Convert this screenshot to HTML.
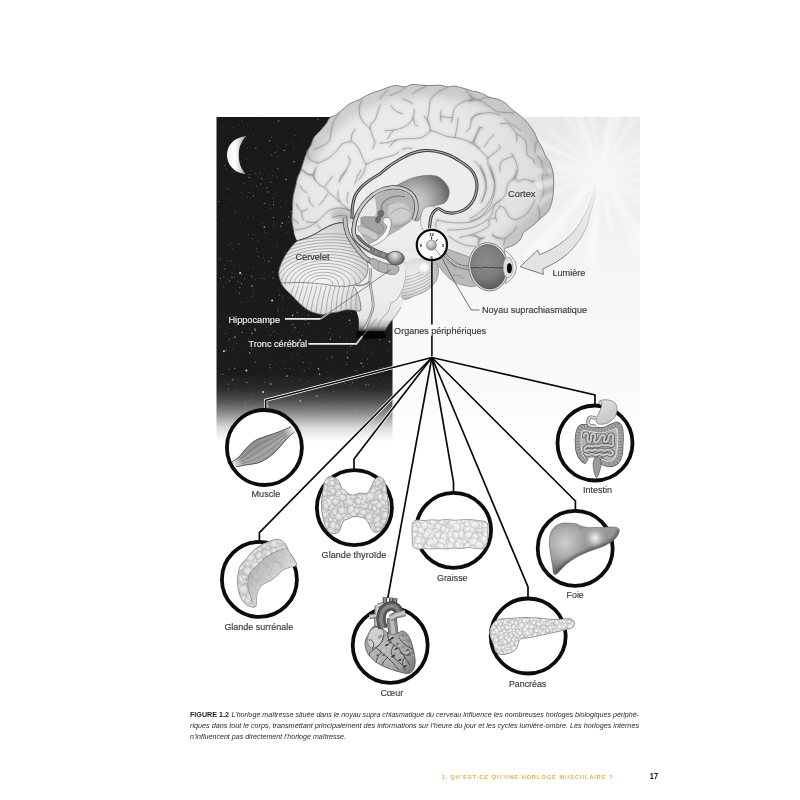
<!DOCTYPE html>
<html lang="fr">
<head>
<meta charset="utf-8">
<title>Figure 1.2 – L’horloge maîtresse</title>
<style>
html,body{margin:0;padding:0;background:#fff;}
body{width:800px;height:800px;overflow:hidden;font-family:"Liberation Sans",sans-serif;}
svg{display:block;}
</style>
</head>
<body>
<svg width="800" height="800" viewBox="0 0 800 800">
<defs>
<linearGradient id="gDark" x1="0" y1="117" x2="0" y2="441" gradientUnits="userSpaceOnUse">
<stop offset="0" stop-color="#191919"/>
<stop offset="0.79" stop-color="#1b1b1b"/>
<stop offset="0.84" stop-color="#2c2c2c"/>
<stop offset="0.88" stop-color="#565656"/>
<stop offset="0.92" stop-color="#979797"/>
<stop offset="0.96" stop-color="#dcdcdc"/>
<stop offset="1" stop-color="#ffffff"/>
</linearGradient>
<linearGradient id="gLight" x1="0" y1="117" x2="0" y2="441" gradientUnits="userSpaceOnUse">
<stop offset="0" stop-color="#e7e7e7"/>
<stop offset="0.2" stop-color="#ececec"/>
<stop offset="0.42" stop-color="#f4f4f4"/>
<stop offset="0.55" stop-color="#f7f7f7"/>
<stop offset="0.85" stop-color="#fafafa"/>
<stop offset="1" stop-color="#ffffff"/>
</linearGradient>
<radialGradient id="gSun" cx="601" cy="171" r="60" gradientUnits="userSpaceOnUse">
<stop offset="0" stop-color="#fff" stop-opacity="0.55"/>
<stop offset="0.3" stop-color="#fff" stop-opacity="0.4"/>
<stop offset="0.6" stop-color="#fff" stop-opacity="0.2"/>
<stop offset="1" stop-color="#fff" stop-opacity="0"/>
</radialGradient>
<linearGradient id="gMoon" x1="227" y1="0" x2="246" y2="0" gradientUnits="userSpaceOnUse">
<stop offset="0" stop-color="#f4f4f4"/>
<stop offset="0.45" stop-color="#ffffff"/>
<stop offset="1" stop-color="#9a9a9a"/>
</linearGradient>
<clipPath id="cSunClip"><rect x="392.5" y="117" width="247.5" height="324"/></clipPath>
</defs>
<rect x="0" y="0" width="800" height="800" fill="#fff"/>
<rect x="392.5" y="117" width="247.5" height="324" fill="url(#gLight)"/>
<filter id="bSun" x="-30%" y="-30%" width="160%" height="160%"><feGaussianBlur stdDeviation="1.6"/></filter>
<g clip-path="url(#cSunClip)"><g filter="url(#bSun)"><path d="M601 171 L720.8 163.3 L720.9 177.1 Z" fill="#fff" fill-opacity="0.34"/><path d="M601 171 L671.8 184.2 L669.8 192.4 Z" fill="#fff" fill-opacity="0.35"/><path d="M601 171 L661.0 198.9 L656.7 206.6 Z" fill="#fff" fill-opacity="0.29"/><path d="M601 171 L687.7 230.4 L678.9 241.5 Z" fill="#fff" fill-opacity="0.21"/><path d="M601 171 L659.7 255.0 L646.8 262.7 Z" fill="#fff" fill-opacity="0.38"/><path d="M601 171 L641.7 256.1 L635.5 258.8 Z" fill="#fff" fill-opacity="0.22"/><path d="M601 171 L613.8 231.6 L608.4 232.5 Z" fill="#fff" fill-opacity="0.34"/><path d="M601 171 L596.9 264.7 L584.1 263.2 Z" fill="#fff" fill-opacity="0.39"/><path d="M601 171 L574.4 256.7 L564.1 252.8 Z" fill="#fff" fill-opacity="0.28"/><path d="M601 171 L536.4 265.7 L523.0 255.0 Z" fill="#fff" fill-opacity="0.41"/><path d="M601 171 L545.8 227.2 L541.1 222.2 Z" fill="#fff" fill-opacity="0.22"/><path d="M601 171 L499.9 225.9 L494.8 215.3 Z" fill="#fff" fill-opacity="0.32"/><path d="M601 171 L542.8 185.6 L541.3 177.5 Z" fill="#fff" fill-opacity="0.26"/><path d="M601 171 L477.3 170.5 L478.0 157.3 Z" fill="#fff" fill-opacity="0.32"/><path d="M601 171 L491.2 157.6 L493.6 144.5 Z" fill="#fff" fill-opacity="0.28"/><path d="M601 171 L487.0 125.8 L491.8 115.0 Z" fill="#fff" fill-opacity="0.43"/><path d="M601 171 L547.1 132.0 L550.8 127.3 Z" fill="#fff" fill-opacity="0.22"/><path d="M601 171 L546.2 91.7 L553.1 87.4 Z" fill="#fff" fill-opacity="0.33"/><path d="M601 171 L570.0 109.9 L578.1 106.4 Z" fill="#fff" fill-opacity="0.39"/><path d="M601 171 L584.4 99.0 L592.0 97.7 Z" fill="#fff" fill-opacity="0.28"/><path d="M601 171 L610.5 91.8 L621.0 93.8 Z" fill="#fff" fill-opacity="0.47"/><path d="M601 171 L632.0 59.7 L643.1 63.4 Z" fill="#fff" fill-opacity="0.39"/><path d="M601 171 L634.7 105.3 L644.1 111.0 Z" fill="#fff" fill-opacity="0.28"/><path d="M601 171 L659.8 117.9 L664.6 123.8 Z" fill="#fff" fill-opacity="0.22"/><path d="M601 171 L663.6 128.3 L668.1 135.8 Z" fill="#fff" fill-opacity="0.38"/><path d="M601 171 L717.4 133.4 L720.7 145.9 Z" fill="#fff" fill-opacity="0.35"/></g><circle cx="601" cy="171" r="60" fill="url(#gSun)"/></g>
<rect x="216.5" y="117" width="176" height="324" fill="url(#gDark)"/>
<filter id="fStar" x="-5%" y="-5%" width="110%" height="110%"><feGaussianBlur stdDeviation="0.35"/></filter>
<g fill="none" stroke="#fff" stroke-linecap="round" filter="url(#fStar)"><path d="M259.5 278.5h0M282.3 295.9h0M326.4 138.2h0M220.8 364.4h0M263.2 187.7h0M390.2 256.8h0M362.8 258.6h0M328.7 163.1h0M328.0 373.3h0M308.7 336.2h0M334.3 137.8h0M349.3 292.2h0M270.5 128.1h0M367.8 257.5h0M342.5 376.5h0M356.7 249.3h0M379.9 376.5h0M235.3 158.8h0M326.6 207.2h0M306.0 232.1h0M279.0 290.4h0M319.3 383.9h0M336.1 391.2h0M389.4 315.7h0M246.6 371.2h0M384.9 384.1h0M316.7 328.1h0M254.9 362.7h0M317.4 202.5h0M229.4 369.2h0M389.2 144.9h0M356.6 239.3h0M244.5 205.1h0M351.1 374.7h0M226.1 299.1h0M226.3 329.5h0M275.6 377.1h0M387.7 267.1h0M390.7 209.7h0M231.8 294.7h0M223.9 176.8h0M288.9 297.9h0M245.4 131.4h0M368.2 211.0h0M383.9 381.7h0M283.7 253.9h0M308.2 307.7h0M321.2 282.9h0M325.5 394.6h0M292.9 330.1h0M259.5 207.2h0M387.2 271.7h0M313.1 122.4h0M290.1 288.9h0M222.0 299.4h0M327.6 136.6h0M326.7 255.6h0M335.7 222.3h0M340.4 335.2h0M222.3 136.7h0M297.2 292.7h0M273.7 225.6h0M272.4 227.2h0M321.2 207.0h0M283.6 345.3h0M223.1 285.8h0M345.3 209.8h0M256.9 354.5h0M259.7 173.9h0M293.6 323.5h0M236.1 213.3h0M276.1 363.2h0M294.1 369.7h0M247.7 217.7h0M330.7 378.3h0M296.3 184.9h0M239.4 274.2h0M251.4 355.4h0M363.1 172.8h0M266.6 355.5h0M329.2 355.2h0M278.1 157.0h0M268.9 351.6h0M265.3 220.5h0M290.4 242.0h0M219.3 395.4h0M388.7 246.3h0M347.1 364.2h0M332.9 271.1h0M268.4 218.9h0M257.7 138.9h0M320.0 203.1h0M358.3 132.2h0M374.4 322.3h0M377.9 381.7h0M373.7 288.0h0M220.8 337.4h0M248.1 206.9h0M332.8 272.8h0M289.9 394.1h0M277.4 193.0h0M367.1 258.8h0M353.5 222.1h0M252.5 275.6h0M359.4 169.2h0M355.1 389.1h0M360.6 121.2h0M326.9 371.7h0M227.1 198.5h0M264.8 273.5h0M291.5 257.6h0M352.4 119.5h0M228.0 156.2h0M240.0 139.0h0M386.6 369.4h0M233.4 266.1h0M273.0 211.2h0M279.1 308.5h0M319.7 224.7h0M251.5 215.3h0M239.8 281.8h0M342.0 230.4h0M232.3 171.3h0M282.9 296.1h0M353.5 230.4h0M356.7 301.5h0M292.9 228.1h0M304.1 324.9h0M291.0 322.4h0M298.0 190.8h0M310.9 322.7h0M230.8 243.5h0M292.0 376.7h0M380.0 228.7h0M373.4 350.7h0M263.7 255.0h0M239.7 357.3h0M332.7 379.0h0M355.2 314.6h0M345.1 284.2h0M236.3 291.2h0M219.3 161.1h0M352.1 132.0h0M234.3 148.1h0M370.4 171.5h0M222.6 365.6h0M239.4 366.3h0M334.7 364.0h0M382.8 288.7h0M356.3 129.6h0M350.9 268.8h0M341.9 150.3h0M274.4 284.2h0M361.3 189.9h0M249.5 192.2h0M324.8 339.8h0M286.4 226.7h0M286.9 221.6h0M290.6 143.4h0M347.4 166.1h0M337.7 340.5h0M334.7 270.5h0M301.9 307.4h0M373.3 162.8h0M235.0 338.2h0M376.6 270.6h0M294.9 329.6h0M250.6 197.3h0M252.9 290.6h0M272.8 187.1h0M340.2 240.1h0M365.8 290.3h0M264.6 182.8h0M222.5 259.5h0M284.5 169.5h0M280.7 213.4h0M352.1 161.1h0M389.5 259.5h0M321.8 256.1h0M362.5 359.7h0M314.6 260.0h0M342.8 370.0h0M287.5 333.9h0M384.1 255.9h0M258.1 187.8h0M342.3 316.9h0M383.9 369.2h0M260.3 174.6h0M263.1 173.8h0M340.1 370.6h0M373.7 193.7h0M367.7 210.8h0M291.5 332.6h0M233.3 146.1h0M362.4 204.5h0M280.0 289.0h0M335.0 121.0h0M276.3 246.8h0M302.3 180.6h0M312.4 153.9h0M265.9 314.0h0M237.9 378.9h0M375.3 147.4h0M380.9 228.6h0M351.7 340.9h0M269.5 317.0h0M331.3 355.2h0M264.3 340.0h0M384.3 316.1h0M311.0 152.2h0M303.7 222.2h0M342.4 317.8h0M316.2 172.3h0M329.9 303.8h0M249.4 379.7h0M331.6 155.1h0M379.2 160.4h0M275.7 330.1h0M321.6 281.6h0M330.2 253.1h0M272.4 170.7h0M230.3 328.7h0M348.6 278.1h0M346.1 224.3h0M264.4 231.3h0M369.0 131.3h0M305.6 191.4h0M351.1 222.8h0M275.9 237.2h0M311.9 345.1h0M279.4 367.1h0M237.8 198.3h0M235.7 152.0h0M352.9 332.1h0M250.4 174.4h0M290.4 336.8h0M359.2 338.4h0M320.6 161.9h0M287.2 175.7h0M309.5 285.5h0M253.4 192.3h0M353.3 127.8h0M357.0 380.1h0M382.3 231.3h0M313.8 289.8h0M327.8 405.3h0M270.1 371.0h0M302.0 295.2h0M343.9 119.7h0M351.4 312.9h0M303.3 272.4h0M297.9 175.7h0M309.8 129.9h0M304.8 308.3h0M295.1 284.8h0M383.9 380.4h0M241.9 351.2h0M326.0 133.8h0M280.6 187.4h0M231.9 276.9h0M378.9 213.7h0M368.7 322.5h0M241.7 370.5h0M322.2 390.6h0M346.1 219.7h0M357.7 392.0h0M293.9 340.8h0M302.2 151.0h0M225.9 141.8h0M253.1 166.1h0M304.3 323.9h0M311.2 242.7h0M330.5 208.3h0M298.6 340.8h0M287.8 171.9h0M373.6 329.9h0M281.8 227.7h0M309.8 293.8h0M257.1 119.8h0M254.6 348.5h0M243.2 253.8h0M252.2 180.3h0M248.0 237.3h0M247.5 127.1h0M237.5 168.3h0M303.1 136.5h0M222.4 250.3h0M288.8 325.1h0M227.3 237.2h0M286.9 126.8h0M385.1 183.1h0M234.8 258.1h0M246.9 301.4h0M278.2 155.3h0M227.5 332.2h0M266.0 349.8h0M261.6 196.9h0M359.0 303.3h0M278.0 146.5h0M336.2 403.0h0M219.1 127.9h0M234.1 168.9h0M224.8 134.8h0M331.4 382.8h0M357.1 387.8h0M224.4 208.3h0M269.1 368.0h0M238.3 233.2h0M276.1 318.3h0M378.7 170.2h0M346.1 334.0h0M362.7 281.1h0M377.8 225.3h0M290.0 186.2h0M353.0 259.8h0M265.0 168.7h0M342.8 296.5h0M341.1 232.3h0M302.5 164.1h0M341.1 125.7h0M299.0 341.2h0M335.3 147.4h0M259.4 366.2h0M329.3 376.4h0M369.0 250.8h0M373.2 333.7h0M276.1 227.4h0M230.9 236.0h0M383.4 149.8h0M316.6 151.3h0M232.5 309.2h0M260.0 133.3h0M244.8 307.9h0M319.5 122.4h0M315.5 241.9h0M353.2 296.1h0M354.5 275.8h0M251.0 171.0h0M232.1 360.9h0M237.9 126.0h0M385.2 177.4h0M372.6 144.1h0M298.8 184.3h0M361.6 299.3h0M329.2 342.1h0M368.9 220.4h0M322.5 249.6h0M237.6 363.8h0M321.0 357.7h0M254.0 277.0h0M298.6 332.3h0M231.8 220.4h0M302.1 140.0h0M313.8 334.4h0M291.4 309.0h0M323.0 181.8h0M292.8 143.7h0M256.1 167.4h0M379.1 331.8h0M369.4 408.1h0M379.2 276.0h0M290.7 396.8h0M382.3 260.9h0M351.9 238.2h0M379.6 173.1h0M235.0 330.7h0M269.3 271.2h0M328.8 130.9h0M347.0 199.9h0M293.1 220.0h0M346.5 337.8h0M268.1 149.3h0M270.1 239.4h0M231.9 163.9h0M350.1 324.2h0M386.9 406.0h0M282.8 166.3h0M272.3 254.7h0M309.2 277.8h0M280.6 368.8h0M267.7 254.7h0M371.5 355.5h0M269.8 190.1h0M357.7 121.9h0M241.2 274.5h0M310.9 167.6h0M227.2 178.8h0M351.3 255.5h0M387.4 349.2h0M387.4 129.3h0M250.4 122.9h0M293.1 218.1h0M227.3 279.0h0M234.7 210.3h0M261.1 354.0h0M290.6 195.3h0M226.1 244.9h0M326.7 316.8h0M375.9 355.9h0M261.2 158.7h0M349.3 350.3h0M306.3 362.5h0M313.7 200.9h0M247.6 124.0h0M329.4 381.8h0" stroke-width="0.9" stroke-opacity="0.16"/><path d="M374.8 256.0h0M333.3 391.1h0M322.5 240.4h0M307.9 169.0h0M250.1 319.3h0M389.6 279.3h0M288.9 222.1h0M297.0 354.3h0M272.8 271.9h0M289.5 368.4h0M361.3 391.9h0M223.8 287.3h0M313.3 261.9h0M266.8 326.9h0M375.8 149.0h0M333.8 227.8h0M307.3 381.4h0M384.2 307.6h0M284.6 361.7h0M273.0 198.4h0M286.2 201.6h0M241.2 192.3h0M387.6 142.2h0M258.1 177.6h0M232.2 273.2h0M346.7 364.6h0M327.4 358.6h0M219.4 201.7h0M384.3 139.3h0M264.7 260.5h0M264.7 279.0h0M226.6 188.1h0M383.7 161.3h0M374.7 171.1h0M389.8 316.7h0M330.1 160.7h0M227.9 341.5h0M248.9 174.6h0M360.4 375.3h0M226.9 400.5h0M284.5 150.4h0M241.2 161.6h0M240.4 222.3h0M376.3 141.6h0M251.6 394.2h0M387.5 191.1h0M339.8 210.8h0M222.2 220.2h0M347.6 348.1h0M316.6 255.0h0M311.3 248.6h0M310.7 363.1h0M253.1 293.1h0M379.4 367.6h0M249.5 401.3h0M247.5 196.9h0M253.4 134.5h0M387.3 238.9h0M369.0 152.6h0M220.9 373.8h0M355.5 409.5h0M309.1 343.4h0M234.5 277.3h0M294.6 161.9h0M322.1 213.7h0M305.9 228.4h0M273.4 224.0h0M322.2 406.3h0M367.2 363.7h0M239.7 265.7h0M344.8 218.9h0M329.8 201.7h0M385.3 251.7h0M300.9 274.7h0M369.4 408.1h0M294.7 300.0h0M230.5 243.7h0M364.7 346.8h0M228.7 369.4h0M255.5 279.8h0M371.0 245.3h0M368.1 327.4h0M280.9 207.1h0M305.7 235.9h0M282.8 310.0h0M369.5 290.2h0M243.7 183.4h0M282.5 299.1h0M242.6 142.9h0M273.8 201.9h0M223.6 276.9h0M377.4 275.6h0M345.7 361.7h0M336.2 154.4h0M370.3 229.8h0M300.5 379.9h0M268.0 174.6h0M360.6 294.5h0M233.1 127.2h0M279.1 121.2h0M362.1 172.8h0M265.8 232.9h0M306.8 245.7h0M326.9 312.3h0M293.7 147.4h0M387.4 321.5h0M232.9 248.4h0M220.1 259.6h0M291.3 381.1h0M361.1 216.2h0M290.7 289.8h0M371.0 178.2h0M286.1 144.9h0M329.1 126.8h0M379.8 272.5h0M317.5 144.0h0M258.6 256.4h0M366.4 276.9h0M267.6 406.7h0M309.6 178.3h0M270.0 382.7h0M241.4 274.8h0M325.4 223.0h0M351.1 385.6h0M345.8 178.6h0M228.8 245.8h0M272.3 175.8h0M368.8 182.3h0M376.1 235.4h0M255.1 173.6h0M225.0 265.1h0M284.8 368.5h0M362.2 135.7h0M287.7 233.0h0M249.1 192.5h0M263.9 322.4h0M277.2 151.6h0M256.5 248.6h0M315.9 190.9h0M339.2 182.1h0M334.2 297.5h0M248.8 339.1h0M286.5 277.1h0M321.6 303.0h0M294.8 135.4h0M354.2 370.9h0M303.1 288.6h0M264.8 382.3h0M336.8 184.0h0M390.2 260.6h0M249.3 329.0h0M277.0 333.6h0M319.1 150.5h0M309.6 368.3h0M300.9 277.0h0M367.4 249.9h0M303.5 289.8h0M360.6 178.5h0M234.6 342.0h0M313.8 207.7h0M372.4 378.2h0M311.9 408.6h0M347.5 204.3h0M220.4 317.8h0M345.3 221.7h0M301.1 285.2h0M261.6 323.4h0M315.5 232.0h0M237.4 281.3h0M273.6 331.4h0M248.3 234.6h0M252.3 238.6h0M317.9 150.3h0M228.0 260.3h0M253.3 267.0h0M247.3 148.5h0M311.2 389.5h0M307.4 235.4h0M229.9 200.0h0M382.0 258.7h0M293.4 195.8h0M384.5 173.5h0M317.1 268.7h0M252.9 184.3h0M388.5 350.7h0M345.0 383.5h0M235.5 325.1h0M348.0 185.0h0M350.0 167.4h0M333.6 197.9h0M306.3 228.1h0M368.6 337.2h0M305.5 320.4h0M292.3 354.7h0M262.9 278.4h0M319.5 232.7h0M226.5 168.8h0M329.0 180.9h0M349.3 266.9h0M382.9 367.4h0M344.0 228.1h0M226.0 282.1h0M245.8 406.3h0M302.1 335.4h0M244.3 278.4h0M333.8 295.9h0M246.3 159.1h0M326.3 378.1h0M242.3 121.1h0M232.8 349.1h0M285.9 252.5h0M390.0 298.1h0M263.9 324.4h0M218.8 201.5h0M339.0 169.1h0M224.1 270.8h0M356.9 232.8h0M357.4 249.4h0M333.6 214.7h0M257.2 251.6h0M356.5 220.2h0M258.2 240.8h0M235.0 211.5h0M317.3 278.8h0M321.6 204.0h0M222.8 126.8h0M277.0 176.6h0M316.6 196.8h0M349.9 295.2h0M332.8 334.5h0M308.5 244.0h0M271.7 137.4h0M355.5 265.5h0M235.7 390.5h0M326.1 247.5h0M304.7 259.5h0M220.5 257.8h0M219.3 326.6h0M368.4 384.4h0M226.8 316.8h0M271.1 257.5h0M270.3 208.4h0M241.4 302.3h0M384.8 175.1h0M232.9 337.2h0M310.1 344.3h0M306.2 303.7h0M232.8 316.4h0M230.3 317.1h0M378.3 242.6h0M341.1 283.2h0M285.9 255.4h0M322.3 127.5h0M271.2 335.3h0M263.0 257.6h0M262.8 223.8h0M330.7 336.9h0M383.6 258.7h0M253.5 217.7h0M228.6 189.2h0M319.3 298.1h0M260.2 172.2h0M235.4 171.3h0M305.0 193.8h0M370.9 284.5h0M277.2 245.3h0M225.4 333.7h0M348.1 225.5h0M343.6 198.8h0M256.4 185.9h0M252.4 296.5h0M329.3 332.2h0M236.4 343.5h0M301.0 229.9h0M305.3 245.8h0M253.0 234.7h0M329.9 328.6h0M376.3 176.0h0M372.2 353.5h0" stroke-width="1.1" stroke-opacity="0.28"/><path d="M352.5 382.5h0M239.6 293.2h0M381.9 204.9h0M366.0 384.6h0M293.6 161.5h0M255.7 362.1h0M291.3 211.5h0M233.3 379.1h0M260.6 183.9h0M380.2 186.2h0M373.9 216.6h0M270.8 182.2h0M312.0 283.1h0M287.2 267.7h0M269.9 364.4h0M379.6 339.7h0M359.9 139.7h0M261.7 178.7h0M245.2 402.8h0M376.2 282.4h0M238.6 244.1h0M228.2 384.1h0M264.3 203.4h0M381.6 177.7h0M377.6 210.2h0M333.2 150.3h0M373.5 235.8h0M278.0 310.7h0M320.9 192.5h0M239.9 287.6h0M222.8 374.3h0M277.8 168.7h0M275.1 152.3h0M273.1 278.2h0M288.7 216.9h0M268.7 261.5h0M352.8 247.3h0M351.0 260.4h0M239.3 168.9h0M364.7 259.4h0M284.5 270.1h0M364.5 229.0h0M280.9 226.2h0M220.4 278.6h0M301.2 264.3h0M296.4 257.4h0M341.9 173.5h0M387.8 152.6h0M367.9 170.3h0M355.7 195.3h0M232.0 277.4h0M363.2 366.7h0M283.9 150.3h0M348.8 251.3h0M346.9 352.1h0M390.8 317.3h0M369.5 279.7h0M232.4 380.1h0M234.2 144.1h0M361.7 201.2h0M332.8 127.4h0M254.9 328.7h0M225.0 268.6h0M380.2 181.8h0M340.1 336.9h0M325.4 343.5h0M338.9 123.2h0M251.6 276.2h0M385.8 182.6h0M319.7 156.6h0M364.6 249.4h0M308.5 315.1h0M242.1 332.5h0M356.5 370.9h0M267.0 187.7h0M247.0 382.5h0M294.1 233.2h0M308.3 323.7h0M273.4 217.5h0M350.7 346.6h0M269.6 140.6h0M378.6 332.8h0M321.0 237.6h0M383.9 245.2h0M255.9 148.4h0M279.1 295.0h0M281.4 396.5h0M297.5 312.5h0M322.3 300.0h0M303.9 272.2h0M303.2 362.6h0M251.6 349.1h0M270.0 367.7h0M231.1 261.1h0M294.9 327.5h0M253.4 195.9h0M241.4 283.5h0M318.0 119.2h0M249.2 177.5h0M383.6 252.3h0M316.1 203.9h0M332.3 357.2h0M334.3 119.4h0M294.3 262.2h0M226.2 350.5h0M273.5 205.0h0M326.4 290.3h0M304.1 370.8h0M308.0 219.6h0M229.6 281.0h0M281.2 276.2h0M278.4 121.0h0M225.0 165.3h0M234.7 368.5h0M318.7 188.9h0M341.1 304.9h0M229.2 339.1h0M267.8 192.0h0M367.2 358.8h0M318.4 162.7h0M292.4 324.7h0M228.5 388.8h0M379.2 323.7h0M271.2 155.1h0" stroke-width="1.3" stroke-opacity="0.42"/><path d="M249.6 353.0h0M234.9 337.0h0M286.9 376.1h0M349.5 320.2h0M364.3 131.5h0M264.3 227.0h0M292.6 315.4h0M370.2 335.8h0M378.7 322.9h0M280.0 267.8h0M347.6 357.8h0M282.3 223.1h0M324.5 185.9h0M370.8 119.0h0M330.4 261.3h0M252.1 286.1h0M300.3 400.9h0M319.7 374.3h0M370.9 167.4h0M361.2 363.2h0M389.4 341.6h0M286.1 179.5h0M331.1 180.7h0M349.1 287.3h0M360.9 223.5h0M270.8 384.0h0M332.8 229.8h0M315.2 246.6h0M329.4 270.4h0M267.8 406.0h0M349.4 200.5h0M252.0 333.2h0M360.4 310.3h0M255.3 330.1h0M308.8 228.4h0M320.1 250.5h0M330.4 339.2h0M388.0 151.6h0M317.0 396.0h0M318.5 368.9h0" stroke-width="1.6" stroke-opacity="0.60"/><path d="M223.9 351.3h0M326.0 290.2h0M272.1 300.4h0M240.1 273.0h0M263.0 392.0h0M300.1 340.2h0M284.9 272.4h0M246.4 370.4h0" stroke-width="2.0" stroke-opacity="0.80"/></g>
<path d="M246.2 135.9 C233 137.5 227 146 227 155 C227 164 233 172.5 245.6 174.1 C240.5 168 238.8 162 238.8 155 C238.8 148 240.5 142 246.2 135.9Z" fill="url(#gMoon)"/>
<defs>
<filter id="b1" x="-20%" y="-20%" width="140%" height="140%"><feGaussianBlur stdDeviation="1.2"/></filter>
<filter id="b2" x="-20%" y="-20%" width="140%" height="140%"><feGaussianBlur stdDeviation="2.4"/></filter>
<filter id="b4" x="-30%" y="-30%" width="160%" height="160%"><feGaussianBlur stdDeviation="4.5"/></filter>
<filter id="b05" x="-20%" y="-20%" width="140%" height="140%"><feGaussianBlur stdDeviation="0.45"/></filter>
<radialGradient id="gCx" cx="395" cy="175" r="165" gradientUnits="userSpaceOnUse">
<stop offset="0" stop-color="#efefef"/>
<stop offset="0.5" stop-color="#e8e8e8"/>
<stop offset="0.8" stop-color="#e0e0e0"/>
<stop offset="1" stop-color="#d4d4d4"/>
</radialGradient>
<radialGradient id="gCb" cx="318" cy="272" r="52" gradientUnits="userSpaceOnUse">
<stop offset="0" stop-color="#f4f4f4"/>
<stop offset="0.6" stop-color="#e9e9e9"/>
<stop offset="1" stop-color="#cdcdcd"/>
</radialGradient>
<radialGradient id="gVent" cx="414" cy="203" r="38" gradientUnits="userSpaceOnUse">
<stop offset="0" stop-color="#d0d0d0"/>
<stop offset="0.35" stop-color="#bababa"/>
<stop offset="0.7" stop-color="#8c8c8c"/>
<stop offset="1" stop-color="#5e5e5e"/>
</radialGradient>
<linearGradient id="gStem" x1="0" y1="300" x2="0" y2="338" gradientUnits="userSpaceOnUse">
<stop offset="0" stop-color="#ececec"/>
<stop offset="0.5" stop-color="#e4e4e4"/>
<stop offset="0.68" stop-color="#b0b0b0"/>
<stop offset="0.82" stop-color="#3a3a3a"/>
<stop offset="0.9" stop-color="#0a0a0a"/>
<stop offset="1" stop-color="#050505"/>
</linearGradient>
<radialGradient id="gEye" cx="486" cy="262" r="27" gradientUnits="userSpaceOnUse">
<stop offset="0" stop-color="#8c8c8c"/>
<stop offset="0.6" stop-color="#7c7c7c"/>
<stop offset="1" stop-color="#5a5a5a"/>
</radialGradient>
<radialGradient id="gBulb" cx="394.5" cy="255.5" r="9" gradientUnits="userSpaceOnUse">
<stop offset="0" stop-color="#e8e8e8"/>
<stop offset="0.5" stop-color="#b0b0b0"/>
<stop offset="1" stop-color="#6c6c6c"/>
</radialGradient>
<radialGradient id="gNuc" cx="430.5" cy="243.5" r="6" gradientUnits="userSpaceOnUse">
<stop offset="0" stop-color="#e6e6e6"/>
<stop offset="0.7" stop-color="#b8b8b8"/>
<stop offset="1" stop-color="#8a8a8a"/>
</radialGradient>
<linearGradient id="gArrow" x1="596" y1="186" x2="560" y2="255" gradientUnits="userSpaceOnUse">
<stop offset="0" stop-color="#e6e6e6" stop-opacity="0.3"/>
<stop offset="0.3" stop-color="#e5e5e5" stop-opacity="0.9"/>
<stop offset="1" stop-color="#e3e3e3" stop-opacity="1"/>
</linearGradient>
<linearGradient id="gArrowS" x1="596" y1="186" x2="560" y2="255" gradientUnits="userSpaceOnUse">
<stop offset="0" stop-color="#999" stop-opacity="0"/>
<stop offset="0.4" stop-color="#999" stop-opacity="0.4"/>
<stop offset="1" stop-color="#707070" stop-opacity="1"/>
</linearGradient>
<radialGradient id="gPons" cx="414" cy="276" r="30" gradientUnits="userSpaceOnUse">
<stop offset="0" stop-color="#f0f0f0"/>
<stop offset="0.55" stop-color="#dedede"/>
<stop offset="1" stop-color="#b0b0b0"/>
</radialGradient>
<radialGradient id="gBall" cx="424" cy="267" r="7" gradientUnits="userSpaceOnUse">
<stop offset="0" stop-color="#ffffff"/>
<stop offset="0.6" stop-color="#f2f2f2"/>
<stop offset="1" stop-color="#cfcfcf"/>
</radialGradient>
</defs>
<path d="M596.0 186.0C595.9 187.5 596.0 191.8 595.5 195.0C595.0 198.2 593.9 201.7 593.0 205.0C592.1 208.3 591.0 211.6 590.0 215.0C589.0 218.4 588.5 221.8 587.0 225.5C585.5 229.2 583.8 233.2 581.0 237.5C578.2 241.8 574.5 247.0 570.5 251.0C566.5 255.0 561.6 258.5 557.0 261.5C552.4 264.5 545.1 267.8 542.7 269.0L543.5 274.4 L520.2 266.7 L537.5 250.2 L539.7 254.7C541.8 253.7 548.4 251.1 552.5 248.7C556.6 246.3 560.8 243.6 564.5 240.5C568.2 237.4 572.0 233.8 575.0 230.0C578.0 226.2 580.2 222.0 582.5 218.0C584.8 214.0 586.8 210.0 588.5 206.0C590.2 202.0 591.8 197.7 593.0 194.0C594.2 190.3 595.1 185.7 595.5 184.0Z" fill="url(#gArrow)" stroke="url(#gArrowS)" stroke-width="0.9" stroke-linejoin="miter"/>
<clipPath id="cCx"><path d="M293.7 230.0C293.2 227.3 292.2 223.3 292.0 220.0C291.8 216.7 292.3 213.6 292.5 210.0C292.7 206.4 292.7 201.9 293.0 198.7C293.3 195.5 293.9 193.3 294.4 191.0C294.9 188.7 295.5 187.2 296.0 185.0C296.5 182.8 296.7 180.5 297.5 178.0C298.3 175.5 300.0 172.8 301.0 170.0C302.0 167.2 302.6 164.2 303.7 161.0C304.8 157.8 306.3 153.7 307.5 151.0C308.7 148.3 309.9 147.2 311.0 145.0C312.1 142.8 312.5 139.8 314.0 137.5C315.5 135.2 318.0 133.2 320.0 131.0C322.0 128.8 324.3 126.2 326.0 124.0C327.7 121.8 328.5 118.9 330.0 117.5C331.5 116.1 333.5 116.4 335.0 115.6C336.5 114.8 337.3 113.8 339.0 112.5C340.7 111.2 343.0 109.1 345.0 107.5C347.0 105.9 348.5 104.3 351.0 103.0C353.5 101.7 357.2 100.7 360.0 99.4C362.8 98.1 365.0 96.2 367.5 95.0C370.0 93.8 372.9 92.7 375.0 92.0C377.1 91.3 377.9 91.3 380.0 90.6C382.1 89.8 384.8 88.3 387.5 87.5C390.2 86.7 393.1 85.7 396.0 85.6C398.9 85.5 402.5 87.1 405.0 86.9C407.5 86.8 408.5 85.0 411.0 84.7C413.5 84.4 416.8 84.8 420.0 85.0C423.2 85.2 426.7 85.6 430.0 85.6C433.3 85.6 437.1 85.0 440.0 85.2C442.9 85.4 445.0 86.7 447.5 86.9C450.0 87.1 452.1 85.9 455.0 86.2C457.9 86.5 462.1 87.9 465.0 88.7C467.9 89.5 470.4 90.7 472.5 91.2C474.6 91.7 475.4 91.3 477.5 91.9C479.6 92.5 482.9 94.1 485.0 95.0C487.1 95.9 487.7 96.8 490.0 97.5C492.3 98.2 496.0 98.4 498.7 99.4C501.4 100.4 503.7 101.9 506.0 103.7C508.3 105.5 510.6 108.3 512.5 110.0C514.4 111.7 515.6 112.2 517.5 113.7C519.4 115.2 521.6 116.7 523.7 118.7C525.8 120.8 528.1 123.5 530.0 126.0C531.9 128.5 533.8 131.4 535.0 133.7C536.2 136.0 536.3 137.7 537.5 140.0C538.7 142.3 540.8 145.0 542.0 147.5C543.2 150.0 543.7 152.5 545.0 155.0C546.3 157.5 548.7 159.6 550.0 162.5C551.3 165.4 552.4 169.6 553.0 172.5C553.6 175.4 553.6 177.1 553.7 180.0C553.8 182.9 553.7 186.9 553.5 190.0C553.3 193.1 553.1 195.8 552.5 198.7C551.9 201.6 551.1 205.0 550.0 207.5C548.9 210.0 547.7 211.8 546.0 213.7C544.3 215.6 541.8 217.0 540.0 218.7C538.2 220.4 536.9 222.0 535.0 223.7C533.1 225.4 530.6 227.2 528.7 228.7C526.8 230.2 525.2 230.6 523.7 232.5C522.2 234.4 521.7 237.9 520.0 240.0C518.3 242.1 515.8 243.8 513.7 245.0C511.6 246.2 509.2 246.9 507.5 247.5C505.8 248.1 505.6 246.9 503.7 248.7C501.8 250.4 499.3 255.8 496.0 258.0C492.7 260.2 488.3 262.0 484.0 262.0C479.7 262.0 475.3 259.0 470.0 258.0C464.7 257.0 457.0 255.3 452.0 256.0C447.0 256.7 443.7 261.0 440.0 262.0C436.3 263.0 435.0 262.0 430.0 262.0C425.0 262.0 416.7 262.0 410.0 262.0C403.3 262.0 396.7 262.7 390.0 262.0C383.3 261.3 375.7 260.7 370.0 258.0C364.3 255.3 360.2 249.7 356.0 246.0C351.8 242.3 348.5 238.3 345.0 236.0C341.5 233.7 339.2 232.2 335.0 232.0C330.8 231.8 324.6 233.8 320.0 235.0C315.4 236.2 311.2 238.1 307.5 239.0C303.8 239.9 300.1 241.1 298.0 240.6C295.9 240.1 295.7 237.8 295.0 236.0C294.3 234.2 294.2 232.7 293.7 230.0Z"/></clipPath>
<path d="M293.7 230.0C293.2 227.3 292.2 223.3 292.0 220.0C291.8 216.7 292.3 213.6 292.5 210.0C292.7 206.4 292.7 201.9 293.0 198.7C293.3 195.5 293.9 193.3 294.4 191.0C294.9 188.7 295.5 187.2 296.0 185.0C296.5 182.8 296.7 180.5 297.5 178.0C298.3 175.5 300.0 172.8 301.0 170.0C302.0 167.2 302.6 164.2 303.7 161.0C304.8 157.8 306.3 153.7 307.5 151.0C308.7 148.3 309.9 147.2 311.0 145.0C312.1 142.8 312.5 139.8 314.0 137.5C315.5 135.2 318.0 133.2 320.0 131.0C322.0 128.8 324.3 126.2 326.0 124.0C327.7 121.8 328.5 118.9 330.0 117.5C331.5 116.1 333.5 116.4 335.0 115.6C336.5 114.8 337.3 113.8 339.0 112.5C340.7 111.2 343.0 109.1 345.0 107.5C347.0 105.9 348.5 104.3 351.0 103.0C353.5 101.7 357.2 100.7 360.0 99.4C362.8 98.1 365.0 96.2 367.5 95.0C370.0 93.8 372.9 92.7 375.0 92.0C377.1 91.3 377.9 91.3 380.0 90.6C382.1 89.8 384.8 88.3 387.5 87.5C390.2 86.7 393.1 85.7 396.0 85.6C398.9 85.5 402.5 87.1 405.0 86.9C407.5 86.8 408.5 85.0 411.0 84.7C413.5 84.4 416.8 84.8 420.0 85.0C423.2 85.2 426.7 85.6 430.0 85.6C433.3 85.6 437.1 85.0 440.0 85.2C442.9 85.4 445.0 86.7 447.5 86.9C450.0 87.1 452.1 85.9 455.0 86.2C457.9 86.5 462.1 87.9 465.0 88.7C467.9 89.5 470.4 90.7 472.5 91.2C474.6 91.7 475.4 91.3 477.5 91.9C479.6 92.5 482.9 94.1 485.0 95.0C487.1 95.9 487.7 96.8 490.0 97.5C492.3 98.2 496.0 98.4 498.7 99.4C501.4 100.4 503.7 101.9 506.0 103.7C508.3 105.5 510.6 108.3 512.5 110.0C514.4 111.7 515.6 112.2 517.5 113.7C519.4 115.2 521.6 116.7 523.7 118.7C525.8 120.8 528.1 123.5 530.0 126.0C531.9 128.5 533.8 131.4 535.0 133.7C536.2 136.0 536.3 137.7 537.5 140.0C538.7 142.3 540.8 145.0 542.0 147.5C543.2 150.0 543.7 152.5 545.0 155.0C546.3 157.5 548.7 159.6 550.0 162.5C551.3 165.4 552.4 169.6 553.0 172.5C553.6 175.4 553.6 177.1 553.7 180.0C553.8 182.9 553.7 186.9 553.5 190.0C553.3 193.1 553.1 195.8 552.5 198.7C551.9 201.6 551.1 205.0 550.0 207.5C548.9 210.0 547.7 211.8 546.0 213.7C544.3 215.6 541.8 217.0 540.0 218.7C538.2 220.4 536.9 222.0 535.0 223.7C533.1 225.4 530.6 227.2 528.7 228.7C526.8 230.2 525.2 230.6 523.7 232.5C522.2 234.4 521.7 237.9 520.0 240.0C518.3 242.1 515.8 243.8 513.7 245.0C511.6 246.2 509.2 246.9 507.5 247.5C505.8 248.1 505.6 246.9 503.7 248.7C501.8 250.4 499.3 255.8 496.0 258.0C492.7 260.2 488.3 262.0 484.0 262.0C479.7 262.0 475.3 259.0 470.0 258.0C464.7 257.0 457.0 255.3 452.0 256.0C447.0 256.7 443.7 261.0 440.0 262.0C436.3 263.0 435.0 262.0 430.0 262.0C425.0 262.0 416.7 262.0 410.0 262.0C403.3 262.0 396.7 262.7 390.0 262.0C383.3 261.3 375.7 260.7 370.0 258.0C364.3 255.3 360.2 249.7 356.0 246.0C351.8 242.3 348.5 238.3 345.0 236.0C341.5 233.7 339.2 232.2 335.0 232.0C330.8 231.8 324.6 233.8 320.0 235.0C315.4 236.2 311.2 238.1 307.5 239.0C303.8 239.9 300.1 241.1 298.0 240.6C295.9 240.1 295.7 237.8 295.0 236.0C294.3 234.2 294.2 232.7 293.7 230.0Z" fill="url(#gCx)"/>
<g clip-path="url(#cCx)"><path d="M303.7 161.0C304.3 159.3 306.3 153.7 307.5 151.0C308.7 148.3 309.9 147.2 311.0 145.0C312.1 142.8 312.5 139.8 314.0 137.5C315.5 135.2 318.0 133.2 320.0 131.0C322.0 128.8 324.3 126.2 326.0 124.0C327.7 121.8 328.5 118.9 330.0 117.5C331.5 116.1 333.5 116.4 335.0 115.6C336.5 114.8 337.3 113.8 339.0 112.5C340.7 111.2 343.0 109.1 345.0 107.5C347.0 105.9 348.5 104.3 351.0 103.0C353.5 101.7 357.2 100.7 360.0 99.4C362.8 98.1 365.0 96.2 367.5 95.0C370.0 93.8 372.9 92.7 375.0 92.0C377.1 91.3 377.9 91.3 380.0 90.6C382.1 89.8 384.8 88.3 387.5 87.5C390.2 86.7 393.1 85.7 396.0 85.6C398.9 85.5 402.5 87.1 405.0 86.9C407.5 86.8 408.5 85.0 411.0 84.7C413.5 84.4 416.8 84.8 420.0 85.0C423.2 85.2 426.7 85.6 430.0 85.6C433.3 85.6 437.1 85.0 440.0 85.2C442.9 85.4 445.0 86.7 447.5 86.9C450.0 87.1 452.1 85.9 455.0 86.2C457.9 86.5 462.1 87.9 465.0 88.7C467.9 89.5 470.4 90.7 472.5 91.2C474.6 91.7 475.4 91.3 477.5 91.9C479.6 92.5 482.9 94.1 485.0 95.0C487.1 95.9 487.7 96.8 490.0 97.5C492.3 98.2 496.0 98.4 498.7 99.4C501.4 100.4 503.7 101.9 506.0 103.7C508.3 105.5 510.6 108.3 512.5 110.0C514.4 111.7 515.6 112.2 517.5 113.7C519.4 115.2 521.6 116.7 523.7 118.7C525.8 120.8 528.1 123.5 530.0 126.0C531.9 128.5 533.8 131.4 535.0 133.7C536.2 136.0 536.3 137.7 537.5 140.0C538.7 142.3 540.8 145.0 542.0 147.5C543.2 150.0 543.7 152.5 545.0 155.0C546.3 157.5 548.7 159.6 550.0 162.5C551.3 165.4 552.4 169.6 553.0 172.5C553.6 175.4 553.6 177.1 553.7 180.0C553.8 182.9 553.7 186.9 553.5 190.0C553.3 193.1 553.1 195.8 552.5 198.7C551.9 201.6 551.1 205.0 550.0 207.5C548.9 210.0 547.7 211.8 546.0 213.7C544.3 215.6 541.8 217.0 540.0 218.7C538.2 220.4 536.9 222.0 535.0 223.7C533.1 225.4 530.6 227.2 528.7 228.7C526.8 230.2 525.2 230.6 523.7 232.5C522.2 234.4 521.7 237.9 520.0 240.0C518.3 242.1 515.8 243.8 513.7 245.0C511.6 246.2 509.2 246.9 507.5 247.5C505.8 248.1 504.3 248.5 503.7 248.7" fill="none" stroke="#000" stroke-opacity="0.115" stroke-width="24" filter="url(#b4)"/>
<path d="M293.7 230.0C293.4 228.3 292.2 223.3 292.0 220.0C291.8 216.7 292.3 213.6 292.5 210.0C292.7 206.4 292.7 201.9 293.0 198.7C293.3 195.5 293.9 193.3 294.4 191.0C294.9 188.7 295.5 187.2 296.0 185.0C296.5 182.8 296.7 180.5 297.5 178.0C298.3 175.5 300.0 172.8 301.0 170.0C302.0 167.2 302.6 164.2 303.7 161.0C304.8 157.8 306.3 153.7 307.5 151.0C308.7 148.3 309.9 147.2 311.0 145.0C312.1 142.8 313.5 138.8 314.0 137.5" fill="none" stroke="#000" stroke-opacity="0.05" stroke-width="8" filter="url(#b2)"/>
<g fill="none" stroke="#000" stroke-opacity="0.065" stroke-width="3.2" stroke-linecap="round" filter="url(#b1)"><path d="M361.9 100.0C361.5 101.2 359.7 104.8 359.4 107.5C359.1 110.2 359.3 113.8 360.0 116.2C360.7 118.8 362.1 120.4 363.8 122.5C365.4 124.6 368.5 126.5 370.0 128.8C371.5 131.0 371.7 134.0 372.5 136.2C373.3 138.5 375.0 140.4 375.0 142.5C375.0 144.6 372.9 147.7 372.5 148.8"/><path d="M380.0 105.0C379.6 106.2 378.3 110.0 377.5 112.5C376.7 115.0 376.0 118.1 375.0 120.0C374.0 121.9 372.1 122.3 371.2 123.8C370.4 125.2 370.2 127.9 370.0 128.8"/><path d="M338.8 113.8C337.9 115.0 335.0 118.5 333.8 121.2C332.5 124.0 331.9 127.1 331.2 130.0C330.6 132.9 330.8 136.5 330.0 138.8C329.2 141.0 328.8 142.0 326.2 143.8C323.8 145.5 316.9 148.4 315.0 149.4"/><path d="M355.0 129.4C354.5 130.3 352.6 133.0 351.9 135.0C351.1 137.0 352.2 139.8 350.6 141.2C349.1 142.7 344.9 142.1 342.5 143.8C340.1 145.4 338.8 148.8 336.2 151.2C333.8 153.8 330.6 156.8 327.5 158.8C324.4 160.7 319.2 162.4 317.5 163.1"/><path d="M350.6 141.2C351.6 141.9 354.7 143.3 356.2 145.0C357.8 146.7 359.0 149.2 360.0 151.2C361.0 153.3 361.5 155.4 362.5 157.5C363.5 159.6 364.2 163.3 366.2 163.8C368.3 164.2 372.7 160.8 375.0 160.0C377.3 159.2 379.2 159.0 380.0 158.8"/><path d="M366.2 163.8C365.8 165.2 365.0 169.8 363.8 172.5C362.5 175.2 359.6 178.8 358.8 180.0"/><path d="M348.1 156.2C348.4 157.1 350.1 159.4 350.0 161.2C349.9 163.1 348.8 165.0 347.5 167.5C346.2 170.0 343.8 174.2 342.5 176.2C341.2 178.3 340.4 179.4 340.0 180.0"/><path d="M302.5 170.0C303.5 170.8 306.9 174.4 308.8 175.0C310.6 175.6 312.5 175.0 313.8 173.8C315.0 172.5 315.8 168.5 316.2 167.5"/><path d="M313.8 173.8C314.0 174.8 314.8 179.0 315.0 180.0"/><path d="M306.9 151.2C307.3 152.5 307.6 156.8 309.4 158.8C311.1 160.7 316.1 162.4 317.5 163.1"/><path d="M380.0 98.8C380.6 97.9 382.5 95.2 383.8 93.8C385.0 92.3 386.9 90.6 387.5 90.0"/><path d="M390.0 95.6C391.5 95.0 396.2 93.2 398.8 91.9C401.2 90.5 404.0 88.2 405.0 87.5"/><path d="M412.5 93.8C413.5 93.1 416.5 91.2 418.8 90.0C421.0 88.8 425.0 86.9 426.2 86.2"/><path d="M447.5 87.5C445.8 88.3 440.2 90.6 437.5 92.5C434.8 94.4 432.6 96.7 431.2 98.8C429.9 100.8 429.8 102.7 429.4 105.0C429.0 107.3 429.1 110.2 428.8 112.5C428.4 114.8 427.4 116.7 427.5 118.8C427.6 120.8 428.9 123.0 429.4 125.0C429.9 127.0 430.4 129.7 430.6 130.6"/><path d="M430.6 130.6C431.8 130.9 434.9 131.6 437.5 132.5C440.1 133.4 443.3 135.4 446.2 136.2C449.2 137.1 451.9 136.9 455.0 137.5C458.1 138.1 462.1 139.0 465.0 140.0C467.9 141.0 470.0 142.4 472.5 143.8C475.0 145.1 478.8 147.4 480.0 148.1"/><path d="M430.6 130.6C429.9 131.4 428.2 133.8 426.2 135.0C424.3 136.2 422.3 137.5 418.8 138.1C415.2 138.8 408.8 138.4 405.0 138.8C401.2 139.1 398.8 138.8 396.2 140.0C393.8 141.2 391.0 145.2 390.0 146.2"/><path d="M396.2 140.0C394.8 140.4 390.2 142.0 387.5 142.5C384.8 143.0 381.2 143.0 380.0 143.1"/><path d="M424.4 116.2C424.9 117.1 426.7 119.8 427.5 121.2C428.3 122.7 429.1 124.4 429.4 125.0"/><path d="M402.5 98.8C403.5 99.2 407.1 100.4 408.8 101.2C410.4 102.1 411.9 103.3 412.5 103.8"/><path d="M391.2 105.6C391.9 106.5 393.1 109.3 395.0 110.6C396.9 112.0 401.2 113.2 402.5 113.8"/><path d="M414.4 109.4C414.2 110.7 414.1 115.1 413.1 117.5C412.2 119.9 410.7 122.0 408.8 123.8C406.8 125.5 403.8 127.1 401.2 128.1C398.8 129.2 396.5 129.6 393.8 130.0C391.0 130.4 386.5 130.5 385.0 130.6"/><path d="M393.8 130.0C393.1 130.8 391.0 133.5 390.0 135.0C389.0 136.5 387.9 138.1 387.5 138.8"/><path d="M413.1 117.5C413.4 118.5 414.3 122.3 415.0 123.8C415.7 125.2 417.1 125.8 417.5 126.2"/><path d="M466.2 90.6C466.9 91.4 468.9 93.6 470.0 95.0C471.1 96.4 474.0 97.7 473.1 98.8C472.3 99.8 467.6 100.2 465.0 101.2C462.4 102.3 459.4 103.5 457.5 105.0C455.6 106.5 454.6 107.9 453.8 110.0C452.9 112.1 452.9 115.4 452.5 117.5C452.1 119.6 451.5 121.7 451.2 122.5"/><path d="M473.1 98.8C474.3 99.0 478.9 99.8 480.0 100.0"/><path d="M441.2 110.6C441.1 111.6 440.6 114.5 440.6 116.2C440.6 118.0 441.1 120.4 441.2 121.2"/><path d="M440.6 116.2C441.8 116.5 445.5 117.3 447.5 117.5C449.5 117.7 451.7 117.5 452.5 117.5"/><path d="M458.1 118.8C457.9 120.2 457.4 124.4 456.9 127.5C456.4 130.6 455.3 135.8 455.0 137.5"/><path d="M480.0 113.8C479.0 114.2 475.2 115.0 473.8 116.2C472.3 117.5 471.9 119.4 471.2 121.2C470.6 123.1 470.8 125.7 470.0 127.5C469.2 129.3 466.9 131.1 466.2 131.9"/><path d="M480.0 127.5C479.4 128.5 477.4 131.2 476.2 133.8C475.1 136.2 473.6 141.0 473.1 142.5"/><path d="M402.5 149.4C403.3 149.2 405.9 148.3 407.5 148.1C409.1 148.0 411.1 148.4 411.9 148.5"/><path d="M380.0 158.8C381.2 158.4 385.2 157.5 387.5 156.9C389.8 156.2 391.9 155.8 393.8 155.0C395.6 154.2 397.9 152.4 398.8 151.9"/><path d="M470.0 95.6C470.4 96.1 472.5 97.9 472.5 98.8C472.5 99.6 470.4 100.3 470.0 100.6"/><path d="M481.2 99.4C482.1 99.1 484.8 97.8 486.2 97.5C487.7 97.2 489.4 97.5 490.0 97.5"/><path d="M470.0 100.6C471.2 100.5 475.2 99.7 477.5 100.0C479.8 100.3 481.7 101.4 483.8 102.5C485.8 103.6 487.9 105.4 490.0 106.9C492.1 108.3 493.8 110.3 496.2 111.2C498.8 112.2 502.1 112.2 505.0 112.5C507.9 112.8 512.3 112.7 513.8 112.8"/><path d="M471.2 118.8C472.1 118.1 474.2 115.9 476.2 115.0C478.3 114.1 481.2 113.5 483.8 113.1C486.2 112.8 488.5 112.4 491.2 112.8C494.0 113.1 498.5 114.6 500.0 115.0"/><path d="M504.4 118.1C505.1 118.9 507.0 121.1 508.8 122.5C510.5 123.9 513.0 125.0 515.0 126.2C517.0 127.5 519.7 129.4 520.6 130.0"/><path d="M500.6 123.8C501.8 123.8 505.5 122.9 507.5 123.8C509.5 124.6 511.0 127.1 512.5 128.8C514.0 130.4 515.5 131.7 516.2 133.8C517.0 135.8 516.8 140.0 516.9 141.2"/><path d="M516.2 133.8C517.3 134.4 520.8 136.0 522.5 137.5C524.2 139.0 525.5 140.4 526.2 142.5C527.0 144.6 526.7 147.9 526.9 150.0C527.1 152.1 526.6 153.5 527.5 155.0C528.4 156.5 531.2 157.4 532.5 158.8C533.8 160.1 534.6 162.4 535.0 163.1"/><path d="M537.5 140.0C537.1 141.0 535.3 144.2 535.0 146.2C534.7 148.3 535.5 151.5 535.6 152.5"/><path d="M537.5 156.2C538.1 157.1 540.4 159.4 541.2 161.2C542.1 163.1 542.1 166.0 542.5 167.5C542.9 169.0 543.5 169.6 543.8 170.0"/><path d="M546.2 170.0C546.4 171.0 546.8 175.2 546.9 176.2"/><path d="M482.5 128.1C482.0 128.0 480.0 127.0 479.4 127.5C478.8 128.0 479.3 129.8 478.8 131.2C478.2 132.7 477.1 134.6 476.2 136.2C475.4 137.9 474.8 140.2 473.8 141.2C472.7 142.3 470.6 142.3 470.0 142.5"/><path d="M473.8 141.2C474.4 142.3 476.0 145.6 477.5 147.5C479.0 149.4 480.8 150.7 482.5 152.5C484.2 154.3 486.6 156.0 487.5 158.1C488.4 160.2 487.5 162.6 488.1 165.0C488.8 167.4 490.3 170.0 491.2 172.5C492.2 175.0 493.3 178.8 493.8 180.0"/><path d="M493.8 135.0C492.9 135.8 490.3 138.0 488.8 140.0C487.2 142.0 485.1 145.7 484.4 146.9"/><path d="M487.5 158.1C488.8 157.2 492.9 154.2 495.0 152.5C497.1 150.8 499.4 149.4 500.0 148.1C500.6 146.9 499.0 145.5 498.8 145.0"/><path d="M511.2 153.8C511.6 154.2 513.8 155.5 513.1 156.2C512.5 157.0 509.4 157.3 507.5 158.1C505.6 159.0 503.1 159.9 501.9 161.2C500.6 162.6 500.3 164.6 500.0 166.2C499.7 167.9 500.0 170.4 500.0 171.2"/><path d="M513.1 156.2C513.6 157.3 515.5 160.2 516.2 162.5C517.0 164.8 517.5 167.7 517.5 170.0C517.5 172.3 517.1 174.6 516.2 176.2C515.4 177.9 513.1 179.4 512.5 180.0"/><path d="M475.0 161.2C475.8 162.3 478.5 165.2 480.0 167.5C481.5 169.8 482.9 172.9 483.8 175.0C484.6 177.1 484.8 179.2 485.0 180.0"/><path d="M516.2 170.0C516.0 171.0 516.0 174.4 515.0 176.2C514.0 178.1 511.4 179.6 510.0 181.2C508.6 182.9 507.6 184.2 506.9 186.2C506.1 188.3 506.6 191.5 505.6 193.8C504.7 196.0 503.2 198.1 501.2 200.0C499.3 201.9 496.0 202.9 493.8 205.0C491.5 207.1 490.2 210.2 487.5 212.5C484.8 214.8 480.4 217.3 477.5 218.8C474.6 220.2 471.2 220.8 470.0 221.2"/><path d="M515.0 176.2C515.4 177.1 516.0 180.7 517.5 181.2C519.0 181.8 521.5 179.4 523.8 179.4C526.0 179.4 529.4 180.1 531.2 181.2C533.1 182.4 534.0 184.9 535.0 186.2C536.0 187.6 537.1 188.9 537.5 189.4"/><path d="M531.2 181.2C531.9 181.2 534.4 181.2 535.0 181.2"/><path d="M545.0 170.0C544.6 171.2 542.7 174.8 542.5 177.5C542.3 180.2 543.6 183.3 543.8 186.2C543.9 189.2 544.1 192.0 543.1 195.0C542.2 198.0 538.8 201.7 538.1 204.4C537.5 207.1 539.2 208.9 539.4 211.2C539.6 213.6 539.4 217.5 539.4 218.8"/><path d="M535.0 200.0C534.4 201.2 532.7 205.2 531.2 207.5C529.8 209.8 528.1 212.0 526.2 213.8C524.4 215.5 522.1 217.2 520.0 218.1C517.9 219.1 515.6 219.7 513.8 219.4C511.9 219.1 510.0 217.6 508.8 216.2C507.5 214.9 507.1 212.7 506.2 211.2C505.4 209.8 504.8 208.3 503.8 207.5C502.7 206.7 500.6 206.5 500.0 206.2"/><path d="M500.0 206.2C499.4 207.1 497.0 209.4 496.2 211.2C495.5 213.1 495.5 215.8 495.6 217.5C495.7 219.2 496.7 220.6 496.9 221.2"/><path d="M495.6 217.5C494.5 217.9 489.8 218.8 488.8 220.0C487.7 221.2 490.0 223.5 489.4 225.0C488.8 226.5 487.0 227.5 485.0 228.8C483.0 230.0 480.0 231.5 477.5 232.5C475.0 233.5 471.2 234.6 470.0 235.0"/><path d="M492.5 235.0C493.5 235.5 496.7 237.6 498.8 238.1C500.8 238.6 502.7 239.1 505.0 238.1C507.3 237.2 510.6 234.4 512.5 232.5C514.4 230.6 515.6 227.8 516.2 226.9"/><path d="M505.0 238.1C504.8 239.3 504.0 243.9 503.8 245.0"/><path d="M473.8 235.0C474.6 235.5 478.0 236.7 478.8 238.1C479.5 239.6 478.2 242.8 478.1 243.8"/><path d="M478.8 238.1C479.5 238.2 482.4 238.6 483.1 238.8"/><path d="M481.9 170.0C482.5 171.7 485.1 176.5 485.6 180.0C486.1 183.5 485.6 187.7 485.0 191.2C484.4 194.8 482.4 199.6 481.9 201.2"/><path d="M491.2 170.0C491.8 172.1 494.2 178.3 494.4 182.5C494.6 186.7 493.9 191.0 492.5 195.0C491.1 199.0 489.0 202.9 486.2 206.2C483.5 209.6 479.0 213.0 476.2 215.0C473.5 217.0 471.0 217.6 470.0 218.1"/><path d="M301.9 170.0C302.8 170.6 305.7 172.8 307.5 173.8C309.3 174.7 311.2 174.6 312.5 175.6C313.8 176.7 313.8 178.4 315.0 180.0C316.2 181.6 318.1 183.5 320.0 185.0C321.9 186.5 324.8 187.5 326.2 188.8C327.7 190.0 327.3 191.0 328.8 192.5C330.2 194.0 333.1 195.8 335.0 197.5C336.9 199.2 337.9 200.6 340.0 202.5C342.1 204.4 345.6 207.3 347.5 208.8C349.4 210.2 350.6 210.8 351.2 211.2"/><path d="M315.0 170.0C314.6 170.9 312.9 174.7 312.5 175.6"/><path d="M332.5 176.2C331.9 177.1 330.0 179.6 328.8 181.2C327.5 182.9 325.6 185.4 325.0 186.2"/><path d="M346.2 170.0C345.4 171.0 342.5 174.2 341.2 176.2C340.0 178.3 339.2 181.5 338.8 182.5"/><path d="M361.2 170.0C360.6 171.0 358.5 174.0 357.5 176.2C356.5 178.5 355.4 182.5 355.0 183.8"/><path d="M327.5 193.8C326.9 194.8 325.2 198.1 323.8 200.0C322.3 201.9 319.6 204.2 318.8 205.0"/><path d="M308.8 196.9C309.0 197.8 309.2 200.8 310.0 202.5C310.8 204.2 313.1 206.1 313.8 206.9"/><path d="M300.0 186.2C300.6 187.1 302.6 190.2 303.8 191.2C304.9 192.3 306.4 192.3 306.9 192.5"/><path d="M296.2 203.8C296.7 204.6 297.7 207.5 298.8 208.8C299.8 210.0 301.0 211.2 302.5 211.2C304.0 211.2 306.7 209.2 307.5 208.8"/><path d="M301.2 211.2C301.5 212.3 302.1 216.0 302.5 217.5C302.9 219.0 303.5 219.6 303.8 220.0"/><path d="M293.1 218.8C293.6 219.2 295.4 220.5 296.2 221.2C297.1 222.0 297.8 222.8 298.1 223.1"/><path d="M338.1 191.2C338.1 192.3 337.8 195.8 338.1 197.5C338.4 199.2 339.7 200.6 340.0 201.2"/><path d="M348.1 192.5C347.9 193.5 347.0 197.1 346.9 198.8C346.8 200.4 347.4 201.9 347.5 202.5"/><path d="M295.0 230.0C296.2 229.8 300.0 229.4 302.5 228.8C305.0 228.1 307.5 227.5 310.0 226.2C312.5 225.0 315.2 223.1 317.5 221.2C319.8 219.4 321.7 216.9 323.8 215.0C325.8 213.1 327.7 211.1 330.0 210.0C332.3 208.9 335.0 208.3 337.5 208.1C340.0 207.9 342.7 208.2 345.0 208.8C347.3 209.3 350.2 210.8 351.2 211.2"/><path d="M317.5 221.2C316.9 221.5 315.6 222.4 313.8 222.5C311.9 222.6 307.5 222.0 306.2 221.9"/><path d="M317.5 225.6C318.1 226.1 320.6 228.2 321.2 228.8"/><path d="M332.5 217.5C333.8 217.2 337.5 215.8 340.0 215.6C342.5 215.4 346.2 216.1 347.5 216.2"/><path d="M480.0 165.0C480.8 167.1 484.0 173.3 485.0 177.5C486.0 181.7 486.9 185.8 486.2 190.0C485.6 194.2 482.1 200.4 481.2 202.5"/><path d="M490.0 165.0C490.8 168.1 494.6 177.9 495.0 183.8C495.4 189.6 493.8 195.8 492.5 200.0C491.2 204.2 489.6 205.8 487.5 208.8C485.4 211.7 483.3 215.2 480.0 217.5C476.7 219.8 472.5 221.7 467.5 222.5C462.5 223.3 455.0 222.9 450.0 222.5C445.0 222.1 439.6 220.4 437.5 220.0"/><path d="M500.0 200.0C499.0 201.0 495.2 203.8 493.8 206.2C492.3 208.8 493.3 212.1 491.2 215.0C489.2 217.9 485.4 221.5 481.2 223.8C477.1 226.0 471.9 227.7 466.2 228.8C460.6 229.8 450.6 229.8 447.5 230.0"/><path d="M460.0 237.5C461.2 237.2 465.0 235.8 467.5 235.6C470.0 235.4 472.9 235.7 475.0 236.2C477.1 236.8 479.5 237.5 480.0 238.8C480.5 240.0 478.4 242.9 478.1 243.8"/><path d="M480.0 238.8C480.6 238.5 483.1 237.7 483.8 237.5"/><path d="M437.5 220.0C437.2 220.6 435.8 222.5 435.6 223.8C435.4 225.0 436.1 226.9 436.2 227.5"/><path d="M448.8 236.2C450.0 237.1 453.5 239.8 456.2 241.2C459.0 242.7 461.9 244.2 465.0 245.0C468.1 245.8 473.3 246.0 475.0 246.2"/><path d="M492.5 235.0C493.1 235.4 495.0 237.0 496.2 237.5C497.5 238.0 499.4 238.0 500.0 238.1"/></g>
</g>
<g fill="none" stroke="#909090" stroke-width="0.65" stroke-linecap="round"><path d="M361.9 100.0C361.5 101.2 359.7 104.8 359.4 107.5C359.1 110.2 359.3 113.8 360.0 116.2C360.7 118.8 362.1 120.4 363.8 122.5C365.4 124.6 368.5 126.5 370.0 128.8C371.5 131.0 371.7 134.0 372.5 136.2C373.3 138.5 375.0 140.4 375.0 142.5C375.0 144.6 372.9 147.7 372.5 148.8"/><path d="M380.0 105.0C379.6 106.2 378.3 110.0 377.5 112.5C376.7 115.0 376.0 118.1 375.0 120.0C374.0 121.9 372.1 122.3 371.2 123.8C370.4 125.2 370.2 127.9 370.0 128.8"/><path d="M338.8 113.8C337.9 115.0 335.0 118.5 333.8 121.2C332.5 124.0 331.9 127.1 331.2 130.0C330.6 132.9 330.8 136.5 330.0 138.8C329.2 141.0 328.8 142.0 326.2 143.8C323.8 145.5 316.9 148.4 315.0 149.4"/><path d="M355.0 129.4C354.5 130.3 352.6 133.0 351.9 135.0C351.1 137.0 352.2 139.8 350.6 141.2C349.1 142.7 344.9 142.1 342.5 143.8C340.1 145.4 338.8 148.8 336.2 151.2C333.8 153.8 330.6 156.8 327.5 158.8C324.4 160.7 319.2 162.4 317.5 163.1"/><path d="M350.6 141.2C351.6 141.9 354.7 143.3 356.2 145.0C357.8 146.7 359.0 149.2 360.0 151.2C361.0 153.3 361.5 155.4 362.5 157.5C363.5 159.6 364.2 163.3 366.2 163.8C368.3 164.2 372.7 160.8 375.0 160.0C377.3 159.2 379.2 159.0 380.0 158.8"/><path d="M366.2 163.8C365.8 165.2 365.0 169.8 363.8 172.5C362.5 175.2 359.6 178.8 358.8 180.0"/><path d="M348.1 156.2C348.4 157.1 350.1 159.4 350.0 161.2C349.9 163.1 348.8 165.0 347.5 167.5C346.2 170.0 343.8 174.2 342.5 176.2C341.2 178.3 340.4 179.4 340.0 180.0"/><path d="M302.5 170.0C303.5 170.8 306.9 174.4 308.8 175.0C310.6 175.6 312.5 175.0 313.8 173.8C315.0 172.5 315.8 168.5 316.2 167.5"/><path d="M313.8 173.8C314.0 174.8 314.8 179.0 315.0 180.0"/><path d="M306.9 151.2C307.3 152.5 307.6 156.8 309.4 158.8C311.1 160.7 316.1 162.4 317.5 163.1"/><path d="M380.0 98.8C380.6 97.9 382.5 95.2 383.8 93.8C385.0 92.3 386.9 90.6 387.5 90.0"/><path d="M390.0 95.6C391.5 95.0 396.2 93.2 398.8 91.9C401.2 90.5 404.0 88.2 405.0 87.5"/><path d="M412.5 93.8C413.5 93.1 416.5 91.2 418.8 90.0C421.0 88.8 425.0 86.9 426.2 86.2"/><path d="M447.5 87.5C445.8 88.3 440.2 90.6 437.5 92.5C434.8 94.4 432.6 96.7 431.2 98.8C429.9 100.8 429.8 102.7 429.4 105.0C429.0 107.3 429.1 110.2 428.8 112.5C428.4 114.8 427.4 116.7 427.5 118.8C427.6 120.8 428.9 123.0 429.4 125.0C429.9 127.0 430.4 129.7 430.6 130.6"/><path d="M430.6 130.6C431.8 130.9 434.9 131.6 437.5 132.5C440.1 133.4 443.3 135.4 446.2 136.2C449.2 137.1 451.9 136.9 455.0 137.5C458.1 138.1 462.1 139.0 465.0 140.0C467.9 141.0 470.0 142.4 472.5 143.8C475.0 145.1 478.8 147.4 480.0 148.1"/><path d="M430.6 130.6C429.9 131.4 428.2 133.8 426.2 135.0C424.3 136.2 422.3 137.5 418.8 138.1C415.2 138.8 408.8 138.4 405.0 138.8C401.2 139.1 398.8 138.8 396.2 140.0C393.8 141.2 391.0 145.2 390.0 146.2"/><path d="M396.2 140.0C394.8 140.4 390.2 142.0 387.5 142.5C384.8 143.0 381.2 143.0 380.0 143.1"/><path d="M424.4 116.2C424.9 117.1 426.7 119.8 427.5 121.2C428.3 122.7 429.1 124.4 429.4 125.0"/><path d="M402.5 98.8C403.5 99.2 407.1 100.4 408.8 101.2C410.4 102.1 411.9 103.3 412.5 103.8"/><path d="M391.2 105.6C391.9 106.5 393.1 109.3 395.0 110.6C396.9 112.0 401.2 113.2 402.5 113.8"/><path d="M414.4 109.4C414.2 110.7 414.1 115.1 413.1 117.5C412.2 119.9 410.7 122.0 408.8 123.8C406.8 125.5 403.8 127.1 401.2 128.1C398.8 129.2 396.5 129.6 393.8 130.0C391.0 130.4 386.5 130.5 385.0 130.6"/><path d="M393.8 130.0C393.1 130.8 391.0 133.5 390.0 135.0C389.0 136.5 387.9 138.1 387.5 138.8"/><path d="M413.1 117.5C413.4 118.5 414.3 122.3 415.0 123.8C415.7 125.2 417.1 125.8 417.5 126.2"/><path d="M466.2 90.6C466.9 91.4 468.9 93.6 470.0 95.0C471.1 96.4 474.0 97.7 473.1 98.8C472.3 99.8 467.6 100.2 465.0 101.2C462.4 102.3 459.4 103.5 457.5 105.0C455.6 106.5 454.6 107.9 453.8 110.0C452.9 112.1 452.9 115.4 452.5 117.5C452.1 119.6 451.5 121.7 451.2 122.5"/><path d="M473.1 98.8C474.3 99.0 478.9 99.8 480.0 100.0"/><path d="M441.2 110.6C441.1 111.6 440.6 114.5 440.6 116.2C440.6 118.0 441.1 120.4 441.2 121.2"/><path d="M440.6 116.2C441.8 116.5 445.5 117.3 447.5 117.5C449.5 117.7 451.7 117.5 452.5 117.5"/><path d="M458.1 118.8C457.9 120.2 457.4 124.4 456.9 127.5C456.4 130.6 455.3 135.8 455.0 137.5"/><path d="M480.0 113.8C479.0 114.2 475.2 115.0 473.8 116.2C472.3 117.5 471.9 119.4 471.2 121.2C470.6 123.1 470.8 125.7 470.0 127.5C469.2 129.3 466.9 131.1 466.2 131.9"/><path d="M480.0 127.5C479.4 128.5 477.4 131.2 476.2 133.8C475.1 136.2 473.6 141.0 473.1 142.5"/><path d="M402.5 149.4C403.3 149.2 405.9 148.3 407.5 148.1C409.1 148.0 411.1 148.4 411.9 148.5"/><path d="M380.0 158.8C381.2 158.4 385.2 157.5 387.5 156.9C389.8 156.2 391.9 155.8 393.8 155.0C395.6 154.2 397.9 152.4 398.8 151.9"/><path d="M470.0 95.6C470.4 96.1 472.5 97.9 472.5 98.8C472.5 99.6 470.4 100.3 470.0 100.6"/><path d="M481.2 99.4C482.1 99.1 484.8 97.8 486.2 97.5C487.7 97.2 489.4 97.5 490.0 97.5"/><path d="M470.0 100.6C471.2 100.5 475.2 99.7 477.5 100.0C479.8 100.3 481.7 101.4 483.8 102.5C485.8 103.6 487.9 105.4 490.0 106.9C492.1 108.3 493.8 110.3 496.2 111.2C498.8 112.2 502.1 112.2 505.0 112.5C507.9 112.8 512.3 112.7 513.8 112.8"/><path d="M471.2 118.8C472.1 118.1 474.2 115.9 476.2 115.0C478.3 114.1 481.2 113.5 483.8 113.1C486.2 112.8 488.5 112.4 491.2 112.8C494.0 113.1 498.5 114.6 500.0 115.0"/><path d="M504.4 118.1C505.1 118.9 507.0 121.1 508.8 122.5C510.5 123.9 513.0 125.0 515.0 126.2C517.0 127.5 519.7 129.4 520.6 130.0"/><path d="M500.6 123.8C501.8 123.8 505.5 122.9 507.5 123.8C509.5 124.6 511.0 127.1 512.5 128.8C514.0 130.4 515.5 131.7 516.2 133.8C517.0 135.8 516.8 140.0 516.9 141.2"/><path d="M516.2 133.8C517.3 134.4 520.8 136.0 522.5 137.5C524.2 139.0 525.5 140.4 526.2 142.5C527.0 144.6 526.7 147.9 526.9 150.0C527.1 152.1 526.6 153.5 527.5 155.0C528.4 156.5 531.2 157.4 532.5 158.8C533.8 160.1 534.6 162.4 535.0 163.1"/><path d="M537.5 140.0C537.1 141.0 535.3 144.2 535.0 146.2C534.7 148.3 535.5 151.5 535.6 152.5"/><path d="M537.5 156.2C538.1 157.1 540.4 159.4 541.2 161.2C542.1 163.1 542.1 166.0 542.5 167.5C542.9 169.0 543.5 169.6 543.8 170.0"/><path d="M546.2 170.0C546.4 171.0 546.8 175.2 546.9 176.2"/><path d="M482.5 128.1C482.0 128.0 480.0 127.0 479.4 127.5C478.8 128.0 479.3 129.8 478.8 131.2C478.2 132.7 477.1 134.6 476.2 136.2C475.4 137.9 474.8 140.2 473.8 141.2C472.7 142.3 470.6 142.3 470.0 142.5"/><path d="M473.8 141.2C474.4 142.3 476.0 145.6 477.5 147.5C479.0 149.4 480.8 150.7 482.5 152.5C484.2 154.3 486.6 156.0 487.5 158.1C488.4 160.2 487.5 162.6 488.1 165.0C488.8 167.4 490.3 170.0 491.2 172.5C492.2 175.0 493.3 178.8 493.8 180.0"/><path d="M493.8 135.0C492.9 135.8 490.3 138.0 488.8 140.0C487.2 142.0 485.1 145.7 484.4 146.9"/><path d="M487.5 158.1C488.8 157.2 492.9 154.2 495.0 152.5C497.1 150.8 499.4 149.4 500.0 148.1C500.6 146.9 499.0 145.5 498.8 145.0"/><path d="M511.2 153.8C511.6 154.2 513.8 155.5 513.1 156.2C512.5 157.0 509.4 157.3 507.5 158.1C505.6 159.0 503.1 159.9 501.9 161.2C500.6 162.6 500.3 164.6 500.0 166.2C499.7 167.9 500.0 170.4 500.0 171.2"/><path d="M513.1 156.2C513.6 157.3 515.5 160.2 516.2 162.5C517.0 164.8 517.5 167.7 517.5 170.0C517.5 172.3 517.1 174.6 516.2 176.2C515.4 177.9 513.1 179.4 512.5 180.0"/><path d="M475.0 161.2C475.8 162.3 478.5 165.2 480.0 167.5C481.5 169.8 482.9 172.9 483.8 175.0C484.6 177.1 484.8 179.2 485.0 180.0"/><path d="M516.2 170.0C516.0 171.0 516.0 174.4 515.0 176.2C514.0 178.1 511.4 179.6 510.0 181.2C508.6 182.9 507.6 184.2 506.9 186.2C506.1 188.3 506.6 191.5 505.6 193.8C504.7 196.0 503.2 198.1 501.2 200.0C499.3 201.9 496.0 202.9 493.8 205.0C491.5 207.1 490.2 210.2 487.5 212.5C484.8 214.8 480.4 217.3 477.5 218.8C474.6 220.2 471.2 220.8 470.0 221.2"/><path d="M515.0 176.2C515.4 177.1 516.0 180.7 517.5 181.2C519.0 181.8 521.5 179.4 523.8 179.4C526.0 179.4 529.4 180.1 531.2 181.2C533.1 182.4 534.0 184.9 535.0 186.2C536.0 187.6 537.1 188.9 537.5 189.4"/><path d="M531.2 181.2C531.9 181.2 534.4 181.2 535.0 181.2"/><path d="M545.0 170.0C544.6 171.2 542.7 174.8 542.5 177.5C542.3 180.2 543.6 183.3 543.8 186.2C543.9 189.2 544.1 192.0 543.1 195.0C542.2 198.0 538.8 201.7 538.1 204.4C537.5 207.1 539.2 208.9 539.4 211.2C539.6 213.6 539.4 217.5 539.4 218.8"/><path d="M535.0 200.0C534.4 201.2 532.7 205.2 531.2 207.5C529.8 209.8 528.1 212.0 526.2 213.8C524.4 215.5 522.1 217.2 520.0 218.1C517.9 219.1 515.6 219.7 513.8 219.4C511.9 219.1 510.0 217.6 508.8 216.2C507.5 214.9 507.1 212.7 506.2 211.2C505.4 209.8 504.8 208.3 503.8 207.5C502.7 206.7 500.6 206.5 500.0 206.2"/><path d="M500.0 206.2C499.4 207.1 497.0 209.4 496.2 211.2C495.5 213.1 495.5 215.8 495.6 217.5C495.7 219.2 496.7 220.6 496.9 221.2"/><path d="M495.6 217.5C494.5 217.9 489.8 218.8 488.8 220.0C487.7 221.2 490.0 223.5 489.4 225.0C488.8 226.5 487.0 227.5 485.0 228.8C483.0 230.0 480.0 231.5 477.5 232.5C475.0 233.5 471.2 234.6 470.0 235.0"/><path d="M492.5 235.0C493.5 235.5 496.7 237.6 498.8 238.1C500.8 238.6 502.7 239.1 505.0 238.1C507.3 237.2 510.6 234.4 512.5 232.5C514.4 230.6 515.6 227.8 516.2 226.9"/><path d="M505.0 238.1C504.8 239.3 504.0 243.9 503.8 245.0"/><path d="M473.8 235.0C474.6 235.5 478.0 236.7 478.8 238.1C479.5 239.6 478.2 242.8 478.1 243.8"/><path d="M478.8 238.1C479.5 238.2 482.4 238.6 483.1 238.8"/><path d="M481.9 170.0C482.5 171.7 485.1 176.5 485.6 180.0C486.1 183.5 485.6 187.7 485.0 191.2C484.4 194.8 482.4 199.6 481.9 201.2"/><path d="M491.2 170.0C491.8 172.1 494.2 178.3 494.4 182.5C494.6 186.7 493.9 191.0 492.5 195.0C491.1 199.0 489.0 202.9 486.2 206.2C483.5 209.6 479.0 213.0 476.2 215.0C473.5 217.0 471.0 217.6 470.0 218.1"/><path d="M301.9 170.0C302.8 170.6 305.7 172.8 307.5 173.8C309.3 174.7 311.2 174.6 312.5 175.6C313.8 176.7 313.8 178.4 315.0 180.0C316.2 181.6 318.1 183.5 320.0 185.0C321.9 186.5 324.8 187.5 326.2 188.8C327.7 190.0 327.3 191.0 328.8 192.5C330.2 194.0 333.1 195.8 335.0 197.5C336.9 199.2 337.9 200.6 340.0 202.5C342.1 204.4 345.6 207.3 347.5 208.8C349.4 210.2 350.6 210.8 351.2 211.2"/><path d="M315.0 170.0C314.6 170.9 312.9 174.7 312.5 175.6"/><path d="M332.5 176.2C331.9 177.1 330.0 179.6 328.8 181.2C327.5 182.9 325.6 185.4 325.0 186.2"/><path d="M346.2 170.0C345.4 171.0 342.5 174.2 341.2 176.2C340.0 178.3 339.2 181.5 338.8 182.5"/><path d="M361.2 170.0C360.6 171.0 358.5 174.0 357.5 176.2C356.5 178.5 355.4 182.5 355.0 183.8"/><path d="M327.5 193.8C326.9 194.8 325.2 198.1 323.8 200.0C322.3 201.9 319.6 204.2 318.8 205.0"/><path d="M308.8 196.9C309.0 197.8 309.2 200.8 310.0 202.5C310.8 204.2 313.1 206.1 313.8 206.9"/><path d="M300.0 186.2C300.6 187.1 302.6 190.2 303.8 191.2C304.9 192.3 306.4 192.3 306.9 192.5"/><path d="M296.2 203.8C296.7 204.6 297.7 207.5 298.8 208.8C299.8 210.0 301.0 211.2 302.5 211.2C304.0 211.2 306.7 209.2 307.5 208.8"/><path d="M301.2 211.2C301.5 212.3 302.1 216.0 302.5 217.5C302.9 219.0 303.5 219.6 303.8 220.0"/><path d="M293.1 218.8C293.6 219.2 295.4 220.5 296.2 221.2C297.1 222.0 297.8 222.8 298.1 223.1"/><path d="M338.1 191.2C338.1 192.3 337.8 195.8 338.1 197.5C338.4 199.2 339.7 200.6 340.0 201.2"/><path d="M348.1 192.5C347.9 193.5 347.0 197.1 346.9 198.8C346.8 200.4 347.4 201.9 347.5 202.5"/><path d="M295.0 230.0C296.2 229.8 300.0 229.4 302.5 228.8C305.0 228.1 307.5 227.5 310.0 226.2C312.5 225.0 315.2 223.1 317.5 221.2C319.8 219.4 321.7 216.9 323.8 215.0C325.8 213.1 327.7 211.1 330.0 210.0C332.3 208.9 335.0 208.3 337.5 208.1C340.0 207.9 342.7 208.2 345.0 208.8C347.3 209.3 350.2 210.8 351.2 211.2"/><path d="M317.5 221.2C316.9 221.5 315.6 222.4 313.8 222.5C311.9 222.6 307.5 222.0 306.2 221.9"/><path d="M317.5 225.6C318.1 226.1 320.6 228.2 321.2 228.8"/><path d="M332.5 217.5C333.8 217.2 337.5 215.8 340.0 215.6C342.5 215.4 346.2 216.1 347.5 216.2"/><path d="M480.0 165.0C480.8 167.1 484.0 173.3 485.0 177.5C486.0 181.7 486.9 185.8 486.2 190.0C485.6 194.2 482.1 200.4 481.2 202.5"/><path d="M490.0 165.0C490.8 168.1 494.6 177.9 495.0 183.8C495.4 189.6 493.8 195.8 492.5 200.0C491.2 204.2 489.6 205.8 487.5 208.8C485.4 211.7 483.3 215.2 480.0 217.5C476.7 219.8 472.5 221.7 467.5 222.5C462.5 223.3 455.0 222.9 450.0 222.5C445.0 222.1 439.6 220.4 437.5 220.0"/><path d="M500.0 200.0C499.0 201.0 495.2 203.8 493.8 206.2C492.3 208.8 493.3 212.1 491.2 215.0C489.2 217.9 485.4 221.5 481.2 223.8C477.1 226.0 471.9 227.7 466.2 228.8C460.6 229.8 450.6 229.8 447.5 230.0"/><path d="M460.0 237.5C461.2 237.2 465.0 235.8 467.5 235.6C470.0 235.4 472.9 235.7 475.0 236.2C477.1 236.8 479.5 237.5 480.0 238.8C480.5 240.0 478.4 242.9 478.1 243.8"/><path d="M480.0 238.8C480.6 238.5 483.1 237.7 483.8 237.5"/><path d="M437.5 220.0C437.2 220.6 435.8 222.5 435.6 223.8C435.4 225.0 436.1 226.9 436.2 227.5"/><path d="M448.8 236.2C450.0 237.1 453.5 239.8 456.2 241.2C459.0 242.7 461.9 244.2 465.0 245.0C468.1 245.8 473.3 246.0 475.0 246.2"/><path d="M492.5 235.0C493.1 235.4 495.0 237.0 496.2 237.5C497.5 238.0 499.4 238.0 500.0 238.1"/></g>
<g clip-path="url(#cCx)"><g filter="url(#b1)"><path d="M597 169 L535.0 191.6 L532.4 182.7 Z" fill="#fff" fill-opacity="0.45"/><path d="M597 169 L535.2 174.3 L535.0 168.1 Z" fill="#fff" fill-opacity="0.30"/><path d="M597 169 L538.2 207.0 L534.7 200.9 Z" fill="#fff" fill-opacity="0.30"/><path d="M597 169 L534.7 154.5 L536.4 148.3 Z" fill="#fff" fill-opacity="0.25"/></g></g>
<path d="M293.7 230.0C293.4 228.3 292.2 223.3 292.0 220.0C291.8 216.7 292.3 213.6 292.5 210.0C292.7 206.4 292.7 201.9 293.0 198.7C293.3 195.5 293.9 193.3 294.4 191.0C294.9 188.7 295.5 187.2 296.0 185.0C296.5 182.8 296.7 180.5 297.5 178.0C298.3 175.5 300.0 172.8 301.0 170.0C302.0 167.2 302.6 164.2 303.7 161.0C304.8 157.8 306.3 153.7 307.5 151.0C308.7 148.3 309.9 147.2 311.0 145.0C312.1 142.8 312.5 139.8 314.0 137.5C315.5 135.2 318.0 133.2 320.0 131.0C322.0 128.8 324.3 126.2 326.0 124.0C327.7 121.8 328.5 118.9 330.0 117.5C331.5 116.1 333.5 116.4 335.0 115.6C336.5 114.8 337.3 113.8 339.0 112.5C340.7 111.2 343.0 109.1 345.0 107.5C347.0 105.9 348.5 104.3 351.0 103.0C353.5 101.7 357.2 100.7 360.0 99.4C362.8 98.1 365.0 96.2 367.5 95.0C370.0 93.8 372.9 92.7 375.0 92.0C377.1 91.3 377.9 91.3 380.0 90.6C382.1 89.8 384.8 88.3 387.5 87.5C390.2 86.7 393.1 85.7 396.0 85.6C398.9 85.5 402.5 87.1 405.0 86.9C407.5 86.8 408.5 85.0 411.0 84.7C413.5 84.4 416.8 84.8 420.0 85.0C423.2 85.2 426.7 85.6 430.0 85.6C433.3 85.6 437.1 85.0 440.0 85.2C442.9 85.4 445.0 86.7 447.5 86.9C450.0 87.1 452.1 85.9 455.0 86.2C457.9 86.5 462.1 87.9 465.0 88.7C467.9 89.5 470.4 90.7 472.5 91.2C474.6 91.7 475.4 91.3 477.5 91.9C479.6 92.5 482.9 94.1 485.0 95.0C487.1 95.9 487.7 96.8 490.0 97.5C492.3 98.2 496.0 98.4 498.7 99.4C501.4 100.4 503.7 101.9 506.0 103.7C508.3 105.5 510.6 108.3 512.5 110.0C514.4 111.7 515.6 112.2 517.5 113.7C519.4 115.2 521.6 116.7 523.7 118.7C525.8 120.8 528.1 123.5 530.0 126.0C531.9 128.5 533.8 131.4 535.0 133.7C536.2 136.0 536.3 137.7 537.5 140.0C538.7 142.3 540.8 145.0 542.0 147.5C543.2 150.0 543.7 152.5 545.0 155.0C546.3 157.5 548.7 159.6 550.0 162.5C551.3 165.4 552.4 169.6 553.0 172.5C553.6 175.4 553.6 177.1 553.7 180.0C553.8 182.9 553.7 186.9 553.5 190.0C553.3 193.1 553.1 195.8 552.5 198.7C551.9 201.6 551.1 205.0 550.0 207.5C548.9 210.0 547.7 211.8 546.0 213.7C544.3 215.6 541.8 217.0 540.0 218.7C538.2 220.4 536.9 222.0 535.0 223.7C533.1 225.4 530.6 227.2 528.7 228.7C526.8 230.2 525.2 230.6 523.7 232.5C522.2 234.4 521.7 237.9 520.0 240.0C518.3 242.1 515.8 243.8 513.7 245.0C511.6 246.2 509.2 246.9 507.5 247.5C505.8 248.1 504.3 248.5 503.7 248.7" fill="none" stroke="#777" stroke-width="0.9"/>
<path d="M438.0 250.0C439.5 248.5 442.7 248.5 446.0 249.0C449.3 249.5 454.0 251.6 458.0 253.0C462.0 254.4 466.7 256.0 470.0 257.5C473.3 259.0 475.7 259.6 478.0 262.0C480.3 264.4 483.5 268.5 484.0 272.0C484.5 275.5 482.8 280.6 481.0 283.0C479.2 285.4 475.7 286.1 473.0 286.5C470.3 286.9 468.0 286.2 465.0 285.5C462.0 284.8 458.2 284.2 455.0 282.5C451.8 280.8 448.5 277.5 446.0 275.0C443.5 272.5 441.5 270.3 440.0 267.5C438.5 264.7 437.3 260.9 437.0 258.0C436.7 255.1 436.5 251.5 438.0 250.0Z" fill="#b9b9b9" stroke="#808080" stroke-width="0.7"/>
<g fill="none" stroke="#808080" stroke-width="0.6"><path d="M447 262 Q456 268 468 270"/><path d="M452 276 Q458 273 464 279"/><path d="M446 256 Q452 262 456 270"/></g>
<path d="M351.8 219.0C351.5 216.3 352.1 214.2 352.2 212.0C352.3 209.8 352.1 208.7 352.6 206.0C353.1 203.3 353.6 199.1 355.0 196.0C356.4 192.9 358.5 190.2 361.0 187.5C363.5 184.8 366.8 182.3 370.0 180.0C373.2 177.7 377.1 175.8 380.0 173.7C382.9 171.6 384.4 169.8 387.5 167.5C390.6 165.2 394.8 162.3 398.7 160.0C402.6 157.7 406.8 155.3 411.0 153.7C415.2 152.1 419.5 151.0 423.7 150.6C427.9 150.2 431.8 150.5 436.0 151.2C440.2 151.9 444.7 153.3 448.7 155.0C452.7 156.7 456.9 159.3 460.0 161.2C463.1 163.1 465.2 164.5 467.5 166.5C469.8 168.5 471.9 170.1 473.5 173.0C475.1 175.9 476.5 180.0 476.9 183.7C477.2 187.4 476.6 191.7 475.6 195.0C474.6 198.3 473.0 201.2 471.0 203.7C469.0 206.2 466.6 208.4 463.7 210.0C460.8 211.6 456.8 212.7 453.7 213.0C450.6 213.3 447.5 212.7 445.0 212.0C442.5 211.3 440.5 208.9 438.7 208.7C436.9 208.5 435.7 209.5 434.4 211.0C433.1 212.5 431.8 214.7 431.0 217.5C430.2 220.3 431.2 223.6 429.4 228.0C427.6 232.4 424.9 240.7 420.0 244.0C415.1 247.3 406.7 247.7 400.0 248.0C393.3 248.3 386.3 247.7 380.0 246.0C373.7 244.3 366.3 241.0 362.0 238.0C357.7 235.0 355.7 231.2 354.0 228.0C352.3 224.8 352.1 221.7 351.8 219.0Z" fill="#ededed"/>
<path d="M331.0 212.0C332.0 210.2 336.8 208.3 340.0 208.0C343.2 207.7 348.0 207.8 350.0 210.0C352.0 212.2 352.8 218.8 352.0 221.0C351.2 223.2 348.0 223.3 345.0 223.0C342.0 222.7 336.3 220.8 334.0 219.0C331.7 217.2 330.0 213.8 331.0 212.0Z" fill="#000" fill-opacity="0.16" filter="url(#b2)"/>
<path d="M394.0 187.5C393.5 186.7 396.9 185.3 400.0 183.7C403.1 182.1 408.3 179.3 412.5 178.0C416.7 176.7 421.1 175.9 425.0 175.6C428.9 175.3 432.9 175.1 436.0 176.0C439.1 176.9 441.6 178.9 443.7 181.0C445.8 183.1 447.9 186.2 448.7 188.7C449.5 191.2 449.3 193.7 448.7 196.0C448.1 198.3 446.9 201.0 445.0 202.5C443.1 204.0 440.2 204.2 437.5 205.0C434.8 205.8 431.2 205.8 428.7 207.0C426.2 208.2 424.1 210.3 422.5 212.5C420.9 214.7 420.4 218.8 419.0 220.0C417.6 221.2 414.3 221.7 414.0 220.0C413.7 218.3 416.7 213.3 417.0 210.0C417.3 206.7 417.0 202.9 416.0 200.0C415.0 197.1 413.2 194.4 411.0 192.5C408.8 190.6 405.8 189.3 403.0 188.5C400.2 187.7 394.5 188.3 394.0 187.5Z" fill="url(#gVent)" stroke="#6e6e6e" stroke-width="0.6"/>
<path d="M373.8 198.1C376.5 195.5 379.2 193.2 382.5 191.9C385.8 190.5 390.0 190.0 393.8 190.0C397.5 190.0 401.9 190.4 405.0 191.9C408.1 193.3 410.8 195.9 412.5 198.8C414.2 201.6 414.9 205.4 415.0 208.8C415.1 212.1 414.4 216.2 413.1 218.8C411.9 221.2 409.9 221.9 407.5 223.8C405.1 225.6 401.7 228.1 398.8 230.0C395.8 231.9 392.9 233.3 390.0 235.0C387.1 236.7 384.2 238.3 381.2 240.0C378.3 241.7 375.2 245.0 372.5 245.0C369.8 245.0 367.1 242.5 365.0 240.0C362.9 237.5 360.6 233.5 360.0 230.0C359.4 226.5 360.2 222.5 361.2 218.8C362.3 215.0 364.2 210.9 366.2 207.5C368.3 204.1 371.0 200.7 373.8 198.1Z" fill="#b4b4b4"/>
<path d="M390.0 203.8C392.0 202.4 397.0 202.0 400.0 202.5C403.0 203.0 406.4 204.8 408.1 206.9C409.9 209.0 411.1 212.6 410.6 215.0C410.1 217.4 407.6 219.8 405.0 221.2C402.4 222.7 397.6 224.1 395.0 223.8C392.4 223.4 390.5 221.6 389.4 219.4C388.2 217.2 388.0 213.2 388.1 210.6C388.2 208.0 388.0 205.1 390.0 203.8Z" fill="#cdcdcd" filter="url(#b1)"/>
<path d="M357.5 215.0C358.1 212.8 362.3 206.6 365.0 203.8C367.7 200.9 371.9 197.3 373.8 197.8C375.6 198.2 375.9 203.4 376.2 206.2C376.6 209.1 376.9 213.1 375.6 215.0C374.4 216.9 371.1 217.1 368.8 217.5C366.4 217.9 363.1 217.7 361.2 217.2C359.4 216.8 356.9 217.2 357.5 215.0Z" fill="#e6e6e6"/>
<path d="M361.2 217.5C363.1 216.2 371.7 216.5 375.0 217.5C378.3 218.5 379.8 222.0 381.2 223.8C382.8 225.5 384.1 226.4 384.0 228.1C383.9 229.8 382.5 233.7 380.6 234.0C378.7 234.3 375.3 231.5 372.5 230.0C369.7 228.5 365.6 227.1 363.8 225.0C361.9 222.9 359.4 218.8 361.2 217.5Z" fill="#a4a4a4" stroke="#707070" stroke-width="0.5"/>
<path d="M357.5 226.2C358.3 225.4 362.5 226.7 365.0 227.5C367.5 228.3 370.2 229.8 372.5 231.2C374.8 232.7 378.3 234.8 378.8 236.2C379.2 237.7 376.9 240.0 375.0 240.0C373.1 240.0 370.0 237.5 367.5 236.2C365.0 235.0 361.7 234.2 360.0 232.5C358.3 230.8 356.7 227.1 357.5 226.2Z" fill="#c9c9c9" stroke="#808080" stroke-width="0.4"/>
<path d="M383.1 219.0C383.9 218.1 386.8 217.1 388.1 217.5C389.4 217.9 390.6 219.5 391.0 221.2C391.4 223.0 391.3 225.5 390.6 228.1C389.9 230.7 388.9 234.4 386.9 236.9C384.9 239.4 381.4 241.6 378.8 243.1C376.1 244.7 372.8 246.1 371.2 246.2C369.7 246.4 368.3 244.9 369.4 243.8C370.4 242.6 375.1 241.1 377.5 239.4C379.9 237.6 382.2 235.3 383.8 233.1C385.3 230.9 386.9 227.9 386.9 226.2C386.9 224.6 384.4 224.3 383.8 223.1C383.1 221.9 382.4 219.9 383.1 219.0Z" fill="#f4f4f4" stroke="#6e6e6e" stroke-width="0.6"/>
<path d="M378.8 210.6C379.6 210.1 381.6 209.6 382.5 210.0C383.4 210.4 384.3 212.1 384.4 213.1C384.5 214.2 383.6 215.4 383.1 216.2C382.6 217.1 381.7 217.3 381.2 218.1C380.8 219.0 381.2 220.4 380.6 221.2C380.0 222.1 378.4 223.5 377.5 223.5C376.6 223.5 375.6 222.1 375.2 221.2C374.9 220.4 375.2 219.1 375.6 218.1C376.0 217.2 377.4 216.5 377.8 215.6C378.1 214.8 377.3 214.0 377.5 213.1C377.7 212.3 377.9 211.1 378.8 210.6Z" fill="#6c6c6c"/>
<path d="M381.2 209.4C381.6 208.2 381.7 204.4 383.1 202.5C384.6 200.6 387.4 198.8 390.0 197.8C392.6 196.7 396.2 196.1 398.8 196.0C401.2 195.9 404.0 196.7 405.0 196.9" fill="none" stroke="#777" stroke-width="1.2"/>
<path d="M390.0 215.0C390.8 214.2 392.9 211.1 395.0 210.0C397.1 208.9 400.0 207.9 402.5 208.1C405.0 208.3 408.8 210.7 410.0 211.2" fill="none" stroke="#888" stroke-width="0.6"/>
<path d="M386.2 206.2C386.9 205.8 388.5 204.3 390.0 203.8C391.5 203.2 394.2 203.2 395.0 203.1" fill="none" stroke="#888" stroke-width="0.6"/>
<path d="M393.8 227.5C395.2 227.1 399.8 226.0 402.5 225.0C405.2 224.0 408.8 221.9 410.0 221.2" fill="none" stroke="#888" stroke-width="0.6"/>
<path d="M421.2 215.0C421.8 212.7 422.3 210.2 423.8 208.8C425.2 207.3 428.0 206.4 430.0 206.2C432.0 206.1 435.4 206.7 435.6 208.1C435.8 209.6 432.3 212.4 431.2 215.0C430.2 217.6 429.9 221.2 429.4 223.8C428.9 226.2 429.2 229.0 428.1 230.0C427.1 231.0 424.4 231.2 423.1 230.0C421.9 228.8 420.9 225.0 420.6 222.5C420.3 220.0 420.7 217.3 421.2 215.0Z" fill="#ececec" stroke="#858585" stroke-width="0.6"/>
<path d="M415.0 223.8L403.8 238.8" fill="none" stroke="#f2f2f2" stroke-width="1.6" stroke-dasharray="2 1"/>
<path d="M413.7 219.5C414.1 217.9 416.1 213.2 416.4 210.0C416.7 206.8 416.5 202.9 415.5 200.0C414.5 197.1 412.7 194.6 410.5 192.7C408.3 190.8 405.5 189.4 402.5 188.5C399.5 187.6 395.8 187.2 392.5 187.3C389.2 187.5 385.8 188.1 382.5 189.4C379.2 190.7 375.6 192.6 372.5 195.0C369.4 197.4 366.2 200.6 363.7 203.7C361.2 206.8 359.1 210.4 357.5 213.7C355.9 217.0 355.0 220.6 354.4 223.7C353.8 226.8 353.4 229.9 353.7 232.5C354.0 235.1 354.7 236.9 356.2 239.0C357.7 241.1 360.2 243.2 362.5 245.0C364.8 246.8 368.8 249.2 370.0 250.0" fill="none" stroke="#424242" stroke-width="4.2"/>
<path d="M413.7 219.5C414.1 217.9 416.1 213.2 416.4 210.0C416.7 206.8 416.5 202.9 415.5 200.0C414.5 197.1 412.7 194.6 410.5 192.7C408.3 190.8 405.5 189.4 402.5 188.5C399.5 187.6 395.8 187.2 392.5 187.3C389.2 187.5 385.8 188.1 382.5 189.4C379.2 190.7 375.6 192.6 372.5 195.0C369.4 197.4 366.2 200.6 363.7 203.7C361.2 206.8 359.1 210.4 357.5 213.7C355.9 217.0 355.0 220.6 354.4 223.7C353.8 226.8 353.4 229.9 353.7 232.5C354.0 235.1 354.7 236.9 356.2 239.0C357.7 241.1 360.2 243.2 362.5 245.0C364.8 246.8 368.8 249.2 370.0 250.0" fill="none" stroke="#c8c8c8" stroke-width="2.8"/>
<path d="M351.8 219.0C351.9 217.8 352.1 214.2 352.2 212.0C352.3 209.8 352.1 208.7 352.6 206.0C353.1 203.3 353.6 199.1 355.0 196.0C356.4 192.9 358.5 190.2 361.0 187.5C363.5 184.8 366.8 182.3 370.0 180.0C373.2 177.7 377.1 175.8 380.0 173.7C382.9 171.6 384.4 169.8 387.5 167.5C390.6 165.2 394.8 162.3 398.7 160.0C402.6 157.7 406.8 155.3 411.0 153.7C415.2 152.1 419.5 151.0 423.7 150.6C427.9 150.2 431.8 150.5 436.0 151.2C440.2 151.9 444.7 153.3 448.7 155.0C452.7 156.7 456.9 159.3 460.0 161.2C463.1 163.1 465.2 164.5 467.5 166.5C469.8 168.5 471.9 170.1 473.5 173.0C475.1 175.9 476.5 180.0 476.9 183.7C477.2 187.4 476.6 191.7 475.6 195.0C474.6 198.3 473.0 201.2 471.0 203.7C469.0 206.2 466.6 208.4 463.7 210.0C460.8 211.6 456.8 212.7 453.7 213.0C450.6 213.3 447.5 212.7 445.0 212.0C442.5 211.3 440.5 208.9 438.7 208.7C436.9 208.5 435.7 209.5 434.4 211.0C433.1 212.5 431.8 214.7 431.0 217.5C430.2 220.3 429.7 226.2 429.4 228.0" fill="none" stroke="#3c3c3c" stroke-width="3.1"/>
<path d="M351.8 219.0C351.9 217.8 352.1 214.2 352.2 212.0C352.3 209.8 352.1 208.7 352.6 206.0C353.1 203.3 353.6 199.1 355.0 196.0C356.4 192.9 358.5 190.2 361.0 187.5C363.5 184.8 366.8 182.3 370.0 180.0C373.2 177.7 377.1 175.8 380.0 173.7C382.9 171.6 384.4 169.8 387.5 167.5C390.6 165.2 394.8 162.3 398.7 160.0C402.6 157.7 406.8 155.3 411.0 153.7C415.2 152.1 419.5 151.0 423.7 150.6C427.9 150.2 431.8 150.5 436.0 151.2C440.2 151.9 444.7 153.3 448.7 155.0C452.7 156.7 456.9 159.3 460.0 161.2C463.1 163.1 465.2 164.5 467.5 166.5C469.8 168.5 471.9 170.1 473.5 173.0C475.1 175.9 476.5 180.0 476.9 183.7C477.2 187.4 476.6 191.7 475.6 195.0C474.6 198.3 473.0 201.2 471.0 203.7C469.0 206.2 466.6 208.4 463.7 210.0C460.8 211.6 456.8 212.7 453.7 213.0C450.6 213.3 447.5 212.7 445.0 212.0C442.5 211.3 440.5 208.9 438.7 208.7C436.9 208.5 435.7 209.5 434.4 211.0C433.1 212.5 431.8 214.7 431.0 217.5C430.2 220.3 429.7 226.2 429.4 228.0" fill="none" stroke="#b0b0b0" stroke-width="1.1"/>
<path d="M360.0 256.0C357.1 258.1 357.3 264.8 356.0 268.0C354.7 271.2 350.8 276.8 350.0 280.0C349.2 283.2 349.5 288.7 350.0 292.0C350.5 295.3 352.9 301.5 354.0 305.0C355.1 308.5 357.9 314.5 358.5 318.0C359.1 321.5 358.7 328.3 358.7 331.0C358.7 333.7 355.1 337.1 358.5 338.0C361.9 338.9 381.0 338.9 384.5 338.0C388.0 337.1 384.3 333.1 385.0 331.0C385.7 328.9 388.5 324.6 390.0 322.5C391.5 320.4 394.5 317.0 396.0 315.0C397.5 313.0 399.8 309.5 401.0 307.5C402.2 305.5 403.3 301.5 405.0 300.0C406.7 298.5 411.5 297.1 414.0 296.0C416.5 294.9 421.6 293.3 424.0 292.0C426.4 290.7 430.3 287.9 432.0 286.0C433.7 284.1 436.1 280.4 437.0 278.0C437.9 275.6 438.5 270.4 438.5 268.0C438.5 265.6 438.8 261.6 437.0 260.0C435.2 258.4 428.6 257.1 425.0 256.0C421.4 254.9 414.0 252.8 410.0 252.0C406.0 251.2 399.3 250.0 395.0 250.0C390.7 250.0 382.7 251.2 378.0 252.0C373.3 252.8 362.9 253.9 360.0 256.0Z" fill="url(#gStem)"/>
<path d="M401.0 307.5C400.2 308.8 397.8 312.5 396.0 315.0C394.2 317.5 391.8 320.0 390.0 322.5C388.2 325.0 385.8 328.8 385.0 330.0" fill="none" stroke="#808080" stroke-width="0.7"/>
<rect x="356.3" y="331.2" width="28.2" height="6.6" fill="#050505"/>
<g fill="none" stroke="#858585" stroke-width="0.6"><path d="M391.0 302.0C390.6 303.5 390.2 308.0 388.5 311.0C386.8 314.0 383.1 316.8 381.0 320.0C378.9 323.2 376.8 328.3 376.0 330.0"/><path d="M405.0 262.0C405.2 264.2 406.3 270.7 406.0 275.0C405.7 279.3 404.3 284.2 403.0 288.0C401.7 291.8 399.8 295.5 398.0 298.0C396.2 300.5 393.0 302.2 392.0 303.0"/></g>
<path d="M371.0 268.0C370.8 270.4 369.8 278.0 370.0 282.5C370.2 287.0 371.5 290.8 372.0 295.0C372.5 299.2 373.6 303.3 373.0 307.5C372.4 311.7 370.1 316.4 368.7 320.0C367.3 323.6 365.2 327.5 364.5 329.0" fill="none" stroke="#777" stroke-width="2.6"/>
<path d="M371.0 268.0C370.8 270.4 369.8 278.0 370.0 282.5C370.2 287.0 371.5 290.8 372.0 295.0C372.5 299.2 373.6 303.3 373.0 307.5C372.4 311.7 370.1 316.4 368.7 320.0C367.3 323.6 365.2 327.5 364.5 329.0" fill="none" stroke="#c8c8c8" stroke-width="1.5"/>
<path d="M355 285 Q364 287 370 281" fill="none" stroke="#8a8a8a" stroke-width="1.6"/>
<path d="M405.0 264.0C405.9 261.2 409.2 260.0 412.0 259.0C414.8 258.0 418.8 258.0 422.0 258.0C425.2 258.0 428.5 258.3 431.0 259.0C433.5 259.7 435.8 260.2 437.0 262.0C438.2 263.8 438.5 267.2 438.5 270.0C438.5 272.8 438.1 276.3 437.0 279.0C435.9 281.7 434.2 283.8 432.0 286.0C429.8 288.2 427.0 290.3 424.0 292.0C421.0 293.7 417.2 294.7 414.0 296.0C410.8 297.3 407.2 300.0 405.0 300.0C402.8 300.0 401.2 298.0 401.0 296.0C400.8 294.0 403.1 291.3 404.0 288.0C404.9 284.7 406.3 280.0 406.5 276.0C406.7 272.0 404.1 266.8 405.0 264.0Z" fill="url(#gPons)"/>
<clipPath id="cPons"><path d="M405.0 264.0C405.9 261.2 409.2 260.0 412.0 259.0C414.8 258.0 418.8 258.0 422.0 258.0C425.2 258.0 428.5 258.3 431.0 259.0C433.5 259.7 435.8 260.2 437.0 262.0C438.2 263.8 438.5 267.2 438.5 270.0C438.5 272.8 438.1 276.3 437.0 279.0C435.9 281.7 434.2 283.8 432.0 286.0C429.8 288.2 427.0 290.3 424.0 292.0C421.0 293.7 417.2 294.7 414.0 296.0C410.8 297.3 407.2 300.0 405.0 300.0C402.8 300.0 401.2 298.0 401.0 296.0C400.8 294.0 403.1 291.3 404.0 288.0C404.9 284.7 406.3 280.0 406.5 276.0C406.7 272.0 404.1 266.8 405.0 264.0Z"/></clipPath>
<g clip-path="url(#cPons)" fill="none" stroke="#8c8c8c" stroke-width="0.55"><path d="M400 278.0 Q424 275.0 441 258.0"/><path d="M400 281.1 Q424 278.1 441 261.1"/><path d="M400 284.2 Q424 281.2 441 264.2"/><path d="M400 287.3 Q424 284.3 441 267.3"/><path d="M400 290.4 Q424 287.4 441 270.4"/><path d="M400 293.5 Q424 290.5 441 273.5"/><path d="M400 296.6 Q424 293.6 441 276.6"/><path d="M400 299.7 Q424 296.7 441 279.7"/><path d="M400 302.8 Q424 299.8 441 282.8"/><path d="M400 305.9 Q424 302.9 441 285.9"/></g>
<path d="M437.0 262.0C437.2 263.3 438.5 267.2 438.5 270.0C438.5 272.8 438.1 276.3 437.0 279.0C435.9 281.7 434.2 283.8 432.0 286.0C429.8 288.2 427.0 290.3 424.0 292.0C421.0 293.7 417.2 294.7 414.0 296.0C410.8 297.3 406.5 299.3 405.0 300.0" fill="none" stroke="#808080" stroke-width="0.6"/>
<ellipse cx="424.6" cy="268.5" rx="6" ry="5.8" fill="url(#gBall)"/>
<path d="M298.0 240.6C295.2 242.3 293.2 244.9 291.0 247.5C288.8 250.1 286.7 253.1 285.0 256.0C283.3 258.9 281.7 262.1 280.6 265.0C279.6 267.9 278.6 270.8 278.7 273.7C278.8 276.6 279.9 280.0 281.0 282.5C282.1 285.0 283.1 286.4 285.0 288.7C286.9 290.9 290.2 293.7 292.5 296.0C294.8 298.3 296.4 300.4 298.7 302.5C300.9 304.6 303.5 307.0 306.0 308.7C308.5 310.4 310.9 311.6 313.7 312.5C316.4 313.4 319.8 314.3 322.5 314.4C325.2 314.5 327.5 313.4 330.0 313.0C332.5 312.6 335.0 312.5 337.5 312.0C340.0 311.5 342.5 310.3 345.0 310.0C347.5 309.7 350.0 309.8 352.5 310.0C355.0 310.2 358.6 311.8 360.0 311.0C361.4 310.2 360.8 307.5 360.6 305.0C360.4 302.5 359.5 298.5 358.7 296.0C357.9 293.5 356.8 291.8 356.0 290.0C355.2 288.2 353.0 286.2 353.7 285.0C354.4 283.8 357.9 284.0 360.0 282.5C362.1 281.0 364.7 278.5 366.0 276.0C367.3 273.5 368.0 270.5 368.0 267.5C368.0 264.5 367.3 261.2 366.0 258.0C364.7 254.8 362.3 251.3 360.0 248.0C357.7 244.7 354.5 241.7 352.0 238.0C349.5 234.3 346.2 228.6 345.0 226.0C343.8 223.4 346.7 222.9 345.0 222.5C343.3 222.1 338.3 222.8 335.0 223.7C331.7 224.6 327.9 226.5 325.0 228.0C322.1 229.5 320.4 230.9 317.5 232.5C314.6 234.1 310.8 236.2 307.5 237.5C304.2 238.8 300.8 238.9 298.0 240.6Z" fill="url(#gCb)" stroke="#707070" stroke-width="0.8"/>
<clipPath id="cCb"><path d="M298.0 240.6C295.2 242.3 293.2 244.9 291.0 247.5C288.8 250.1 286.7 253.1 285.0 256.0C283.3 258.9 281.7 262.1 280.6 265.0C279.6 267.9 278.6 270.8 278.7 273.7C278.8 276.6 279.9 280.0 281.0 282.5C282.1 285.0 283.1 286.4 285.0 288.7C286.9 290.9 290.2 293.7 292.5 296.0C294.8 298.3 296.4 300.4 298.7 302.5C300.9 304.6 303.5 307.0 306.0 308.7C308.5 310.4 310.9 311.6 313.7 312.5C316.4 313.4 319.8 314.3 322.5 314.4C325.2 314.5 327.5 313.4 330.0 313.0C332.5 312.6 335.0 312.5 337.5 312.0C340.0 311.5 342.5 310.3 345.0 310.0C347.5 309.7 350.0 309.8 352.5 310.0C355.0 310.2 358.6 311.8 360.0 311.0C361.4 310.2 360.8 307.5 360.6 305.0C360.4 302.5 359.5 298.5 358.7 296.0C357.9 293.5 356.8 291.8 356.0 290.0C355.2 288.2 353.0 286.2 353.7 285.0C354.4 283.8 357.9 284.0 360.0 282.5C362.1 281.0 364.7 278.5 366.0 276.0C367.3 273.5 368.0 270.5 368.0 267.5C368.0 264.5 367.3 261.2 366.0 258.0C364.7 254.8 362.3 251.3 360.0 248.0C357.7 244.7 354.5 241.7 352.0 238.0C349.5 234.3 346.2 228.6 345.0 226.0C343.8 223.4 346.7 222.9 345.0 222.5C343.3 222.1 338.3 222.8 335.0 223.7C331.7 224.6 327.9 226.5 325.0 228.0C322.1 229.5 320.4 230.9 317.5 232.5C314.6 234.1 310.8 236.2 307.5 237.5C304.2 238.8 300.8 238.9 298.0 240.6Z"/></clipPath>
<g clip-path="url(#cCb)" fill="none" stroke="#8a8a8a" stroke-width="0.65"><path d="M312.5 284.2C312.5 284.1 312.5 283.7 312.5 283.4C312.6 283.1 312.7 282.9 312.8 282.6C312.9 282.3 313.0 282.1 313.2 281.8C313.4 281.6 313.6 281.3 313.8 281.1C314.1 280.8 314.3 280.6 314.6 280.4C314.9 280.2 315.2 280.0 315.6 279.8C315.9 279.6 316.3 279.4 316.6 279.3C317.0 279.1 317.4 279.0 317.8 278.9C318.3 278.7 318.7 278.6 319.1 278.5C319.6 278.4 320.0 278.4 320.5 278.3C321.0 278.2 321.4 278.2 321.9 278.2C322.4 278.2 322.8 278.2 323.3 278.2C323.8 278.2 324.2 278.2 324.7 278.3C325.2 278.4 325.6 278.4 326.1 278.5C326.5 278.6 326.9 278.7 327.4 278.9C327.8 279.0 328.2 279.1 328.6 279.3C328.9 279.4 329.3 279.6 329.6 279.8C330.0 280.0 330.3 280.2 330.6 280.4C330.9 280.6 331.1 280.8 331.4 281.1C331.6 281.3 331.8 281.6 332.0 281.8C332.2 282.1 332.3 282.3 332.4 282.6C332.5 282.9 332.6 283.1 332.7 283.4C332.7 283.7 332.7 283.9 332.7 284.2C332.7 284.5 332.6 284.9 332.6 285.0"/><path d="M308.0 284.3C308.0 284.1 308.0 283.5 308.0 283.1C308.1 282.7 308.2 282.3 308.4 281.9C308.6 281.5 308.8 281.1 309.1 280.7C309.3 280.3 309.6 280.0 310.0 279.6C310.3 279.3 310.7 278.9 311.2 278.6C311.6 278.3 312.1 278.0 312.6 277.7C313.1 277.4 313.7 277.1 314.2 276.9C314.8 276.7 315.4 276.4 316.0 276.2C316.7 276.1 317.3 275.9 318.0 275.7C318.6 275.6 319.3 275.5 320.0 275.4C320.7 275.3 321.4 275.3 322.1 275.2C322.8 275.2 323.6 275.2 324.3 275.2C325.0 275.3 325.7 275.3 326.4 275.4C327.1 275.5 327.8 275.6 328.4 275.7C329.1 275.9 329.7 276.1 330.4 276.2C331.0 276.4 331.6 276.7 332.2 276.9C332.7 277.1 333.3 277.4 333.8 277.7C334.3 278.0 334.8 278.3 335.2 278.6C335.7 278.9 336.1 279.3 336.4 279.6C336.8 280.0 337.1 280.3 337.3 280.7C337.6 281.1 337.8 281.5 338.0 281.9C338.2 282.3 338.3 282.7 338.4 283.1C338.4 283.5 338.5 283.9 338.4 284.3C338.4 284.7 338.3 285.3 338.2 285.5"/><path d="M303.4 284.4C303.5 284.1 303.4 283.3 303.5 282.8C303.6 282.2 303.8 281.7 304.0 281.2C304.3 280.6 304.6 280.1 304.9 279.6C305.3 279.1 305.7 278.6 306.2 278.1C306.6 277.7 307.2 277.2 307.7 276.8C308.3 276.3 309.0 275.9 309.6 275.6C310.3 275.2 311.1 274.8 311.8 274.5C312.6 274.2 313.4 273.9 314.2 273.6C315.1 273.4 315.9 273.2 316.8 273.0C317.7 272.8 318.6 272.6 319.6 272.5C320.5 272.4 321.4 272.3 322.4 272.3C323.3 272.3 324.3 272.3 325.2 272.3C326.2 272.3 327.1 272.4 328.0 272.5C329.0 272.6 329.9 272.8 330.8 273.0C331.7 273.2 332.5 273.4 333.4 273.6C334.2 273.9 335.0 274.2 335.8 274.5C336.5 274.8 337.3 275.2 338.0 275.6C338.6 275.9 339.3 276.3 339.9 276.8C340.4 277.2 341.0 277.7 341.4 278.1C341.9 278.6 342.3 279.1 342.7 279.6C343.0 280.1 343.3 280.6 343.6 281.2C343.8 281.7 344.0 282.2 344.1 282.8C344.2 283.3 344.2 283.9 344.2 284.4C344.1 285.0 343.9 285.8 343.9 286.0"/><path d="M298.9 284.5C298.9 284.2 298.9 283.1 299.0 282.5C299.2 281.8 299.4 281.1 299.7 280.4C299.9 279.8 300.3 279.1 300.8 278.5C301.2 277.9 301.7 277.2 302.3 276.7C302.9 276.1 303.6 275.5 304.3 275.0C305.0 274.4 305.8 273.9 306.7 273.4C307.5 273.0 308.5 272.5 309.4 272.1C310.4 271.7 311.4 271.4 312.4 271.0C313.5 270.7 314.6 270.4 315.7 270.2C316.8 270.0 317.9 269.8 319.1 269.6C320.3 269.5 321.4 269.4 322.6 269.3C323.8 269.3 325.0 269.3 326.2 269.3C327.4 269.4 328.5 269.5 329.7 269.6C330.9 269.8 332.0 270.0 333.1 270.2C334.2 270.4 335.3 270.7 336.4 271.0C337.4 271.4 338.4 271.7 339.4 272.1C340.3 272.5 341.3 273.0 342.1 273.4C343.0 273.9 343.8 274.4 344.5 275.0C345.2 275.5 345.9 276.1 346.5 276.7C347.1 277.2 347.6 277.9 348.0 278.5C348.5 279.1 348.9 279.8 349.1 280.4C349.4 281.1 349.6 281.8 349.8 282.5C349.9 283.1 349.9 283.8 349.9 284.5C349.8 285.2 349.6 286.2 349.5 286.6"/><path d="M294.4 284.6C294.4 284.2 294.4 283.0 294.5 282.2C294.7 281.3 294.9 280.5 295.3 279.7C295.6 278.9 296.1 278.2 296.6 277.4C297.1 276.6 297.8 275.9 298.5 275.2C299.2 274.5 300.0 273.8 300.9 273.1C301.7 272.5 302.7 271.9 303.7 271.3C304.7 270.7 305.8 270.2 307.0 269.7C308.1 269.2 309.4 268.8 310.6 268.4C311.9 268.0 313.2 267.7 314.5 267.4C315.9 267.1 317.2 266.9 318.6 266.7C320.0 266.6 321.4 266.5 322.9 266.4C324.3 266.3 325.7 266.3 327.1 266.4C328.6 266.5 330.0 266.6 331.4 266.7C332.8 266.9 334.1 267.1 335.5 267.4C336.8 267.7 338.1 268.0 339.4 268.4C340.6 268.8 341.9 269.2 343.0 269.7C344.2 270.2 345.3 270.7 346.3 271.3C347.3 271.9 348.3 272.5 349.1 273.1C350.0 273.8 350.8 274.5 351.5 275.2C352.2 275.9 352.9 276.6 353.4 277.4C353.9 278.2 354.4 278.9 354.7 279.7C355.1 280.5 355.3 281.3 355.5 282.2C355.6 283.0 355.7 283.8 355.6 284.6C355.6 285.4 355.2 286.7 355.2 287.1"/><path d="M289.9 284.7C289.9 284.2 289.9 282.8 290.0 281.8C290.2 280.9 290.5 279.9 290.9 279.0C291.3 278.1 291.8 277.2 292.5 276.3C293.1 275.4 293.8 274.5 294.6 273.7C295.5 272.9 296.4 272.1 297.4 271.3C298.4 270.6 299.6 269.9 300.8 269.2C302.0 268.5 303.2 267.9 304.6 267.3C305.9 266.8 307.4 266.3 308.8 265.8C310.3 265.4 311.8 265.0 313.4 264.6C314.9 264.3 316.5 264.1 318.2 263.9C319.8 263.7 321.5 263.5 323.1 263.5C324.8 263.4 326.4 263.4 328.1 263.5C329.7 263.5 331.4 263.7 333.0 263.9C334.7 264.1 336.3 264.3 337.8 264.6C339.4 265.0 340.9 265.4 342.4 265.8C343.8 266.3 345.3 266.8 346.6 267.3C348.0 267.9 349.2 268.5 350.4 269.2C351.6 269.9 352.8 270.6 353.8 271.3C354.8 272.1 355.7 272.9 356.6 273.7C357.4 274.5 358.1 275.4 358.7 276.3C359.4 277.2 359.9 278.1 360.3 279.0C360.7 279.9 361.0 280.9 361.2 281.8C361.3 282.8 361.4 283.8 361.3 284.7C361.3 285.7 360.9 287.1 360.8 287.6"/><path d="M285.3 284.8C285.4 284.3 285.4 282.6 285.5 281.5C285.7 280.5 286.1 279.4 286.5 278.3C287.0 277.2 287.6 276.2 288.3 275.2C289.0 274.2 289.9 273.2 290.8 272.2C291.7 271.3 292.8 270.4 294.0 269.5C295.2 268.6 296.4 267.8 297.8 267.1C299.2 266.3 300.6 265.6 302.2 265.0C303.7 264.3 305.3 263.7 307.0 263.2C308.7 262.7 310.4 262.2 312.2 261.9C314.0 261.5 315.8 261.2 317.7 261.0C319.6 260.7 321.5 260.6 323.3 260.5C325.2 260.4 327.2 260.4 329.1 260.5C330.9 260.6 332.8 260.7 334.7 261.0C336.6 261.2 338.4 261.5 340.2 261.9C342.0 262.2 343.7 262.7 345.4 263.2C347.1 263.7 348.7 264.3 350.2 265.0C351.8 265.6 353.2 266.3 354.6 267.1C356.0 267.8 357.2 268.6 358.4 269.5C359.6 270.4 360.7 271.3 361.6 272.2C362.5 273.2 363.4 274.2 364.1 275.2C364.8 276.2 365.4 277.2 365.9 278.3C366.3 279.4 366.7 280.5 366.9 281.5C367.0 282.6 367.1 283.7 367.1 284.8C367.0 285.9 366.6 287.5 366.5 288.1"/><path d="M280.8 284.9C280.9 284.3 280.8 282.5 281.1 281.2C281.3 280.0 281.7 278.8 282.2 277.6C282.7 276.4 283.4 275.2 284.1 274.1C284.9 272.9 285.9 271.8 287.0 270.8C288.0 269.7 289.2 268.7 290.6 267.7C291.9 266.7 293.3 265.8 294.8 264.9C296.4 264.1 298.0 263.3 299.8 262.6C301.5 261.8 303.3 261.2 305.2 260.6C307.1 260.0 309.1 259.5 311.1 259.1C313.1 258.7 315.1 258.3 317.2 258.1C319.3 257.8 321.5 257.7 323.6 257.6C325.7 257.5 327.9 257.5 330.0 257.6C332.1 257.7 334.3 257.8 336.4 258.1C338.5 258.3 340.5 258.7 342.5 259.1C344.5 259.5 346.5 260.0 348.4 260.6C350.3 261.2 352.1 261.8 353.8 262.6C355.6 263.3 357.2 264.1 358.8 264.9C360.3 265.8 361.7 266.7 363.0 267.7C364.4 268.7 365.6 269.7 366.6 270.8C367.7 271.8 368.7 272.9 369.5 274.1C370.2 275.2 370.9 276.4 371.4 277.6C371.9 278.8 372.3 280.0 372.5 281.2C372.8 282.5 372.8 283.7 372.8 284.9C372.7 286.2 372.2 288.0 372.1 288.6"/><path d="M276.3 285.0C276.3 284.3 276.3 282.3 276.6 280.9C276.8 279.6 277.2 278.2 277.8 276.9C278.4 275.6 279.1 274.2 280.0 273.0C280.9 271.7 281.9 270.5 283.1 269.3C284.3 268.1 285.7 266.9 287.1 265.9C288.6 264.8 290.2 263.8 291.9 262.8C293.6 261.9 295.4 261.0 297.3 260.2C299.3 259.4 301.3 258.6 303.4 258.0C305.5 257.4 307.7 256.8 309.9 256.3C312.1 255.9 314.5 255.5 316.8 255.2C319.1 254.9 321.5 254.7 323.8 254.6C326.2 254.5 328.6 254.5 331.0 254.6C333.3 254.7 335.7 254.9 338.0 255.2C340.3 255.5 342.7 255.9 344.9 256.3C347.1 256.8 349.3 257.4 351.4 258.0C353.5 258.6 355.5 259.4 357.5 260.2C359.4 261.0 361.2 261.9 362.9 262.8C364.6 263.8 366.2 264.8 367.7 265.9C369.1 266.9 370.5 268.1 371.7 269.3C372.9 270.5 373.9 271.7 374.8 273.0C375.7 274.2 376.4 275.6 377.0 276.9C377.6 278.2 378.0 279.6 378.2 280.9C378.5 282.3 378.6 283.7 378.5 285.0C378.4 286.4 377.9 288.4 377.7 289.1"/><path d="M271.8 285.1C271.8 284.4 271.8 282.1 272.1 280.6C272.3 279.1 272.8 277.6 273.4 276.2C274.1 274.7 274.9 273.3 275.8 271.9C276.8 270.5 278.0 269.1 279.3 267.8C280.6 266.5 282.1 265.2 283.7 264.1C285.3 262.9 287.0 261.7 288.9 260.7C290.8 259.6 292.8 258.7 294.9 257.8C297.0 256.9 299.3 256.1 301.6 255.4C303.9 254.7 306.3 254.1 308.8 253.6C311.2 253.0 313.8 252.6 316.3 252.3C318.9 252.0 321.5 251.8 324.1 251.7C326.7 251.6 329.3 251.6 331.9 251.7C334.5 251.8 337.1 252.0 339.7 252.3C342.2 252.6 344.8 253.0 347.2 253.6C349.7 254.1 352.1 254.7 354.4 255.4C356.7 256.1 359.0 256.9 361.1 257.8C363.2 258.7 365.2 259.6 367.1 260.7C369.0 261.7 370.7 262.9 372.3 264.1C373.9 265.2 375.4 266.5 376.7 267.8C378.0 269.1 379.2 270.5 380.2 271.9C381.1 273.3 381.9 274.7 382.6 276.2C383.2 277.6 383.7 279.1 383.9 280.6C384.2 282.1 384.3 283.6 384.2 285.1C384.1 286.6 383.5 288.9 383.4 289.6"/><path d="M267.3 285.2C267.3 284.4 267.3 281.9 267.6 280.3C267.9 278.7 268.4 277.0 269.0 275.4C269.7 273.9 270.6 272.3 271.7 270.8C272.8 269.2 274.0 267.7 275.4 266.3C276.9 264.9 278.5 263.5 280.2 262.2C282.0 260.9 283.9 259.7 286.0 258.6C288.0 257.4 290.2 256.4 292.5 255.4C294.8 254.4 297.3 253.6 299.8 252.8C302.3 252.0 304.9 251.3 307.6 250.8C310.3 250.2 313.1 249.8 315.8 249.4C318.6 249.1 321.5 248.8 324.3 248.7C327.2 248.6 330.0 248.6 332.9 248.7C335.7 248.8 338.6 249.1 341.4 249.4C344.1 249.8 346.9 250.2 349.6 250.8C352.3 251.3 354.9 252.0 357.4 252.8C359.9 253.6 362.4 254.4 364.7 255.4C367.0 256.4 369.2 257.4 371.2 258.6C373.3 259.7 375.2 260.9 377.0 262.2C378.7 263.5 380.3 264.9 381.8 266.3C383.2 267.7 384.4 269.2 385.5 270.8C386.6 272.3 387.5 273.9 388.2 275.4C388.8 277.0 389.3 278.7 389.6 280.3C389.9 281.9 390.0 283.6 389.9 285.2C389.8 286.9 389.2 289.3 389.0 290.1"/><path d="M262.7 285.3C262.8 284.4 262.7 281.8 263.1 280.0C263.4 278.2 263.9 276.5 264.7 274.7C265.4 273.0 266.4 271.3 267.5 269.7C268.7 268.0 270.1 266.4 271.6 264.8C273.2 263.3 274.9 261.8 276.8 260.4C278.7 259.0 280.8 257.7 283.0 256.4C285.2 255.2 287.6 254.1 290.1 253.0C292.6 252.0 295.3 251.0 298.0 250.2C300.7 249.3 303.6 248.6 306.5 248.0C309.4 247.4 312.4 246.9 315.4 246.5C318.4 246.2 321.5 245.9 324.6 245.8C327.6 245.7 330.8 245.7 333.8 245.8C336.9 245.9 340.0 246.2 343.0 246.5C346.0 246.9 349.0 247.4 351.9 248.0C354.8 248.6 357.7 249.3 360.4 250.2C363.1 251.0 365.8 252.0 368.3 253.0C370.8 254.1 373.2 255.2 375.4 256.4C377.6 257.7 379.7 259.0 381.6 260.4C383.5 261.8 385.2 263.3 386.8 264.8C388.3 266.4 389.7 268.0 390.9 269.7C392.0 271.3 393.0 273.0 393.7 274.7C394.5 276.5 395.0 278.2 395.3 280.0C395.7 281.8 395.8 283.6 395.7 285.3C395.6 287.1 394.9 289.8 394.7 290.7"/><path d="M258.2 285.4C258.3 284.5 258.2 281.6 258.6 279.7C258.9 277.8 259.5 275.9 260.3 274.0C261.1 272.2 262.1 270.3 263.4 268.5C264.6 266.8 266.1 265.0 267.8 263.4C269.4 261.7 271.3 260.1 273.4 258.6C275.4 257.1 277.7 255.7 280.0 254.3C282.4 253.0 285.0 251.7 287.7 250.6C290.4 249.5 293.2 248.5 296.2 247.6C299.1 246.7 302.2 245.9 305.3 245.2C308.4 244.6 311.7 244.0 314.9 243.6C318.2 243.2 321.5 243.0 324.8 242.8C328.1 242.7 331.5 242.7 334.8 242.8C338.1 243.0 341.4 243.2 344.7 243.6C347.9 244.0 351.2 244.6 354.3 245.2C357.4 245.9 360.5 246.7 363.4 247.6C366.4 248.5 369.2 249.5 371.9 250.6C374.6 251.7 377.2 253.0 379.6 254.3C381.9 255.7 384.2 257.1 386.2 258.6C388.3 260.1 390.2 261.7 391.8 263.4C393.5 265.0 395.0 266.8 396.2 268.5C397.5 270.3 398.5 272.2 399.3 274.0C400.1 275.9 400.7 277.8 401.0 279.7C401.4 281.6 401.5 283.5 401.4 285.4C401.3 287.4 400.5 290.2 400.3 291.2"/><path d="M253.7 285.5C253.8 284.5 253.7 281.4 254.1 279.4C254.4 277.3 255.1 275.3 255.9 273.3C256.8 271.3 257.9 269.3 259.2 267.4C260.6 265.5 262.2 263.7 263.9 261.9C265.7 260.1 267.7 258.4 269.9 256.8C272.1 255.2 274.5 253.6 277.1 252.2C279.6 250.8 282.4 249.4 285.3 248.2C288.2 247.0 291.2 245.9 294.4 245.0C297.5 244.0 300.8 243.2 304.1 242.5C307.5 241.8 311.0 241.2 314.4 240.8C317.9 240.3 321.5 240.0 325.0 239.9C328.6 239.8 332.2 239.8 335.8 239.9C339.3 240.0 342.9 240.3 346.4 240.8C349.8 241.2 353.3 241.8 356.7 242.5C360.0 243.2 363.3 244.0 366.4 245.0C369.6 245.9 372.6 247.0 375.5 248.2C378.4 249.4 381.2 250.8 383.7 252.2C386.3 253.6 388.7 255.2 390.9 256.8C393.1 258.4 395.1 260.1 396.9 261.9C398.6 263.7 400.2 265.5 401.6 267.4C402.9 269.3 404.0 271.3 404.9 273.3C405.7 275.3 406.4 277.3 406.7 279.4C407.1 281.4 407.2 283.5 407.1 285.5C407.0 287.6 406.2 290.7 406.0 291.7"/><path d="M249.2 285.6C249.2 284.5 249.2 281.2 249.6 279.1C250.0 276.9 250.6 274.7 251.6 272.6C252.5 270.5 253.7 268.4 255.1 266.3C256.5 264.3 258.2 262.3 260.1 260.4C262.0 258.5 264.1 256.7 266.5 255.0C268.8 253.2 271.4 251.6 274.1 250.1C276.9 248.6 279.8 247.1 282.9 245.8C285.9 244.6 289.2 243.4 292.6 242.4C295.9 241.3 299.4 240.4 303.0 239.7C306.6 238.9 310.3 238.3 314.0 237.9C317.7 237.4 321.5 237.1 325.3 237.0C329.1 236.8 332.9 236.8 336.7 237.0C340.5 237.1 344.3 237.4 348.0 237.9C351.7 238.3 355.4 238.9 359.0 239.7C362.6 240.4 366.1 241.3 369.4 242.4C372.8 243.4 376.1 244.6 379.1 245.8C382.2 247.1 385.1 248.6 387.9 250.1C390.6 251.6 393.2 253.2 395.5 255.0C397.9 256.7 400.0 258.5 401.9 260.4C403.8 262.3 405.5 264.3 406.9 266.3C408.3 268.4 409.5 270.5 410.4 272.6C411.4 274.7 412.0 276.9 412.4 279.1C412.8 281.2 413.0 283.5 412.8 285.6C412.7 287.8 411.8 291.1 411.6 292.2"/><path d="M244.7 285.7C244.7 284.6 244.7 281.1 245.1 278.8C245.5 276.4 246.2 274.1 247.2 271.9C248.2 269.6 249.4 267.4 250.9 265.2C252.4 263.1 254.2 261.0 256.3 258.9C258.3 256.9 260.6 255.0 263.0 253.1C265.5 251.3 268.3 249.6 271.2 248.0C274.1 246.3 277.2 244.8 280.5 243.5C283.7 242.1 287.2 240.8 290.8 239.8C294.3 238.7 298.1 237.7 301.8 236.9C305.6 236.1 309.6 235.5 313.5 235.0C317.5 234.5 321.5 234.2 325.5 234.0C329.6 233.8 333.6 233.8 337.7 234.0C341.7 234.2 345.7 234.5 349.7 235.0C353.6 235.5 357.6 236.1 361.4 236.9C365.1 237.7 368.9 238.7 372.4 239.8C376.0 240.8 379.5 242.1 382.7 243.5C386.0 244.8 389.1 246.3 392.0 248.0C394.9 249.6 397.7 251.3 400.2 253.1C402.6 255.0 404.9 256.9 406.9 258.9C409.0 261.0 410.8 263.1 412.3 265.2C413.8 267.4 415.0 269.6 416.0 271.9C417.0 274.1 417.7 276.4 418.1 278.8C418.5 281.1 418.7 283.4 418.5 285.7C418.4 288.1 417.5 291.5 417.3 292.7"/><path d="M294.0 285.5 Q289.5 300 283.0 318"/><path d="M298.6 285.5 Q294.1 300 288.3 318"/><path d="M303.2 285.5 Q298.7 300 293.6 318"/><path d="M307.8 285.5 Q303.3 300 298.9 318"/><path d="M312.4 285.5 Q307.9 300 304.2 318"/><path d="M317.0 285.5 Q312.5 300 309.5 318"/><path d="M321.6 285.5 Q317.1 300 314.8 318"/><path d="M326.2 285.5 Q321.7 300 320.1 318"/><path d="M330.8 285.5 Q326.3 300 325.4 318"/><path d="M335.4 285.5 Q330.9 300 330.7 318"/><path d="M340.0 285.5 Q335.5 300 336.0 318"/><path d="M344.6 285.5 Q340.1 300 341.3 318"/><path d="M349.2 285.5 Q344.7 300 346.6 318"/><path d="M353.8 285.5 Q349.3 300 351.9 318"/><path d="M358.4 285.5 Q353.9 300 357.2 318"/><path d="M363.0 285.5 Q358.5 300 362.5 318"/><path d="M279 283 Q310 281 335 286 Q346 287.5 354 285" stroke="#777" stroke-width="0.8"/></g>
<path d="M298.0 240.6C299.6 240.1 304.2 238.8 307.5 237.5C310.8 236.2 314.6 234.1 317.5 232.5C320.4 230.9 322.1 229.5 325.0 228.0C327.9 226.5 331.7 224.6 335.0 223.7C338.3 222.8 343.3 222.7 345.0 222.5" fill="none" stroke="#4a4a4a" stroke-width="0.9"/>
<path d="M345.0 217.5C345.1 218.9 345.0 222.9 345.6 226.0C346.2 229.1 347.1 232.7 348.7 236.0C350.3 239.3 352.7 242.8 355.0 246.0C357.3 249.2 360.0 252.5 362.5 255.0C365.0 257.5 367.4 259.2 370.0 261.0C372.6 262.8 376.7 265.2 378.0 266.0" fill="none" stroke="#484848" stroke-width="4.6"/>
<path d="M345.0 217.5C345.1 218.9 345.0 222.9 345.6 226.0C346.2 229.1 347.1 232.7 348.7 236.0C350.3 239.3 352.7 242.8 355.0 246.0C357.3 249.2 360.0 252.5 362.5 255.0C365.0 257.5 367.4 259.2 370.0 261.0C372.6 262.8 376.7 265.2 378.0 266.0" fill="none" stroke="#bebebe" stroke-width="3.2"/>
<path d="M369.0 261.0C368.8 259.4 371.3 258.5 373.0 258.5C374.7 258.5 376.8 260.2 379.0 261.0C381.2 261.8 383.8 262.9 386.0 263.5C388.2 264.1 390.0 264.1 392.0 264.5C394.0 264.9 396.9 264.9 398.0 266.0C399.1 267.1 399.2 269.6 398.5 271.0C397.8 272.4 395.9 274.1 394.0 274.5C392.1 274.9 389.3 274.0 387.0 273.5C384.7 273.0 382.2 272.4 380.0 271.5C377.8 270.6 375.8 269.8 374.0 268.0C372.2 266.2 369.2 262.6 369.0 261.0Z" fill="#b2b2b2" stroke="#666" stroke-width="0.7"/>
<g fill="none" stroke="#777" stroke-width="0.5"><path d="M378 262 Q380 267 378 271"/><path d="M387 264 Q389 269 387 273"/></g>
<path d="M357.5 238.5C358.2 239.3 360.2 241.8 362.0 243.5C363.8 245.2 366.2 247.0 368.5 248.5C370.8 250.0 373.6 251.4 376.0 252.5C378.4 253.6 380.9 254.2 383.0 255.0C385.1 255.8 387.6 256.7 388.5 257.0" fill="none" stroke="#505050" stroke-width="6.6" stroke-linecap="round"/>
<path d="M357.5 238.5C358.2 239.3 360.2 241.8 362.0 243.5C363.8 245.2 366.2 247.0 368.5 248.5C370.8 250.0 373.6 251.4 376.0 252.5C378.4 253.6 380.9 254.2 383.0 255.0C385.1 255.8 387.6 256.7 388.5 257.0" fill="none" stroke="#808080" stroke-width="5.2" stroke-linecap="round"/>
<circle cx="362.0" cy="243.5" r="2.7" fill="#8c8c8c" stroke="#5a5a5a" stroke-width="0.45"/>
<circle cx="368.5" cy="248.5" r="2.7" fill="#8c8c8c" stroke="#5a5a5a" stroke-width="0.45"/>
<circle cx="376.0" cy="252.5" r="2.7" fill="#8c8c8c" stroke="#5a5a5a" stroke-width="0.45"/>
<circle cx="383.0" cy="255.0" r="2.7" fill="#8c8c8c" stroke="#5a5a5a" stroke-width="0.45"/>
<circle cx="388.5" cy="257.0" r="2.7" fill="#8c8c8c" stroke="#5a5a5a" stroke-width="0.45"/>
<path d="M357.5 213.7C357.0 215.4 355.0 220.6 354.4 223.7C353.8 226.8 353.4 229.9 353.7 232.5C354.0 235.1 354.7 236.9 356.2 239.0C357.7 241.1 360.2 243.2 362.5 245.0C364.8 246.8 368.8 249.2 370.0 250.0" fill="none" stroke="#424242" stroke-width="4.2"/>
<path d="M357.5 213.7C357.0 215.4 355.0 220.6 354.4 223.7C353.8 226.8 353.4 229.9 353.7 232.5C354.0 235.1 354.7 236.9 356.2 239.0C357.7 241.1 360.2 243.2 362.5 245.0C364.8 246.8 368.8 249.2 370.0 250.0" fill="none" stroke="#c8c8c8" stroke-width="2.8"/>
<ellipse cx="395.6" cy="258.1" rx="8.7" ry="6.8" fill="url(#gBulb)" stroke="#4c4c4c" stroke-width="0.8" transform="rotate(6 395.6 258.1)"/>
<path d="M440.0 247.0C440.5 247.8 441.6 250.1 443.0 252.0C444.4 253.9 446.3 256.5 448.7 258.7C451.1 260.9 454.9 263.8 457.5 265.2C460.1 266.6 461.8 266.7 464.0 267.2C466.2 267.7 469.8 267.9 471.0 268.0" fill="none" stroke="#666" stroke-width="3.8"/>
<path d="M440.0 247.0C440.5 247.8 441.6 250.1 443.0 252.0C444.4 253.9 446.3 256.5 448.7 258.7C451.1 260.9 454.9 263.8 457.5 265.2C460.1 266.6 461.8 266.7 464.0 267.2C466.2 267.7 469.8 267.9 471.0 268.0" fill="none" stroke="#d4d4d4" stroke-width="2.4"/>
<path d="M440.0 247.0C440.5 247.8 441.6 250.1 443.0 252.0C444.4 253.9 446.3 256.5 448.7 258.7C451.1 260.9 454.9 263.8 457.5 265.2C460.1 266.6 461.8 266.7 464.0 267.2C466.2 267.7 469.8 267.9 471.0 268.0" fill="none" stroke="#777" stroke-width="1.2" stroke-dasharray="0.7 0.9"/>
<g transform="rotate(-8 488.6 266.8)">
<ellipse cx="488.6" cy="266.8" rx="19.8" ry="24.2" fill="#e4e4e4" stroke="#5e5e5e" stroke-width="0.7"/>
<ellipse cx="488.6" cy="266.8" rx="17.9" ry="22.4" fill="url(#gEye)" stroke="#4e4e4e" stroke-width="0.5"/>
</g>
<path d="M504 249.5 Q512 255 515.5 262 Q517.5 268 515 274 Q511.5 280 505.5 284 Q509 268 504 249.5Z" fill="#f1f1f1" stroke="#606060" stroke-width="0.6"/>
<ellipse cx="508" cy="267.6" rx="5" ry="10.4" fill="#dddddd" stroke="#707070" stroke-width="0.5"/>
<ellipse cx="509.4" cy="268.2" rx="2.5" ry="5" fill="#0a0a0a"/>
<path d="M471 268 L476 267.4 L480 268.2 L485 267 L489 267.9 L493 267.2 L497 268.1 L503.5 267.6" fill="none" stroke="#2c2c2c" stroke-width="0.7"/>
<circle cx="431.9" cy="245.0" r="15.1" fill="#fcfcfc" stroke="#080808" stroke-width="2.2"/>
<path d="M434 247.5 L441.5 257" stroke="#555" stroke-width="0.6" fill="none"/>
<circle cx="431.4" cy="245.1" r="5.1" fill="url(#gNuc)" stroke="#777" stroke-width="0.5"/>
<g font-family="'Liberation Sans', sans-serif" font-weight="bold" font-size="4.2" fill="#0a0a0a" text-anchor="middle" style="opacity:0.999"><text x="431.6" y="235.6">12</text><text x="443" y="246.8">3</text><text x="431.6" y="258.6">6</text><text x="420.6" y="246.8">9</text></g>
<path d="M431.6 236.6 L431.6 239.6 M435.6 241.4 L437.8 239.4" stroke="#111" stroke-width="0.9" fill="none"/>
<path d="M431.9 261.2 L431.9 324.6 M431.9 335.8 L431.9 357.5" stroke="#0a0a0a" stroke-width="1.6" fill="none"/>
<path d="M441.5 257 L455 282.5 L471.2 310 L479.6 310" stroke="#4e4e4e" stroke-width="0.8" fill="none"/>
<path d="M285 318.8 L320.6 318.8" stroke="#efefef" stroke-width="1.7" fill="none"/>
<path d="M320.6 318.8 L330 312.4" stroke="#e8e8e8" stroke-width="1.6" fill="none"/>
<path d="M320.6 318.8 L391 269.4" stroke="#5a5a5a" stroke-width="0.7" fill="none"/>
<path d="M308.5 343.8 L356.5 343.8 L362.5 336" stroke="#efefef" stroke-width="1.7" fill="none"/>
<path d="M356.5 343.8 L377 318" stroke="#9a9a9a" stroke-width="0.7" fill="none"/>
<g fill="none" stroke="#fff" stroke-width="3.2" stroke-linejoin="miter"><path d="M431.9 357.5L265.7 400.3L265.7 409.0"/><path d="M431.9 357.5L259.4 532.6L259.4 541.0"/><path d="M431.9 357.5L354.0 459.0L354.0 469.0"/><path d="M431.9 357.5L387.8 598.0"/><path d="M431.9 357.5L453.5 482.0L453.5 492.0"/><path d="M431.9 357.5L528.0 587.0L528.0 597.0"/><path d="M431.9 357.5L575.4 501.0L575.4 510.0"/><path d="M431.9 357.5L595.0 395.0L595.0 404.0"/></g>
<g fill="none" stroke="#0a0a0a" stroke-width="1.7" stroke-linejoin="miter"><path d="M431.9 357.5L265.7 400.3L265.7 409.0"/><path d="M431.9 357.5L259.4 532.6L259.4 541.0"/><path d="M431.9 357.5L354.0 459.0L354.0 469.0"/><path d="M431.9 357.5L387.8 598.0"/><path d="M431.9 357.5L453.5 482.0L453.5 492.0"/><path d="M431.9 357.5L528.0 587.0L528.0 597.0"/><path d="M431.9 357.5L575.4 501.0L575.4 510.0"/><path d="M431.9 357.5L595.0 395.0L595.0 404.0"/></g>
<defs>
<radialGradient id="gLump" cx="0.4" cy="0.38" r="0.65">
<stop offset="0" stop-color="#f6f6f6"/>
<stop offset="0.6" stop-color="#e6e6e6"/>
<stop offset="1" stop-color="#cfcfcf"/>
</radialGradient>
<radialGradient id="gLumpD" cx="0.4" cy="0.38" r="0.65">
<stop offset="0" stop-color="#ececec"/>
<stop offset="0.6" stop-color="#d8d8d8"/>
<stop offset="1" stop-color="#bcbcbc"/>
</radialGradient>
<linearGradient id="gMus" x1="244" y1="432" x2="272" y2="470" gradientUnits="userSpaceOnUse">
<stop offset="0" stop-color="#a6a6a6"/>
<stop offset="0.35" stop-color="#8a8a8a"/>
<stop offset="0.6" stop-color="#a2a2a2"/>
<stop offset="1" stop-color="#7a7a7a"/>
</linearGradient>
<linearGradient id="gMusT" x1="232" y1="466" x2="294" y2="427" gradientUnits="userSpaceOnUse">
<stop offset="0" stop-color="#fff" stop-opacity="1"/>
<stop offset="0.16" stop-color="#fff" stop-opacity="0"/>
<stop offset="0.84" stop-color="#fff" stop-opacity="0"/>
<stop offset="1" stop-color="#fff" stop-opacity="1"/>
</linearGradient>
<linearGradient id="gLiv" x1="560" y1="522" x2="575" y2="572" gradientUnits="userSpaceOnUse">
<stop offset="0" stop-color="#8a8a8a"/>
<stop offset="0.25" stop-color="#9c9c9c"/>
<stop offset="0.65" stop-color="#909090"/>
<stop offset="1" stop-color="#5e5e5e"/>
</linearGradient>
<radialGradient id="gLivH1" cx="565" cy="543" r="26" gradientUnits="userSpaceOnUse">
<stop offset="0" stop-color="#d2d2d2" stop-opacity="0.95"/>
<stop offset="0.5" stop-color="#c0c0c0" stop-opacity="0.6"/>
<stop offset="1" stop-color="#aaa" stop-opacity="0"/>
</radialGradient>
<radialGradient id="gLivH2" cx="595" cy="538" r="11" gradientUnits="userSpaceOnUse">
<stop offset="0" stop-color="#f4f4f4" stop-opacity="1"/>
<stop offset="0.4" stop-color="#dcdcdc" stop-opacity="0.7"/>
<stop offset="1" stop-color="#bbb" stop-opacity="0"/>
</radialGradient>
<linearGradient id="gAdr" x1="250" y1="570" x2="275" y2="590" gradientUnits="userSpaceOnUse">
<stop offset="0" stop-color="#a8a8a8"/>
<stop offset="1" stop-color="#dedede"/>
</linearGradient>
<linearGradient id="gAorta" x1="378" y1="0" x2="398" y2="0" gradientUnits="userSpaceOnUse">
<stop offset="0" stop-color="#5a5a5a"/>
<stop offset="0.45" stop-color="#8a8a8a"/>
<stop offset="1" stop-color="#4e4e4e"/>
</linearGradient>
<linearGradient id="gPulm" x1="388" y1="0" x2="402" y2="0" gradientUnits="userSpaceOnUse">
<stop offset="0" stop-color="#8a8a8a"/>
<stop offset="0.5" stop-color="#c4c4c4"/>
<stop offset="1" stop-color="#8e8e8e"/>
</linearGradient>
<radialGradient id="gHeart" cx="385" cy="650" r="32" gradientUnits="userSpaceOnUse">
<stop offset="0" stop-color="#bcbcbc"/>
<stop offset="0.7" stop-color="#a4a4a4"/>
<stop offset="1" stop-color="#7e7e7e"/>
</radialGradient>
<linearGradient id="gSto" x1="598" y1="402" x2="612" y2="424" gradientUnits="userSpaceOnUse">
<stop offset="0" stop-color="#e0e0e0"/>
<stop offset="1" stop-color="#c2c2c2"/>
</linearGradient>
</defs>
<circle cx="264.4" cy="447.5" r="37.5" fill="#fff" stroke="#0c0c0c" stroke-width="3.8"/>
<clipPath id="c_mus"><path d="M232.1 461.8C233.3 460.9 236.6 459.0 239.0 456.8C241.4 454.5 243.8 450.7 246.5 448.0C249.2 445.3 251.9 442.5 255.2 440.5C258.6 438.5 262.5 437.6 266.5 436.1C270.5 434.7 274.9 433.3 279.0 431.8C283.1 430.2 288.9 427.6 290.9 426.8L294.6 431.8C293.3 433.0 289.3 436.3 286.5 439.2C283.7 442.2 280.9 446.1 277.8 449.2C274.6 452.4 271.1 455.7 267.8 458.0C264.4 460.3 261.3 461.9 257.8 463.0C254.2 464.1 250.1 464.2 246.5 464.9C242.9 465.5 237.6 466.4 235.9 466.8Z"/></clipPath>
<path d="M232.1 461.8C233.3 460.9 236.6 459.0 239.0 456.8C241.4 454.5 243.8 450.7 246.5 448.0C249.2 445.3 251.9 442.5 255.2 440.5C258.6 438.5 262.5 437.6 266.5 436.1C270.5 434.7 274.9 433.3 279.0 431.8C283.1 430.2 288.9 427.6 290.9 426.8L294.6 431.8C293.3 433.0 289.3 436.3 286.5 439.2C283.7 442.2 280.9 446.1 277.8 449.2C274.6 452.4 271.1 455.7 267.8 458.0C264.4 460.3 261.3 461.9 257.8 463.0C254.2 464.1 250.1 464.2 246.5 464.9C242.9 465.5 237.6 466.4 235.9 466.8Z" fill="url(#gMus)"/>
<g clip-path="url(#c_mus)" fill="none" stroke-width="0.7" stroke-opacity="0.6"><path d="M232.6 462.4C233.8 461.6 237.4 459.8 239.9 457.8C242.5 455.7 245.1 452.4 247.9 449.9C250.7 447.4 253.5 444.7 256.8 442.7C260.1 440.7 264.1 439.4 267.9 437.8C271.8 436.1 276.0 434.4 279.9 432.7C283.8 431.0 289.4 428.3 291.3 427.4" stroke="#c4c4c4"/><path d="M233.1 463.0C234.4 462.3 238.2 460.7 240.9 458.8C243.6 456.9 246.4 454.1 249.3 451.8C252.2 449.4 255.0 446.9 258.4 444.9C261.7 442.8 265.6 441.3 269.3 439.4C273.1 437.5 277.1 435.5 280.9 433.6C284.6 431.7 290.0 428.9 291.8 428.0" stroke="#6e6e6e"/><path d="M233.5 463.6C234.9 463.0 238.9 461.5 241.8 459.8C244.7 458.1 247.7 455.7 250.7 453.6C253.7 451.5 256.6 449.2 259.9 447.1C263.3 445.0 267.1 443.1 270.7 441.0C274.4 439.0 278.2 436.6 281.8 434.6C285.4 432.5 290.5 429.6 292.3 428.6" stroke="#c4c4c4"/><path d="M234.0 464.2C235.5 463.7 239.7 462.3 242.8 460.8C245.8 459.4 249.0 457.4 252.1 455.5C255.2 453.6 258.2 451.4 261.5 449.2C264.8 447.1 268.6 445.0 272.1 442.7C275.7 440.4 279.3 437.7 282.8 435.5C286.2 433.3 291.1 430.3 292.8 429.2" stroke="#6e6e6e"/><path d="M234.5 464.9C236.0 464.4 240.5 463.1 243.7 461.8C246.9 460.6 250.3 459.1 253.5 457.4C256.8 455.6 259.7 453.6 263.1 451.4C266.4 449.3 270.1 446.8 273.5 444.3C277.0 441.8 280.4 438.8 283.7 436.4C287.0 434.0 291.6 431.0 293.2 429.9" stroke="#c4c4c4"/><path d="M234.9 465.5C236.6 465.1 241.3 463.9 244.6 462.8C248.0 461.8 251.6 460.8 254.9 459.2C258.3 457.7 261.3 455.8 264.6 453.6C268.0 451.4 271.6 448.7 274.9 446.0C278.3 443.3 281.5 440.0 284.6 437.4C287.8 434.8 292.2 431.6 293.7 430.5" stroke="#6e6e6e"/><path d="M235.4 466.1C237.1 465.7 242.1 464.7 245.6 463.9C249.1 463.0 252.9 462.5 256.3 461.1C259.8 459.8 262.9 458.1 266.2 455.8C269.5 453.6 273.1 450.5 276.3 447.6C279.6 444.7 282.6 441.1 285.6 438.3C288.5 435.6 292.7 432.3 294.2 431.1" stroke="#c4c4c4"/></g>
<path d="M232.1 461.8C233.3 460.9 236.6 459.0 239.0 456.8C241.4 454.5 243.8 450.7 246.5 448.0C249.2 445.3 251.9 442.5 255.2 440.5C258.6 438.5 262.5 437.6 266.5 436.1C270.5 434.7 274.9 433.3 279.0 431.8C283.1 430.2 288.9 427.6 290.9 426.8L294.6 431.8C293.3 433.0 289.3 436.3 286.5 439.2C283.7 442.2 280.9 446.1 277.8 449.2C274.6 452.4 271.1 455.7 267.8 458.0C264.4 460.3 261.3 461.9 257.8 463.0C254.2 464.1 250.1 464.2 246.5 464.9C242.9 465.5 237.6 466.4 235.9 466.8Z" fill="url(#gMusT)"/>
<path d="M232.1 461.8C233.3 460.9 236.6 459.0 239.0 456.8C241.4 454.5 243.8 450.7 246.5 448.0C249.2 445.3 251.9 442.5 255.2 440.5C258.6 438.5 262.5 437.6 266.5 436.1C270.5 434.7 274.9 433.3 279.0 431.8C283.1 430.2 288.9 427.6 290.9 426.8" fill="none" stroke="#3a3a3a" stroke-width="0.8"/>
<path d="M294.6 431.8C293.3 433.0 289.3 436.3 286.5 439.2C283.7 442.2 280.9 446.1 277.8 449.2C274.6 452.4 271.1 455.7 267.8 458.0C264.4 460.3 261.3 461.9 257.8 463.0C254.2 464.1 250.1 464.2 246.5 464.9C242.9 465.5 237.6 466.4 235.9 466.8" fill="none" stroke="#3a3a3a" stroke-width="0.8"/>
<circle cx="354.4" cy="507.7" r="37.5" fill="#fff" stroke="#0c0c0c" stroke-width="3.8"/>
<clipPath id="c_thy"><path d="M324.6 481.8C325.6 479.9 327.2 477.4 329.0 476.8C330.8 476.1 333.5 477.0 335.2 478.0C337.0 479.0 338.6 481.3 339.6 483.0C340.7 484.7 340.6 486.8 341.5 488.0C342.4 489.2 344.0 489.5 345.2 490.5C346.5 491.5 347.5 493.5 349.0 494.2C350.5 495.0 352.1 495.1 354.0 494.9C355.9 494.7 358.2 493.2 360.2 493.0C362.3 492.8 364.8 494.2 366.5 493.6C368.2 493.0 369.2 491.0 370.2 489.2C371.3 487.5 371.7 484.9 372.8 483.0C373.8 481.1 375.0 478.9 376.5 478.0C378.0 477.1 380.0 476.5 381.5 477.4C383.0 478.2 384.4 480.8 385.2 483.0C386.1 485.2 386.1 487.8 386.5 490.5C386.9 493.2 387.3 496.3 387.8 499.2C388.2 502.2 389.0 505.3 389.0 508.0C389.0 510.7 388.4 512.8 387.8 515.5C387.1 518.2 386.5 521.8 385.2 524.2C384.0 526.8 381.9 529.1 380.2 530.5C378.6 531.9 376.7 532.6 375.2 532.4C373.8 532.2 372.8 531.0 371.5 529.2C370.2 527.5 369.0 523.6 367.8 521.8C366.5 519.9 365.7 518.8 364.0 518.0C362.3 517.2 359.6 517.0 357.8 516.8C355.9 516.5 354.4 516.3 352.8 516.8C351.1 517.2 349.2 518.6 347.8 519.2C346.3 519.9 345.0 519.5 344.0 520.5C343.0 521.5 342.3 523.6 341.5 525.5C340.7 527.4 340.2 530.4 339.0 531.8C337.8 533.1 335.7 533.6 334.0 533.6C332.3 533.6 330.5 533.1 329.0 531.8C327.5 530.4 326.3 528.0 325.2 525.5C324.2 523.0 323.4 520.1 322.8 516.8C322.1 513.4 321.6 509.0 321.5 505.5C321.4 502.0 321.8 498.4 322.1 495.5C322.4 492.6 323.0 490.3 323.4 488.0C323.8 485.7 323.7 483.6 324.6 481.8Z"/></clipPath>
<path d="M324.6 481.8C325.6 479.9 327.2 477.4 329.0 476.8C330.8 476.1 333.5 477.0 335.2 478.0C337.0 479.0 338.6 481.3 339.6 483.0C340.7 484.7 340.6 486.8 341.5 488.0C342.4 489.2 344.0 489.5 345.2 490.5C346.5 491.5 347.5 493.5 349.0 494.2C350.5 495.0 352.1 495.1 354.0 494.9C355.9 494.7 358.2 493.2 360.2 493.0C362.3 492.8 364.8 494.2 366.5 493.6C368.2 493.0 369.2 491.0 370.2 489.2C371.3 487.5 371.7 484.9 372.8 483.0C373.8 481.1 375.0 478.9 376.5 478.0C378.0 477.1 380.0 476.5 381.5 477.4C383.0 478.2 384.4 480.8 385.2 483.0C386.1 485.2 386.1 487.8 386.5 490.5C386.9 493.2 387.3 496.3 387.8 499.2C388.2 502.2 389.0 505.3 389.0 508.0C389.0 510.7 388.4 512.8 387.8 515.5C387.1 518.2 386.5 521.8 385.2 524.2C384.0 526.8 381.9 529.1 380.2 530.5C378.6 531.9 376.7 532.6 375.2 532.4C373.8 532.2 372.8 531.0 371.5 529.2C370.2 527.5 369.0 523.6 367.8 521.8C366.5 519.9 365.7 518.8 364.0 518.0C362.3 517.2 359.6 517.0 357.8 516.8C355.9 516.5 354.4 516.3 352.8 516.8C351.1 517.2 349.2 518.6 347.8 519.2C346.3 519.9 345.0 519.5 344.0 520.5C343.0 521.5 342.3 523.6 341.5 525.5C340.7 527.4 340.2 530.4 339.0 531.8C337.8 533.1 335.7 533.6 334.0 533.6C332.3 533.6 330.5 533.1 329.0 531.8C327.5 530.4 326.3 528.0 325.2 525.5C324.2 523.0 323.4 520.1 322.8 516.8C322.1 513.4 321.6 509.0 321.5 505.5C321.4 502.0 321.8 498.4 322.1 495.5C322.4 492.6 323.0 490.3 323.4 488.0C323.8 485.7 323.7 483.6 324.6 481.8Z" fill="#d9d9d9"/>
<g clip-path="url(#c_thy)" fill="url(#gLumpD)" stroke="#9a9a9a" stroke-opacity="0.60" stroke-width="0.45"><ellipse cx="373.7" cy="520.7" rx="3.8" ry="3.3" transform="rotate(67 373.7 520.7)"/><ellipse cx="342.9" cy="534.5" rx="4.0" ry="3.7" transform="rotate(164 342.9 534.5)"/><ellipse cx="341.4" cy="479.4" rx="3.5" ry="3.0" transform="rotate(148 341.4 479.4)"/><ellipse cx="334.6" cy="520.2" rx="3.4" ry="2.5" transform="rotate(56 334.6 520.2)"/><ellipse cx="378.0" cy="528.5" rx="3.1" ry="2.9" transform="rotate(147 378.0 528.5)"/><ellipse cx="380.9" cy="486.9" rx="3.5" ry="2.6" transform="rotate(14 380.9 486.9)"/><ellipse cx="381.0" cy="525.3" rx="3.4" ry="2.5" transform="rotate(77 381.0 525.3)"/><ellipse cx="378.9" cy="501.1" rx="3.9" ry="3.1" transform="rotate(11 378.9 501.1)"/><ellipse cx="368.2" cy="500.1" rx="4.1" ry="3.0" transform="rotate(35 368.2 500.1)"/><ellipse cx="352.7" cy="493.3" rx="3.5" ry="2.9" transform="rotate(17 352.7 493.3)"/><ellipse cx="367.7" cy="510.3" rx="3.7" ry="3.0" transform="rotate(135 367.7 510.3)"/><ellipse cx="342.9" cy="514.7" rx="3.9" ry="3.8" transform="rotate(117 342.9 514.7)"/><ellipse cx="370.5" cy="506.5" rx="4.2" ry="3.7" transform="rotate(79 370.5 506.5)"/><ellipse cx="363.7" cy="515.5" rx="4.3" ry="3.9" transform="rotate(171 363.7 515.5)"/><ellipse cx="352.1" cy="528.7" rx="4.2" ry="3.8" transform="rotate(48 352.1 528.7)"/><ellipse cx="375.9" cy="488.4" rx="4.3" ry="3.6" transform="rotate(23 375.9 488.4)"/><ellipse cx="318.8" cy="519.4" rx="3.1" ry="2.4" transform="rotate(47 318.8 519.4)"/><ellipse cx="354.2" cy="489.1" rx="4.1" ry="3.3" transform="rotate(11 354.2 489.1)"/><ellipse cx="327.1" cy="498.1" rx="4.2" ry="3.7" transform="rotate(4 327.1 498.1)"/><ellipse cx="369.2" cy="526.2" rx="3.1" ry="2.3" transform="rotate(64 369.2 526.2)"/><ellipse cx="373.9" cy="501.7" rx="4.4" ry="4.3" transform="rotate(110 373.9 501.7)"/><ellipse cx="361.7" cy="492.8" rx="3.4" ry="2.8" transform="rotate(65 361.7 492.8)"/><ellipse cx="317.2" cy="509.1" rx="3.5" ry="2.6" transform="rotate(105 317.2 509.1)"/><ellipse cx="357.8" cy="504.3" rx="4.3" ry="4.0" transform="rotate(17 357.8 504.3)"/><ellipse cx="391.1" cy="534.1" rx="3.8" ry="3.0" transform="rotate(127 391.1 534.1)"/><ellipse cx="372.4" cy="490.5" rx="3.7" ry="3.7" transform="rotate(143 372.4 490.5)"/><ellipse cx="319.0" cy="490.5" rx="3.2" ry="2.6" transform="rotate(164 319.0 490.5)"/><ellipse cx="324.3" cy="474.7" rx="3.7" ry="3.1" transform="rotate(79 324.3 474.7)"/><ellipse cx="363.7" cy="498.4" rx="4.2" ry="4.2" transform="rotate(95 363.7 498.4)"/><ellipse cx="356.8" cy="531.6" rx="4.6" ry="4.0" transform="rotate(18 356.8 531.6)"/><ellipse cx="364.4" cy="505.7" rx="4.3" ry="3.6" transform="rotate(9 364.4 505.7)"/><ellipse cx="318.9" cy="486.6" rx="4.6" ry="3.3" transform="rotate(103 318.9 486.6)"/><ellipse cx="328.9" cy="510.2" rx="3.8" ry="3.6" transform="rotate(70 328.9 510.2)"/><ellipse cx="352.7" cy="496.6" rx="3.3" ry="2.7" transform="rotate(36 352.7 496.6)"/><ellipse cx="358.1" cy="491.7" rx="3.9" ry="3.2" transform="rotate(135 358.1 491.7)"/><ellipse cx="346.8" cy="471.5" rx="3.4" ry="2.8" transform="rotate(44 346.8 471.5)"/><ellipse cx="370.3" cy="535.0" rx="4.6" ry="4.4" transform="rotate(152 370.3 535.0)"/><ellipse cx="318.6" cy="526.1" rx="4.0" ry="3.3" transform="rotate(25 318.6 526.1)"/><ellipse cx="349.9" cy="515.6" rx="4.3" ry="3.7" transform="rotate(6 349.9 515.6)"/><ellipse cx="350.6" cy="472.0" rx="3.3" ry="2.4" transform="rotate(129 350.6 472.0)"/><ellipse cx="363.2" cy="476.0" rx="4.4" ry="3.4" transform="rotate(143 363.2 476.0)"/><ellipse cx="377.8" cy="493.8" rx="3.5" ry="3.2" transform="rotate(155 377.8 493.8)"/><ellipse cx="374.6" cy="534.8" rx="4.0" ry="3.8" transform="rotate(67 374.6 534.8)"/><ellipse cx="352.8" cy="504.9" rx="3.0" ry="2.6" transform="rotate(105 352.8 504.9)"/><ellipse cx="380.1" cy="535.5" rx="3.3" ry="2.7" transform="rotate(57 380.1 535.5)"/><ellipse cx="367.2" cy="491.1" rx="3.0" ry="2.5" transform="rotate(68 367.2 491.1)"/><ellipse cx="325.7" cy="525.4" rx="3.8" ry="3.4" transform="rotate(71 325.7 525.4)"/><ellipse cx="387.8" cy="477.6" rx="4.6" ry="4.3" transform="rotate(166 387.8 477.6)"/><ellipse cx="389.9" cy="502.2" rx="4.1" ry="3.7" transform="rotate(96 389.9 502.2)"/><ellipse cx="356.4" cy="519.7" rx="4.3" ry="3.5" transform="rotate(106 356.4 519.7)"/><ellipse cx="318.5" cy="480.7" rx="4.1" ry="3.5" transform="rotate(51 318.5 480.7)"/><ellipse cx="360.1" cy="497.4" rx="3.1" ry="2.3" transform="rotate(64 360.1 497.4)"/><ellipse cx="361.0" cy="520.5" rx="3.9" ry="3.7" transform="rotate(128 361.0 520.5)"/><ellipse cx="387.8" cy="529.3" rx="3.5" ry="3.4" transform="rotate(49 387.8 529.3)"/><ellipse cx="337.1" cy="478.4" rx="4.1" ry="3.1" transform="rotate(135 337.1 478.4)"/><ellipse cx="385.6" cy="492.4" rx="4.1" ry="4.0" transform="rotate(161 385.6 492.4)"/><ellipse cx="346.0" cy="528.1" rx="4.1" ry="3.9" transform="rotate(132 346.0 528.1)"/><ellipse cx="320.0" cy="515.3" rx="4.0" ry="3.1" transform="rotate(93 320.0 515.3)"/><ellipse cx="317.1" cy="501.9" rx="4.4" ry="3.5" transform="rotate(175 317.1 501.9)"/><ellipse cx="336.9" cy="526.7" rx="3.9" ry="3.2" transform="rotate(0 336.9 526.7)"/><ellipse cx="318.9" cy="528.1" rx="3.6" ry="2.8" transform="rotate(117 318.9 528.1)"/><ellipse cx="326.4" cy="488.8" rx="4.4" ry="4.3" transform="rotate(110 326.4 488.8)"/><ellipse cx="379.5" cy="471.6" rx="3.6" ry="2.7" transform="rotate(123 379.5 471.6)"/><ellipse cx="380.1" cy="497.3" rx="3.9" ry="3.6" transform="rotate(67 380.1 497.3)"/><ellipse cx="373.7" cy="496.8" rx="4.4" ry="3.4" transform="rotate(55 373.7 496.8)"/><ellipse cx="389.3" cy="491.3" rx="3.4" ry="3.1" transform="rotate(161 389.3 491.3)"/><ellipse cx="382.2" cy="516.9" rx="3.3" ry="2.9" transform="rotate(137 382.2 516.9)"/><ellipse cx="322.3" cy="519.0" rx="3.4" ry="2.5" transform="rotate(101 322.3 519.0)"/><ellipse cx="330.9" cy="497.7" rx="4.3" ry="4.2" transform="rotate(131 330.9 497.7)"/><ellipse cx="362.6" cy="528.4" rx="3.7" ry="3.1" transform="rotate(95 362.6 528.4)"/><ellipse cx="326.3" cy="535.5" rx="4.4" ry="3.6" transform="rotate(50 326.3 535.5)"/><ellipse cx="376.8" cy="483.4" rx="4.0" ry="3.9" transform="rotate(33 376.8 483.4)"/><ellipse cx="330.6" cy="519.5" rx="3.0" ry="2.3" transform="rotate(101 330.6 519.5)"/><ellipse cx="341.6" cy="531.7" rx="4.0" ry="3.1" transform="rotate(34 341.6 531.7)"/><ellipse cx="360.9" cy="515.6" rx="4.0" ry="3.6" transform="rotate(124 360.9 515.6)"/><ellipse cx="377.1" cy="523.7" rx="4.2" ry="3.1" transform="rotate(87 377.1 523.7)"/><ellipse cx="338.0" cy="497.4" rx="4.3" ry="4.3" transform="rotate(57 338.0 497.4)"/><ellipse cx="332.4" cy="472.8" rx="4.4" ry="3.9" transform="rotate(166 332.4 472.8)"/><ellipse cx="380.4" cy="477.0" rx="3.4" ry="3.1" transform="rotate(151 380.4 477.0)"/><ellipse cx="342.4" cy="505.1" rx="3.8" ry="2.8" transform="rotate(34 342.4 505.1)"/><ellipse cx="346.3" cy="504.7" rx="3.3" ry="2.4" transform="rotate(27 346.3 504.7)"/><ellipse cx="366.5" cy="531.4" rx="4.0" ry="3.0" transform="rotate(136 366.5 531.4)"/><ellipse cx="367.2" cy="519.8" rx="4.2" ry="4.0" transform="rotate(144 367.2 519.8)"/><ellipse cx="366.7" cy="481.9" rx="4.1" ry="4.1" transform="rotate(172 366.7 481.9)"/><ellipse cx="324.9" cy="514.8" rx="4.0" ry="4.0" transform="rotate(18 324.9 514.8)"/><ellipse cx="327.8" cy="479.1" rx="3.2" ry="2.3" transform="rotate(37 327.8 479.1)"/><ellipse cx="374.5" cy="507.7" rx="3.6" ry="3.1" transform="rotate(122 374.5 507.7)"/><ellipse cx="333.3" cy="515.1" rx="4.2" ry="3.1" transform="rotate(72 333.3 515.1)"/><ellipse cx="329.2" cy="493.0" rx="3.9" ry="3.2" transform="rotate(21 329.2 493.0)"/><ellipse cx="330.4" cy="506.8" rx="4.0" ry="3.3" transform="rotate(123 330.4 506.8)"/><ellipse cx="329.6" cy="474.6" rx="3.8" ry="3.8" transform="rotate(170 329.6 474.6)"/><ellipse cx="341.6" cy="503.1" rx="3.1" ry="2.9" transform="rotate(129 341.6 503.1)"/><ellipse cx="332.4" cy="530.7" rx="3.5" ry="2.6" transform="rotate(86 332.4 530.7)"/><ellipse cx="385.0" cy="483.8" rx="3.6" ry="3.3" transform="rotate(165 385.0 483.8)"/><ellipse cx="390.6" cy="507.4" rx="3.6" ry="2.9" transform="rotate(89 390.6 507.4)"/><ellipse cx="330.9" cy="488.8" rx="4.1" ry="3.9" transform="rotate(103 330.9 488.8)"/><ellipse cx="384.3" cy="528.1" rx="3.5" ry="2.8" transform="rotate(152 384.3 528.1)"/><ellipse cx="371.4" cy="530.2" rx="3.8" ry="2.8" transform="rotate(75 371.4 530.2)"/><ellipse cx="364.6" cy="536.1" rx="3.4" ry="3.1" transform="rotate(13 364.6 536.1)"/><ellipse cx="329.7" cy="483.8" rx="3.4" ry="2.6" transform="rotate(85 329.7 483.8)"/><ellipse cx="328.1" cy="502.7" rx="4.6" ry="4.0" transform="rotate(69 328.1 502.7)"/><ellipse cx="363.4" cy="484.1" rx="4.5" ry="3.4" transform="rotate(64 363.4 484.1)"/><ellipse cx="376.5" cy="519.4" rx="4.3" ry="3.1" transform="rotate(137 376.5 519.4)"/><ellipse cx="346.2" cy="518.9" rx="3.6" ry="2.6" transform="rotate(45 346.2 518.9)"/><ellipse cx="352.7" cy="526.3" rx="3.7" ry="3.1" transform="rotate(93 352.7 526.3)"/><ellipse cx="319.3" cy="476.6" rx="3.1" ry="2.4" transform="rotate(175 319.3 476.6)"/><ellipse cx="339.2" cy="482.7" rx="3.7" ry="3.2" transform="rotate(15 339.2 482.7)"/><ellipse cx="318.9" cy="495.8" rx="3.4" ry="3.4" transform="rotate(123 318.9 495.8)"/><ellipse cx="334.5" cy="512.6" rx="3.8" ry="2.8" transform="rotate(70 334.5 512.6)"/><ellipse cx="332.3" cy="525.6" rx="4.2" ry="3.6" transform="rotate(106 332.3 525.6)"/><ellipse cx="357.7" cy="485.4" rx="4.4" ry="4.0" transform="rotate(114 357.7 485.4)"/><ellipse cx="375.3" cy="514.8" rx="3.1" ry="2.2" transform="rotate(138 375.3 514.8)"/><ellipse cx="336.7" cy="533.8" rx="3.7" ry="3.5" transform="rotate(148 336.7 533.8)"/><ellipse cx="355.0" cy="476.9" rx="4.5" ry="3.7" transform="rotate(179 355.0 476.9)"/><ellipse cx="392.7" cy="497.8" rx="4.2" ry="4.1" transform="rotate(26 392.7 497.8)"/><ellipse cx="348.7" cy="479.5" rx="4.2" ry="3.6" transform="rotate(174 348.7 479.5)"/><ellipse cx="391.2" cy="517.3" rx="4.6" ry="3.6" transform="rotate(75 391.2 517.3)"/><ellipse cx="384.3" cy="471.5" rx="3.4" ry="2.9" transform="rotate(51 384.3 471.5)"/><ellipse cx="384.3" cy="509.5" rx="4.1" ry="3.1" transform="rotate(30 384.3 509.5)"/><ellipse cx="332.7" cy="491.7" rx="3.7" ry="2.8" transform="rotate(68 332.7 491.7)"/><ellipse cx="387.5" cy="484.1" rx="4.4" ry="4.3" transform="rotate(35 387.5 484.1)"/><ellipse cx="357.4" cy="526.4" rx="3.0" ry="2.9" transform="rotate(172 357.4 526.4)"/><ellipse cx="346.5" cy="511.4" rx="4.0" ry="3.0" transform="rotate(42 346.5 511.4)"/><ellipse cx="370.6" cy="497.0" rx="4.5" ry="4.4" transform="rotate(5 370.6 497.0)"/><ellipse cx="356.6" cy="511.1" rx="3.3" ry="2.8" transform="rotate(48 356.6 511.1)"/><ellipse cx="323.6" cy="509.3" rx="4.2" ry="3.5" transform="rotate(139 323.6 509.3)"/><ellipse cx="357.7" cy="535.1" rx="3.2" ry="2.8" transform="rotate(175 357.7 535.1)"/><ellipse cx="363.5" cy="512.7" rx="4.1" ry="3.1" transform="rotate(19 363.5 512.7)"/><ellipse cx="386.6" cy="524.4" rx="4.0" ry="3.3" transform="rotate(66 386.6 524.4)"/><ellipse cx="318.2" cy="473.9" rx="3.8" ry="3.3" transform="rotate(173 318.2 473.9)"/><ellipse cx="390.8" cy="520.5" rx="3.4" ry="3.0" transform="rotate(47 390.8 520.5)"/><ellipse cx="376.8" cy="511.1" rx="3.9" ry="3.6" transform="rotate(24 376.8 511.1)"/><ellipse cx="365.3" cy="524.8" rx="3.8" ry="3.5" transform="rotate(1 365.3 524.8)"/><ellipse cx="373.8" cy="471.6" rx="4.2" ry="3.5" transform="rotate(90 373.8 471.6)"/><ellipse cx="366.4" cy="487.3" rx="4.0" ry="3.7" transform="rotate(10 366.4 487.3)"/><ellipse cx="369.7" cy="486.2" rx="3.8" ry="2.8" transform="rotate(69 369.7 486.2)"/><ellipse cx="346.4" cy="485.8" rx="3.6" ry="2.6" transform="rotate(53 346.4 485.8)"/><ellipse cx="359.9" cy="471.9" rx="3.7" ry="3.4" transform="rotate(166 359.9 471.9)"/><ellipse cx="340.3" cy="520.7" rx="3.6" ry="3.1" transform="rotate(128 340.3 520.7)"/><ellipse cx="373.6" cy="478.4" rx="4.5" ry="4.4" transform="rotate(177 373.6 478.4)"/><ellipse cx="330.7" cy="479.5" rx="3.5" ry="2.7" transform="rotate(167 330.7 479.5)"/><ellipse cx="337.5" cy="504.4" rx="3.1" ry="2.6" transform="rotate(132 337.5 504.4)"/><ellipse cx="341.8" cy="485.9" rx="3.8" ry="3.2" transform="rotate(166 341.8 485.9)"/><ellipse cx="390.3" cy="487.1" rx="3.5" ry="3.0" transform="rotate(149 390.3 487.1)"/><ellipse cx="332.9" cy="533.1" rx="3.2" ry="2.6" transform="rotate(88 332.9 533.1)"/><ellipse cx="353.2" cy="514.9" rx="3.9" ry="3.0" transform="rotate(81 353.2 514.9)"/><ellipse cx="362.5" cy="502.2" rx="3.1" ry="2.3" transform="rotate(61 362.5 502.2)"/><ellipse cx="385.7" cy="505.8" rx="3.2" ry="3.2" transform="rotate(47 385.7 505.8)"/><ellipse cx="347.5" cy="497.4" rx="3.4" ry="3.2" transform="rotate(133 347.5 497.4)"/><ellipse cx="358.0" cy="501.3" rx="3.4" ry="3.3" transform="rotate(112 358.0 501.3)"/><ellipse cx="349.5" cy="484.2" rx="3.6" ry="3.2" transform="rotate(44 349.5 484.2)"/><ellipse cx="342.1" cy="524.7" rx="3.4" ry="3.3" transform="rotate(78 342.1 524.7)"/><ellipse cx="322.2" cy="531.0" rx="4.4" ry="3.4" transform="rotate(24 322.2 531.0)"/><ellipse cx="345.3" cy="501.5" rx="3.1" ry="2.9" transform="rotate(101 345.3 501.5)"/><ellipse cx="324.1" cy="502.6" rx="3.0" ry="2.2" transform="rotate(148 324.1 502.6)"/><ellipse cx="343.1" cy="497.6" rx="3.8" ry="3.7" transform="rotate(7 343.1 497.6)"/><ellipse cx="338.4" cy="493.2" rx="3.9" ry="3.0" transform="rotate(129 338.4 493.2)"/><ellipse cx="349.5" cy="502.7" rx="4.0" ry="3.5" transform="rotate(39 349.5 502.7)"/><ellipse cx="384.3" cy="502.4" rx="4.5" ry="3.4" transform="rotate(11 384.3 502.4)"/><ellipse cx="349.4" cy="523.9" rx="4.1" ry="3.1" transform="rotate(12 349.4 523.9)"/><ellipse cx="355.1" cy="483.4" rx="3.7" ry="3.4" transform="rotate(160 355.1 483.4)"/><ellipse cx="384.9" cy="488.8" rx="4.2" ry="3.1" transform="rotate(115 384.9 488.8)"/><ellipse cx="389.8" cy="512.4" rx="4.3" ry="3.3" transform="rotate(135 389.8 512.4)"/><ellipse cx="349.7" cy="534.1" rx="3.4" ry="2.7" transform="rotate(0 349.7 534.1)"/><ellipse cx="325.0" cy="480.6" rx="4.2" ry="3.6" transform="rotate(162 325.0 480.6)"/><ellipse cx="324.1" cy="493.6" rx="3.7" ry="2.9" transform="rotate(38 324.1 493.6)"/><ellipse cx="379.1" cy="505.8" rx="3.4" ry="3.4" transform="rotate(36 379.1 505.8)"/><ellipse cx="372.9" cy="483.5" rx="3.1" ry="2.6" transform="rotate(14 372.9 483.5)"/><ellipse cx="387.4" cy="474.4" rx="3.7" ry="3.3" transform="rotate(117 387.4 474.4)"/><ellipse cx="318.6" cy="504.8" rx="3.3" ry="2.5" transform="rotate(88 318.6 504.8)"/><ellipse cx="384.7" cy="515.7" rx="4.1" ry="3.5" transform="rotate(103 384.7 515.7)"/><ellipse cx="356.4" cy="473.2" rx="4.5" ry="3.4" transform="rotate(48 356.4 473.2)"/><ellipse cx="368.6" cy="516.1" rx="3.8" ry="3.3" transform="rotate(162 368.6 516.1)"/><ellipse cx="391.4" cy="477.6" rx="3.9" ry="3.5" transform="rotate(75 391.4 477.6)"/><ellipse cx="386.4" cy="497.9" rx="4.3" ry="4.1" transform="rotate(52 386.4 497.9)"/><ellipse cx="374.3" cy="508.9" rx="3.2" ry="2.5" transform="rotate(64 374.3 508.9)"/><ellipse cx="350.3" cy="509.5" rx="4.4" ry="3.5" transform="rotate(113 350.3 509.5)"/><ellipse cx="386.6" cy="533.1" rx="4.0" ry="4.0" transform="rotate(20 386.6 533.1)"/><ellipse cx="344.5" cy="491.7" rx="4.2" ry="3.4" transform="rotate(18 344.5 491.7)"/><ellipse cx="341.0" cy="510.5" rx="4.0" ry="3.8" transform="rotate(104 341.0 510.5)"/><ellipse cx="383.6" cy="521.9" rx="3.1" ry="3.1" transform="rotate(69 383.6 521.9)"/><ellipse cx="338.8" cy="517.2" rx="4.0" ry="3.7" transform="rotate(46 338.8 517.2)"/><ellipse cx="332.4" cy="483.5" rx="3.7" ry="3.0" transform="rotate(17 332.4 483.5)"/><ellipse cx="369.3" cy="478.1" rx="3.1" ry="2.9" transform="rotate(73 369.3 478.1)"/><ellipse cx="366.4" cy="474.6" rx="4.4" ry="3.2" transform="rotate(54 366.4 474.6)"/><ellipse cx="329.8" cy="530.4" rx="3.3" ry="3.2" transform="rotate(142 329.8 530.4)"/><ellipse cx="351.8" cy="519.6" rx="4.4" ry="3.8" transform="rotate(18 351.8 519.6)"/><ellipse cx="358.5" cy="476.4" rx="3.7" ry="2.9" transform="rotate(4 358.5 476.4)"/><ellipse cx="335.7" cy="502.1" rx="3.9" ry="3.1" transform="rotate(19 335.7 502.1)"/><ellipse cx="390.7" cy="525.4" rx="3.8" ry="3.7" transform="rotate(170 390.7 525.4)"/><ellipse cx="341.5" cy="473.5" rx="3.7" ry="2.8" transform="rotate(138 341.5 473.5)"/><ellipse cx="318.8" cy="532.8" rx="3.2" ry="2.8" transform="rotate(15 318.8 532.8)"/><ellipse cx="343.4" cy="480.7" rx="4.6" ry="4.0" transform="rotate(78 343.4 480.7)"/><ellipse cx="337.2" cy="486.4" rx="3.4" ry="3.0" transform="rotate(175 337.2 486.4)"/><ellipse cx="325.7" cy="506.7" rx="3.7" ry="2.9" transform="rotate(92 325.7 506.7)"/><ellipse cx="351.8" cy="535.3" rx="4.5" ry="3.7" transform="rotate(114 351.8 535.3)"/></g>
<path d="M324.6 481.8C325.6 479.9 327.2 477.4 329.0 476.8C330.8 476.1 333.5 477.0 335.2 478.0C337.0 479.0 338.6 481.3 339.6 483.0C340.7 484.7 340.6 486.8 341.5 488.0C342.4 489.2 344.0 489.5 345.2 490.5C346.5 491.5 347.5 493.5 349.0 494.2C350.5 495.0 352.1 495.1 354.0 494.9C355.9 494.7 358.2 493.2 360.2 493.0C362.3 492.8 364.8 494.2 366.5 493.6C368.2 493.0 369.2 491.0 370.2 489.2C371.3 487.5 371.7 484.9 372.8 483.0C373.8 481.1 375.0 478.9 376.5 478.0C378.0 477.1 380.0 476.5 381.5 477.4C383.0 478.2 384.4 480.8 385.2 483.0C386.1 485.2 386.1 487.8 386.5 490.5C386.9 493.2 387.3 496.3 387.8 499.2C388.2 502.2 389.0 505.3 389.0 508.0C389.0 510.7 388.4 512.8 387.8 515.5C387.1 518.2 386.5 521.8 385.2 524.2C384.0 526.8 381.9 529.1 380.2 530.5C378.6 531.9 376.7 532.6 375.2 532.4C373.8 532.2 372.8 531.0 371.5 529.2C370.2 527.5 369.0 523.6 367.8 521.8C366.5 519.9 365.7 518.8 364.0 518.0C362.3 517.2 359.6 517.0 357.8 516.8C355.9 516.5 354.4 516.3 352.8 516.8C351.1 517.2 349.2 518.6 347.8 519.2C346.3 519.9 345.0 519.5 344.0 520.5C343.0 521.5 342.3 523.6 341.5 525.5C340.7 527.4 340.2 530.4 339.0 531.8C337.8 533.1 335.7 533.6 334.0 533.6C332.3 533.6 330.5 533.1 329.0 531.8C327.5 530.4 326.3 528.0 325.2 525.5C324.2 523.0 323.4 520.1 322.8 516.8C322.1 513.4 321.6 509.0 321.5 505.5C321.4 502.0 321.8 498.4 322.1 495.5C322.4 492.6 323.0 490.3 323.4 488.0C323.8 485.7 323.7 483.6 324.6 481.8Z" fill="none" stroke="#777" stroke-width="0.7"/>
<circle cx="453.6" cy="530.3" r="37.5" fill="#fff" stroke="#0c0c0c" stroke-width="3.8"/>
<clipPath id="c_fat"><path d="M412.8 522.5C413.7 520.8 415.9 520.3 417.8 520.0C419.6 519.7 421.7 520.7 424.0 520.6C426.3 520.6 429.0 519.8 431.5 519.8C434.0 519.7 436.5 520.3 439.0 520.2C441.5 520.2 444.0 519.4 446.5 519.4C449.0 519.4 451.5 520.2 454.0 520.2C456.5 520.3 459.0 519.9 461.5 519.8C464.0 519.6 466.5 519.3 469.0 519.4C471.5 519.5 474.0 519.9 476.5 520.2C479.0 520.6 482.2 520.7 484.0 521.2C485.8 521.8 486.8 521.9 487.5 523.8C488.2 525.6 488.1 529.4 488.0 532.5C487.9 535.6 487.8 539.9 487.1 542.5C486.5 545.1 485.8 547.1 484.0 548.1C482.2 549.1 479.0 548.6 476.5 548.5C474.0 548.4 471.5 547.5 469.0 547.5C466.5 547.5 464.0 548.4 461.5 548.5C459.0 548.6 456.5 548.0 454.0 548.1C451.5 548.2 449.0 548.9 446.5 549.0C444.0 549.1 441.5 548.5 439.0 548.5C436.5 548.5 434.0 549.0 431.5 549.0C429.0 549.0 426.3 548.5 424.0 548.5C421.7 548.5 419.6 549.4 417.8 549.0C415.9 548.6 413.9 548.0 413.0 546.2C412.1 544.5 412.4 541.5 412.2 538.8C412.1 536.0 411.9 532.7 412.0 530.0C412.1 527.3 411.8 524.2 412.8 522.5Z"/></clipPath>
<path d="M412.8 522.5C413.7 520.8 415.9 520.3 417.8 520.0C419.6 519.7 421.7 520.7 424.0 520.6C426.3 520.6 429.0 519.8 431.5 519.8C434.0 519.7 436.5 520.3 439.0 520.2C441.5 520.2 444.0 519.4 446.5 519.4C449.0 519.4 451.5 520.2 454.0 520.2C456.5 520.3 459.0 519.9 461.5 519.8C464.0 519.6 466.5 519.3 469.0 519.4C471.5 519.5 474.0 519.9 476.5 520.2C479.0 520.6 482.2 520.7 484.0 521.2C485.8 521.8 486.8 521.9 487.5 523.8C488.2 525.6 488.1 529.4 488.0 532.5C487.9 535.6 487.8 539.9 487.1 542.5C486.5 545.1 485.8 547.1 484.0 548.1C482.2 549.1 479.0 548.6 476.5 548.5C474.0 548.4 471.5 547.5 469.0 547.5C466.5 547.5 464.0 548.4 461.5 548.5C459.0 548.6 456.5 548.0 454.0 548.1C451.5 548.2 449.0 548.9 446.5 549.0C444.0 549.1 441.5 548.5 439.0 548.5C436.5 548.5 434.0 549.0 431.5 549.0C429.0 549.0 426.3 548.5 424.0 548.5C421.7 548.5 419.6 549.4 417.8 549.0C415.9 548.6 413.9 548.0 413.0 546.2C412.1 544.5 412.4 541.5 412.2 538.8C412.1 536.0 411.9 532.7 412.0 530.0C412.1 527.3 411.8 524.2 412.8 522.5Z" fill="#e0e0e0"/>
<g clip-path="url(#c_fat)" fill="url(#gLump)" stroke="#b0b0b0" stroke-opacity="0.60" stroke-width="0.45"><ellipse cx="490.4" cy="537.9" rx="4.5" ry="4.0" transform="rotate(25 490.4 537.9)"/><ellipse cx="423.9" cy="550.4" rx="4.5" ry="3.3" transform="rotate(33 423.9 550.4)"/><ellipse cx="430.2" cy="551.9" rx="4.3" ry="3.2" transform="rotate(173 430.2 551.9)"/><ellipse cx="406.5" cy="537.9" rx="4.0" ry="3.6" transform="rotate(173 406.5 537.9)"/><ellipse cx="445.6" cy="524.2" rx="3.5" ry="3.5" transform="rotate(7 445.6 524.2)"/><ellipse cx="418.1" cy="514.2" rx="4.3" ry="3.9" transform="rotate(177 418.1 514.2)"/><ellipse cx="477.6" cy="543.0" rx="3.9" ry="3.9" transform="rotate(117 477.6 543.0)"/><ellipse cx="406.7" cy="517.2" rx="4.1" ry="3.2" transform="rotate(42 406.7 517.2)"/><ellipse cx="472.4" cy="547.7" rx="3.9" ry="3.2" transform="rotate(66 472.4 547.7)"/><ellipse cx="463.3" cy="521.2" rx="4.7" ry="3.9" transform="rotate(113 463.3 521.2)"/><ellipse cx="412.3" cy="516.1" rx="3.4" ry="2.6" transform="rotate(127 412.3 516.1)"/><ellipse cx="472.4" cy="529.5" rx="4.8" ry="3.9" transform="rotate(5 472.4 529.5)"/><ellipse cx="454.2" cy="553.5" rx="3.7" ry="3.0" transform="rotate(65 454.2 553.5)"/><ellipse cx="430.3" cy="536.3" rx="4.3" ry="3.4" transform="rotate(116 430.3 536.3)"/><ellipse cx="460.0" cy="530.1" rx="4.6" ry="4.4" transform="rotate(133 460.0 530.1)"/><ellipse cx="460.8" cy="526.7" rx="4.3" ry="3.4" transform="rotate(151 460.8 526.7)"/><ellipse cx="448.8" cy="543.1" rx="3.8" ry="3.6" transform="rotate(80 448.8 543.1)"/><ellipse cx="437.4" cy="527.0" rx="4.4" ry="3.8" transform="rotate(117 437.4 527.0)"/><ellipse cx="480.5" cy="533.9" rx="3.9" ry="3.4" transform="rotate(132 480.5 533.9)"/><ellipse cx="418.8" cy="552.7" rx="3.9" ry="3.5" transform="rotate(82 418.8 552.7)"/><ellipse cx="419.0" cy="546.8" rx="4.1" ry="3.4" transform="rotate(98 419.0 546.8)"/><ellipse cx="442.1" cy="552.7" rx="4.5" ry="3.5" transform="rotate(26 442.1 552.7)"/><ellipse cx="418.6" cy="520.7" rx="4.7" ry="3.5" transform="rotate(142 418.6 520.7)"/><ellipse cx="467.0" cy="528.7" rx="4.6" ry="3.6" transform="rotate(114 467.0 528.7)"/><ellipse cx="420.3" cy="535.9" rx="3.7" ry="3.6" transform="rotate(35 420.3 535.9)"/><ellipse cx="413.9" cy="526.4" rx="3.5" ry="2.6" transform="rotate(129 413.9 526.4)"/><ellipse cx="487.4" cy="546.3" rx="3.7" ry="3.0" transform="rotate(175 487.4 546.3)"/><ellipse cx="433.8" cy="547.2" rx="4.6" ry="4.2" transform="rotate(103 433.8 547.2)"/><ellipse cx="410.8" cy="521.0" rx="4.4" ry="3.2" transform="rotate(146 410.8 521.0)"/><ellipse cx="460.9" cy="534.7" rx="3.9" ry="3.7" transform="rotate(74 460.9 534.7)"/><ellipse cx="434.9" cy="531.6" rx="4.8" ry="3.5" transform="rotate(176 434.9 531.6)"/><ellipse cx="464.5" cy="543.0" rx="3.5" ry="3.0" transform="rotate(86 464.5 543.0)"/><ellipse cx="444.9" cy="529.2" rx="5.0" ry="4.6" transform="rotate(176 444.9 529.2)"/><ellipse cx="430.9" cy="525.3" rx="4.8" ry="4.1" transform="rotate(26 430.9 525.3)"/><ellipse cx="437.7" cy="534.4" rx="3.5" ry="3.3" transform="rotate(171 437.7 534.4)"/><ellipse cx="443.7" cy="536.9" rx="4.4" ry="3.6" transform="rotate(107 443.7 536.9)"/><ellipse cx="457.5" cy="521.5" rx="4.4" ry="3.5" transform="rotate(124 457.5 521.5)"/><ellipse cx="411.9" cy="541.1" rx="3.6" ry="2.6" transform="rotate(11 411.9 541.1)"/><ellipse cx="481.8" cy="518.9" rx="4.1" ry="3.8" transform="rotate(40 481.8 518.9)"/><ellipse cx="452.5" cy="531.1" rx="4.0" ry="3.6" transform="rotate(47 452.5 531.1)"/><ellipse cx="430.8" cy="520.4" rx="4.2" ry="3.7" transform="rotate(73 430.8 520.4)"/><ellipse cx="467.2" cy="523.5" rx="3.7" ry="3.3" transform="rotate(126 467.2 523.5)"/><ellipse cx="484.9" cy="525.2" rx="3.6" ry="3.4" transform="rotate(117 484.9 525.2)"/><ellipse cx="450.9" cy="535.8" rx="4.8" ry="4.5" transform="rotate(88 450.9 535.8)"/><ellipse cx="485.0" cy="531.8" rx="4.5" ry="3.6" transform="rotate(117 485.0 531.8)"/><ellipse cx="415.3" cy="545.5" rx="3.4" ry="2.8" transform="rotate(91 415.3 545.5)"/><ellipse cx="428.0" cy="514.0" rx="4.8" ry="4.4" transform="rotate(163 428.0 514.0)"/><ellipse cx="432.9" cy="541.6" rx="4.8" ry="4.7" transform="rotate(111 432.9 541.6)"/><ellipse cx="459.2" cy="543.1" rx="4.3" ry="3.7" transform="rotate(39 459.2 543.1)"/><ellipse cx="479.1" cy="545.4" rx="4.7" ry="4.1" transform="rotate(29 479.1 545.4)"/><ellipse cx="473.0" cy="517.3" rx="3.7" ry="2.9" transform="rotate(130 473.0 517.3)"/><ellipse cx="478.5" cy="520.4" rx="4.3" ry="3.4" transform="rotate(123 478.5 520.4)"/><ellipse cx="485.5" cy="535.6" rx="4.3" ry="3.4" transform="rotate(80 485.5 535.6)"/><ellipse cx="484.3" cy="540.2" rx="5.0" ry="3.8" transform="rotate(42 484.3 540.2)"/><ellipse cx="427.3" cy="547.1" rx="4.3" ry="4.1" transform="rotate(165 427.3 547.1)"/><ellipse cx="491.2" cy="531.1" rx="4.0" ry="3.7" transform="rotate(21 491.2 531.1)"/><ellipse cx="428.3" cy="532.0" rx="4.0" ry="3.8" transform="rotate(119 428.3 532.0)"/><ellipse cx="451.8" cy="540.2" rx="4.1" ry="3.6" transform="rotate(87 451.8 540.2)"/><ellipse cx="437.7" cy="515.2" rx="4.2" ry="4.1" transform="rotate(175 437.7 515.2)"/><ellipse cx="413.6" cy="534.2" rx="3.6" ry="3.4" transform="rotate(170 413.6 534.2)"/><ellipse cx="449.9" cy="546.4" rx="4.3" ry="3.7" transform="rotate(67 449.9 546.4)"/><ellipse cx="449.5" cy="524.2" rx="4.1" ry="3.6" transform="rotate(110 449.5 524.2)"/><ellipse cx="475.0" cy="536.8" rx="3.5" ry="3.5" transform="rotate(49 475.0 536.8)"/><ellipse cx="425.8" cy="534.5" rx="4.2" ry="3.3" transform="rotate(113 425.8 534.5)"/><ellipse cx="418.7" cy="524.5" rx="3.4" ry="2.8" transform="rotate(69 418.7 524.5)"/><ellipse cx="421.8" cy="541.2" rx="3.8" ry="3.3" transform="rotate(28 421.8 541.2)"/><ellipse cx="443.4" cy="546.0" rx="4.1" ry="3.9" transform="rotate(113 443.4 546.0)"/><ellipse cx="448.6" cy="519.5" rx="4.9" ry="4.9" transform="rotate(85 448.6 519.5)"/><ellipse cx="417.7" cy="539.8" rx="4.1" ry="3.8" transform="rotate(158 417.7 539.8)"/><ellipse cx="448.2" cy="514.1" rx="4.2" ry="3.8" transform="rotate(124 448.2 514.1)"/><ellipse cx="442.7" cy="516.6" rx="4.2" ry="3.6" transform="rotate(72 442.7 516.6)"/><ellipse cx="485.6" cy="515.9" rx="4.1" ry="3.5" transform="rotate(144 485.6 515.9)"/><ellipse cx="471.9" cy="522.3" rx="3.6" ry="2.7" transform="rotate(166 471.9 522.3)"/><ellipse cx="491.9" cy="525.2" rx="4.2" ry="3.8" transform="rotate(164 491.9 525.2)"/><ellipse cx="452.4" cy="522.0" rx="4.6" ry="4.0" transform="rotate(171 452.4 522.0)"/><ellipse cx="460.2" cy="547.3" rx="4.4" ry="3.7" transform="rotate(32 460.2 547.3)"/><ellipse cx="446.5" cy="552.1" rx="3.6" ry="3.4" transform="rotate(161 446.5 552.1)"/><ellipse cx="467.1" cy="545.9" rx="3.9" ry="3.4" transform="rotate(122 467.1 545.9)"/><ellipse cx="467.8" cy="534.3" rx="4.3" ry="3.5" transform="rotate(164 467.8 534.3)"/><ellipse cx="478.2" cy="515.7" rx="4.2" ry="3.9" transform="rotate(123 478.2 515.7)"/><ellipse cx="463.5" cy="551.9" rx="4.0" ry="3.7" transform="rotate(34 463.5 551.9)"/><ellipse cx="407.3" cy="548.2" rx="4.2" ry="3.8" transform="rotate(113 407.3 548.2)"/><ellipse cx="433.6" cy="522.3" rx="3.8" ry="2.9" transform="rotate(18 433.6 522.3)"/><ellipse cx="443.0" cy="528.9" rx="3.5" ry="2.7" transform="rotate(87 443.0 528.9)"/><ellipse cx="423.8" cy="524.9" rx="4.3" ry="3.9" transform="rotate(78 423.8 524.9)"/><ellipse cx="490.5" cy="539.8" rx="4.6" ry="3.4" transform="rotate(62 490.5 539.8)"/><ellipse cx="441.3" cy="521.4" rx="3.5" ry="3.0" transform="rotate(103 441.3 521.4)"/><ellipse cx="478.6" cy="528.8" rx="4.3" ry="3.6" transform="rotate(66 478.6 528.8)"/><ellipse cx="411.2" cy="529.9" rx="3.9" ry="2.9" transform="rotate(34 411.2 529.9)"/><ellipse cx="442.7" cy="542.1" rx="4.1" ry="3.6" transform="rotate(18 442.7 542.1)"/><ellipse cx="491.4" cy="516.0" rx="4.7" ry="3.4" transform="rotate(22 491.4 516.0)"/><ellipse cx="455.5" cy="535.3" rx="4.1" ry="3.3" transform="rotate(93 455.5 535.3)"/><ellipse cx="476.9" cy="553.0" rx="4.5" ry="4.0" transform="rotate(141 476.9 553.0)"/><ellipse cx="478.7" cy="525.3" rx="4.1" ry="3.7" transform="rotate(75 478.7 525.3)"/><ellipse cx="415.2" cy="529.0" rx="3.5" ry="2.6" transform="rotate(32 415.2 529.0)"/><ellipse cx="457.4" cy="545.3" rx="4.1" ry="3.2" transform="rotate(100 457.4 545.3)"/><ellipse cx="456.7" cy="527.6" rx="4.4" ry="4.3" transform="rotate(26 456.7 527.6)"/><ellipse cx="489.2" cy="520.4" rx="4.9" ry="3.5" transform="rotate(160 489.2 520.4)"/><ellipse cx="471.8" cy="549.7" rx="5.0" ry="4.1" transform="rotate(143 471.8 549.7)"/><ellipse cx="429.9" cy="541.7" rx="4.2" ry="3.6" transform="rotate(154 429.9 541.7)"/><ellipse cx="487.4" cy="551.9" rx="4.9" ry="3.9" transform="rotate(39 487.4 551.9)"/><ellipse cx="439.3" cy="546.7" rx="4.9" ry="4.3" transform="rotate(162 439.3 546.7)"/><ellipse cx="406.0" cy="527.3" rx="3.7" ry="3.5" transform="rotate(28 406.0 527.3)"/><ellipse cx="461.6" cy="516.9" rx="3.5" ry="2.8" transform="rotate(166 461.6 516.9)"/><ellipse cx="421.2" cy="530.8" rx="4.0" ry="3.3" transform="rotate(52 421.2 530.8)"/><ellipse cx="410.5" cy="550.9" rx="3.4" ry="2.9" transform="rotate(89 410.5 550.9)"/><ellipse cx="484.8" cy="553.2" rx="3.9" ry="3.6" transform="rotate(55 484.8 553.2)"/><ellipse cx="421.4" cy="518.6" rx="5.0" ry="4.8" transform="rotate(104 421.4 518.6)"/><ellipse cx="467.5" cy="513.6" rx="3.5" ry="3.0" transform="rotate(111 467.5 513.6)"/><ellipse cx="436.3" cy="550.9" rx="4.4" ry="3.7" transform="rotate(130 436.3 550.9)"/><ellipse cx="432.5" cy="515.1" rx="5.0" ry="4.6" transform="rotate(7 432.5 515.1)"/><ellipse cx="491.2" cy="547.9" rx="4.4" ry="3.9" transform="rotate(98 491.2 547.9)"/><ellipse cx="475.2" cy="524.9" rx="4.9" ry="3.6" transform="rotate(3 475.2 524.9)"/><ellipse cx="454.0" cy="514.2" rx="4.5" ry="3.4" transform="rotate(24 454.0 514.2)"/><ellipse cx="472.5" cy="541.2" rx="4.7" ry="3.9" transform="rotate(158 472.5 541.2)"/><ellipse cx="460.8" cy="552.7" rx="4.7" ry="4.2" transform="rotate(64 460.8 552.7)"/></g>
<path d="M412.8 522.5C413.7 520.8 415.9 520.3 417.8 520.0C419.6 519.7 421.7 520.7 424.0 520.6C426.3 520.6 429.0 519.8 431.5 519.8C434.0 519.7 436.5 520.3 439.0 520.2C441.5 520.2 444.0 519.4 446.5 519.4C449.0 519.4 451.5 520.2 454.0 520.2C456.5 520.3 459.0 519.9 461.5 519.8C464.0 519.6 466.5 519.3 469.0 519.4C471.5 519.5 474.0 519.9 476.5 520.2C479.0 520.6 482.2 520.7 484.0 521.2C485.8 521.8 486.8 521.9 487.5 523.8C488.2 525.6 488.1 529.4 488.0 532.5C487.9 535.6 487.8 539.9 487.1 542.5C486.5 545.1 485.8 547.1 484.0 548.1C482.2 549.1 479.0 548.6 476.5 548.5C474.0 548.4 471.5 547.5 469.0 547.5C466.5 547.5 464.0 548.4 461.5 548.5C459.0 548.6 456.5 548.0 454.0 548.1C451.5 548.2 449.0 548.9 446.5 549.0C444.0 549.1 441.5 548.5 439.0 548.5C436.5 548.5 434.0 549.0 431.5 549.0C429.0 549.0 426.3 548.5 424.0 548.5C421.7 548.5 419.6 549.4 417.8 549.0C415.9 548.6 413.9 548.0 413.0 546.2C412.1 544.5 412.4 541.5 412.2 538.8C412.1 536.0 411.9 532.7 412.0 530.0C412.1 527.3 411.8 524.2 412.8 522.5Z" fill="none" stroke="#8a8a8a" stroke-width="0.7"/>
<circle cx="595.0" cy="443.0" r="37.5" fill="#fff" stroke="#0c0c0c" stroke-width="3.8"/>
<path d="M580.6 430.5C583.1 428.9 590.9 432.1 595.0 432.4C599.1 432.6 601.6 432.6 605.0 432.0C608.4 431.4 613.6 426.8 615.6 428.6C617.6 430.5 616.9 438.5 616.9 443.0C616.9 447.5 616.8 452.6 615.6 455.5C614.5 458.4 612.8 460.1 610.0 460.5C607.2 460.9 602.7 458.4 598.8 458.0C594.8 457.6 589.2 458.8 586.2 458.0C583.3 457.2 582.2 455.7 581.2 453.0C580.2 450.3 580.4 445.5 580.2 441.8C580.1 438.0 578.2 432.1 580.6 430.5Z" fill="#b2b2b2"/>
<path d="M584.0 436.1C584.1 435.7 584.2 434.0 584.8 433.6C585.3 433.2 586.8 433.1 587.2 433.6C587.8 434.1 587.7 435.6 587.8 436.8C587.8 437.9 587.2 439.6 587.5 440.5C587.8 441.4 588.8 442.5 589.4 442.4C590.0 442.3 590.7 440.9 591.0 439.9C591.3 438.8 590.8 437.2 591.0 436.1C591.2 435.1 591.9 433.9 592.5 433.6C593.1 433.3 594.3 433.5 594.8 434.2C595.2 435.0 595.1 436.9 595.0 438.0C594.9 439.1 593.8 440.4 594.0 441.1C594.2 441.9 595.4 442.6 596.2 442.4C597.1 442.2 598.3 440.8 599.0 439.9C599.7 438.9 600.0 437.6 600.6 436.8C601.2 435.9 602.1 434.9 602.8 434.9C603.4 434.9 604.6 435.8 604.8 436.8C604.9 437.7 603.6 439.6 603.8 440.5C603.9 441.4 604.9 442.1 605.6 442.0C606.4 441.9 607.6 440.9 608.1 439.9C608.6 438.9 608.3 437.1 608.8 436.1C609.2 435.2 610.3 434.2 611.0 434.2C611.7 434.2 612.9 435.1 613.1 436.1C613.4 437.2 612.4 439.1 612.5 440.5C612.6 441.9 613.7 443.3 613.5 444.2C613.3 445.2 612.1 446.0 611.2 446.1C610.4 446.2 609.2 445.0 608.1 444.9C607.1 444.8 606.0 445.6 605.0 445.5C604.0 445.4 602.9 444.4 601.9 444.5C600.8 444.6 599.8 446.0 598.8 446.1C597.7 446.2 596.7 445.2 595.6 445.2C594.6 445.3 593.5 446.5 592.5 446.5C591.5 446.5 590.4 445.5 589.4 445.5C588.3 445.5 587.1 446.0 586.2 446.5C585.4 447.0 584.5 447.9 584.4 448.6C584.3 449.4 584.9 450.9 585.6 451.1C586.4 451.3 587.7 449.9 588.8 449.9C589.8 449.8 590.8 450.8 591.9 450.8C592.9 450.7 594.0 449.5 595.0 449.5C596.0 449.5 597.1 450.8 598.1 450.8C599.2 450.8 600.1 449.5 601.2 449.5C602.4 449.5 603.6 450.8 604.8 450.8C605.9 450.8 607.0 449.5 608.1 449.5C609.2 449.5 610.4 450.2 611.2 450.8C612.1 451.3 613.2 452.2 613.1 453.0C613.0 453.8 611.7 455.1 610.6 455.2C609.6 455.4 608.1 454.0 606.9 454.0C605.6 454.0 604.4 455.2 603.1 455.2C601.9 455.2 600.6 454.0 599.4 454.0C598.1 454.0 596.9 455.2 595.6 455.2C594.4 455.2 593.1 454.0 591.9 454.0C590.6 454.0 589.2 455.2 588.1 455.2C587.0 455.2 585.7 454.2 585.2 454.0" fill="none" stroke="#4a4a4a" stroke-width="3.6" stroke-linecap="round"/><path d="M584.0 436.1C584.1 435.7 584.2 434.0 584.8 433.6C585.3 433.2 586.8 433.1 587.2 433.6C587.8 434.1 587.7 435.6 587.8 436.8C587.8 437.9 587.2 439.6 587.5 440.5C587.8 441.4 588.8 442.5 589.4 442.4C590.0 442.3 590.7 440.9 591.0 439.9C591.3 438.8 590.8 437.2 591.0 436.1C591.2 435.1 591.9 433.9 592.5 433.6C593.1 433.3 594.3 433.5 594.8 434.2C595.2 435.0 595.1 436.9 595.0 438.0C594.9 439.1 593.8 440.4 594.0 441.1C594.2 441.9 595.4 442.6 596.2 442.4C597.1 442.2 598.3 440.8 599.0 439.9C599.7 438.9 600.0 437.6 600.6 436.8C601.2 435.9 602.1 434.9 602.8 434.9C603.4 434.9 604.6 435.8 604.8 436.8C604.9 437.7 603.6 439.6 603.8 440.5C603.9 441.4 604.9 442.1 605.6 442.0C606.4 441.9 607.6 440.9 608.1 439.9C608.6 438.9 608.3 437.1 608.8 436.1C609.2 435.2 610.3 434.2 611.0 434.2C611.7 434.2 612.9 435.1 613.1 436.1C613.4 437.2 612.4 439.1 612.5 440.5C612.6 441.9 613.7 443.3 613.5 444.2C613.3 445.2 612.1 446.0 611.2 446.1C610.4 446.2 609.2 445.0 608.1 444.9C607.1 444.8 606.0 445.6 605.0 445.5C604.0 445.4 602.9 444.4 601.9 444.5C600.8 444.6 599.8 446.0 598.8 446.1C597.7 446.2 596.7 445.2 595.6 445.2C594.6 445.3 593.5 446.5 592.5 446.5C591.5 446.5 590.4 445.5 589.4 445.5C588.3 445.5 587.1 446.0 586.2 446.5C585.4 447.0 584.5 447.9 584.4 448.6C584.3 449.4 584.9 450.9 585.6 451.1C586.4 451.3 587.7 449.9 588.8 449.9C589.8 449.8 590.8 450.8 591.9 450.8C592.9 450.7 594.0 449.5 595.0 449.5C596.0 449.5 597.1 450.8 598.1 450.8C599.2 450.8 600.1 449.5 601.2 449.5C602.4 449.5 603.6 450.8 604.8 450.8C605.9 450.8 607.0 449.5 608.1 449.5C609.2 449.5 610.4 450.2 611.2 450.8C612.1 451.3 613.2 452.2 613.1 453.0C613.0 453.8 611.7 455.1 610.6 455.2C609.6 455.4 608.1 454.0 606.9 454.0C605.6 454.0 604.4 455.2 603.1 455.2C601.9 455.2 600.6 454.0 599.4 454.0C598.1 454.0 596.9 455.2 595.6 455.2C594.4 455.2 593.1 454.0 591.9 454.0C590.6 454.0 589.2 455.2 588.1 455.2C587.0 455.2 585.7 454.2 585.2 454.0" fill="none" stroke="#b4b4b4" stroke-width="2.5" stroke-linecap="round"/><path d="M584.0 436.1C584.1 435.7 584.2 434.0 584.8 433.6C585.3 433.2 586.8 433.1 587.2 433.6C587.8 434.1 587.7 435.6 587.8 436.8C587.8 437.9 587.2 439.6 587.5 440.5C587.8 441.4 588.8 442.5 589.4 442.4C590.0 442.3 590.7 440.9 591.0 439.9C591.3 438.8 590.8 437.2 591.0 436.1C591.2 435.1 591.9 433.9 592.5 433.6C593.1 433.3 594.3 433.5 594.8 434.2C595.2 435.0 595.1 436.9 595.0 438.0C594.9 439.1 593.8 440.4 594.0 441.1C594.2 441.9 595.4 442.6 596.2 442.4C597.1 442.2 598.3 440.8 599.0 439.9C599.7 438.9 600.0 437.6 600.6 436.8C601.2 435.9 602.1 434.9 602.8 434.9C603.4 434.9 604.6 435.8 604.8 436.8C604.9 437.7 603.6 439.6 603.8 440.5C603.9 441.4 604.9 442.1 605.6 442.0C606.4 441.9 607.6 440.9 608.1 439.9C608.6 438.9 608.3 437.1 608.8 436.1C609.2 435.2 610.3 434.2 611.0 434.2C611.7 434.2 612.9 435.1 613.1 436.1C613.4 437.2 612.4 439.1 612.5 440.5C612.6 441.9 613.7 443.3 613.5 444.2C613.3 445.2 612.1 446.0 611.2 446.1C610.4 446.2 609.2 445.0 608.1 444.9C607.1 444.8 606.0 445.6 605.0 445.5C604.0 445.4 602.9 444.4 601.9 444.5C600.8 444.6 599.8 446.0 598.8 446.1C597.7 446.2 596.7 445.2 595.6 445.2C594.6 445.3 593.5 446.5 592.5 446.5C591.5 446.5 590.4 445.5 589.4 445.5C588.3 445.5 587.1 446.0 586.2 446.5C585.4 447.0 584.5 447.9 584.4 448.6C584.3 449.4 584.9 450.9 585.6 451.1C586.4 451.3 587.7 449.9 588.8 449.9C589.8 449.8 590.8 450.8 591.9 450.8C592.9 450.7 594.0 449.5 595.0 449.5C596.0 449.5 597.1 450.8 598.1 450.8C599.2 450.8 600.1 449.5 601.2 449.5C602.4 449.5 603.6 450.8 604.8 450.8C605.9 450.8 607.0 449.5 608.1 449.5C609.2 449.5 610.4 450.2 611.2 450.8C612.1 451.3 613.2 452.2 613.1 453.0C613.0 453.8 611.7 455.1 610.6 455.2C609.6 455.4 608.1 454.0 606.9 454.0C605.6 454.0 604.4 455.2 603.1 455.2C601.9 455.2 600.6 454.0 599.4 454.0C598.1 454.0 596.9 455.2 595.6 455.2C594.4 455.2 593.1 454.0 591.9 454.0C590.6 454.0 589.2 455.2 588.1 455.2C587.0 455.2 585.7 454.2 585.2 454.0" fill="none" stroke="#cecece" stroke-width="1.1" stroke-linecap="round"/>
<path d="M586.9 461.5C586.1 461.0 583.8 459.9 582.5 458.2C581.2 456.6 579.8 454.3 579.0 451.8C578.2 449.2 578.1 445.9 578.0 443.0C577.9 440.1 578.0 436.8 578.5 434.2C579.0 431.8 579.7 429.1 581.0 428.0C582.3 426.9 583.9 427.2 586.2 427.5C588.6 427.8 592.1 429.5 595.0 430.0C597.9 430.5 601.0 430.8 603.8 430.2C606.5 429.8 609.1 427.9 611.2 427.0C613.4 426.1 615.5 424.5 616.9 424.8C618.3 425.0 619.1 426.5 619.8 428.2C620.4 430.0 620.4 432.6 620.5 435.5C620.6 438.4 620.4 442.4 620.2 445.5C620.1 448.6 620.1 451.6 619.5 454.2C618.9 456.9 618.0 459.5 616.5 461.1C615.0 462.8 612.3 463.8 610.2 464.0C608.2 464.2 605.9 463.3 604.0 462.5C602.1 461.7 599.8 459.6 599.0 459.0" fill="none" stroke="#4a4a4a" stroke-width="6.4" stroke-linejoin="round"/>
<path d="M586.9 461.5C586.1 461.0 583.8 459.9 582.5 458.2C581.2 456.6 579.8 454.3 579.0 451.8C578.2 449.2 578.1 445.9 578.0 443.0C577.9 440.1 578.0 436.8 578.5 434.2C579.0 431.8 579.7 429.1 581.0 428.0C582.3 426.9 583.9 427.2 586.2 427.5C588.6 427.8 592.1 429.5 595.0 430.0C597.9 430.5 601.0 430.8 603.8 430.2C606.5 429.8 609.1 427.9 611.2 427.0C613.4 426.1 615.5 424.5 616.9 424.8C618.3 425.0 619.1 426.5 619.8 428.2C620.4 430.0 620.4 432.6 620.5 435.5C620.6 438.4 620.4 442.4 620.2 445.5C620.1 448.6 620.1 451.6 619.5 454.2C618.9 456.9 618.0 459.5 616.5 461.1C615.0 462.8 612.3 463.8 610.2 464.0C608.2 464.2 605.9 463.3 604.0 462.5C602.1 461.7 599.8 459.6 599.0 459.0" fill="none" stroke="#a2a2a2" stroke-width="5.2" stroke-linejoin="round"/>
<path d="M586.9 461.5C586.1 461.0 583.8 459.9 582.5 458.2C581.2 456.6 579.8 454.3 579.0 451.8C578.2 449.2 578.1 445.9 578.0 443.0C577.9 440.1 578.0 436.8 578.5 434.2C579.0 431.8 579.7 429.1 581.0 428.0C582.3 426.9 583.9 427.2 586.2 427.5C588.6 427.8 592.1 429.5 595.0 430.0C597.9 430.5 601.0 430.8 603.8 430.2C606.5 429.8 609.1 427.9 611.2 427.0C613.4 426.1 615.5 424.5 616.9 424.8C618.3 425.0 619.1 426.5 619.8 428.2C620.4 430.0 620.4 432.6 620.5 435.5C620.6 438.4 620.4 442.4 620.2 445.5C620.1 448.6 620.1 451.6 619.5 454.2C618.9 456.9 618.0 459.5 616.5 461.1C615.0 462.8 612.3 463.8 610.2 464.0C608.2 464.2 605.9 463.3 604.0 462.5C602.1 461.7 599.8 459.6 599.0 459.0" fill="none" stroke="#6e6e6e" stroke-width="5.2" stroke-dasharray="0.5 2.4" stroke-linejoin="round"/>
<path d="M585.2 458.6C584.8 457.7 583.0 455.6 582.2 453.0C581.5 450.4 581.1 446.0 581.0 443.0C580.9 440.0 581.1 437.0 581.5 434.9C581.9 432.8 581.0 430.9 583.2 430.5C585.5 430.1 591.6 432.1 595.0 432.5C598.4 432.9 600.8 433.2 603.8 432.8C606.7 432.3 610.3 430.5 612.5 429.8C614.7 429.0 615.9 427.3 616.8 428.2C617.6 429.2 617.6 432.6 617.8 435.5C617.9 438.4 617.7 442.4 617.5 445.5C617.3 448.6 617.2 451.9 616.5 454.2C615.8 456.6 614.9 458.6 613.5 459.8C612.1 460.9 610.1 461.4 608.1 461.2C606.2 461.1 602.9 459.4 601.9 459.0" fill="none" stroke="#f4f4f4" stroke-width="0.9" stroke-linejoin="round"/>
<path d="M595.0 458.0C596.0 457.0 598.0 456.7 599.0 457.5C600.0 458.3 600.7 461.0 600.9 463.0C601.1 465.0 600.8 467.0 600.2 469.2C599.7 471.5 598.5 475.2 597.8 476.5C597.0 477.8 596.3 477.8 595.6 476.8C595.0 475.8 594.2 472.8 593.8 470.5C593.3 468.2 592.9 465.3 593.1 463.2C593.3 461.2 594.0 459.0 595.0 458.0Z" fill="#9c9c9c" stroke="#4e4e4e" stroke-width="0.6"/>
<path d="M595.6 418.0C594.7 417.9 591.5 416.9 590.2 417.4C589.0 417.9 588.3 419.8 588.1 421.1C588.0 422.4 588.1 424.4 589.4 425.2C590.6 426.1 594.6 426.3 595.6 426.5" fill="none" stroke="#5a5a5a" stroke-width="3.6" stroke-linecap="butt"/><path d="M595.6 418.0C594.7 417.9 591.5 416.9 590.2 417.4C589.0 417.9 588.3 419.8 588.1 421.1C588.0 422.4 588.1 424.4 589.4 425.2C590.6 426.1 594.6 426.3 595.6 426.5" fill="none" stroke="#bdbdbd" stroke-width="2.6" stroke-linecap="butt"/><path d="M595.6 418.0C594.7 417.9 591.5 416.9 590.2 417.4C589.0 417.9 588.3 419.8 588.1 421.1C588.0 422.4 588.1 424.4 589.4 425.2C590.6 426.1 594.6 426.3 595.6 426.5" fill="none" stroke="#dcdcdc" stroke-width="1.2" stroke-linecap="butt"/>
<path d="M600.0 400.8C601.0 400.0 605.0 399.5 607.5 399.9C610.0 400.2 613.4 401.2 615.0 403.0C616.6 404.8 617.3 408.0 617.1 410.5C617.0 413.0 615.6 415.9 614.0 418.0C612.4 420.1 609.8 422.0 607.5 423.0C605.2 424.0 601.9 424.5 600.0 424.2C598.1 424.0 596.7 423.2 596.2 421.8C595.8 420.3 596.8 417.6 597.5 415.5C598.2 413.4 600.0 411.1 600.6 409.2C601.3 407.4 601.6 405.9 601.5 404.5C601.4 403.1 599.0 401.5 600.0 400.8Z" fill="url(#gSto)" stroke="#5a5a5a" stroke-width="0.6"/>
<path d="M598.8 401.8C598.9 401.1 600.1 400.6 600.6 400.8C601.1 400.9 601.7 401.7 601.9 402.4C602.0 403.1 601.9 404.5 601.5 404.9C601.1 405.2 600.2 405.0 599.8 404.5C599.3 404.0 598.6 402.4 598.8 401.8Z" fill="#d8d8d8" stroke="#5a5a5a" stroke-width="0.5"/>
<circle cx="575.2" cy="548.4" r="37.5" fill="#fff" stroke="#0c0c0c" stroke-width="3.8"/>
<clipPath id="c_liv"><path d="M550.0 535.5C550.5 533.0 551.2 531.0 552.5 529.2C553.8 527.5 555.4 525.9 557.5 524.9C559.6 523.8 562.1 523.2 565.0 523.0C567.9 522.8 572.3 523.1 575.0 523.6C577.7 524.1 579.2 525.5 581.2 526.1C583.3 526.8 584.8 527.2 587.5 527.4C590.2 527.6 594.2 527.4 597.5 527.4C600.8 527.3 604.4 527.0 607.5 527.0C610.6 527.0 614.3 526.9 616.2 527.4C618.2 527.9 619.2 528.5 619.4 529.9C619.6 531.2 618.6 533.6 617.5 535.5C616.4 537.4 614.6 539.5 612.5 541.1C610.4 542.8 607.9 544.1 605.0 545.5C602.1 546.9 598.3 548.0 595.0 549.2C591.7 550.5 588.3 551.5 585.0 553.0C581.7 554.5 578.1 556.1 575.0 558.0C571.9 559.9 568.8 562.2 566.2 564.2C563.8 566.3 561.7 568.8 560.0 570.5C558.3 572.2 557.3 573.8 556.2 574.2C555.2 574.7 554.1 574.5 553.5 573.0C552.9 571.5 553.0 568.6 552.5 565.5C552.0 562.4 551.1 557.8 550.6 554.2C550.1 550.7 549.5 547.4 549.4 544.2C549.3 541.1 549.5 538.0 550.0 535.5Z"/></clipPath>
<path d="M550.0 535.5C550.5 533.0 551.2 531.0 552.5 529.2C553.8 527.5 555.4 525.9 557.5 524.9C559.6 523.8 562.1 523.2 565.0 523.0C567.9 522.8 572.3 523.1 575.0 523.6C577.7 524.1 579.2 525.5 581.2 526.1C583.3 526.8 584.8 527.2 587.5 527.4C590.2 527.6 594.2 527.4 597.5 527.4C600.8 527.3 604.4 527.0 607.5 527.0C610.6 527.0 614.3 526.9 616.2 527.4C618.2 527.9 619.2 528.5 619.4 529.9C619.6 531.2 618.6 533.6 617.5 535.5C616.4 537.4 614.6 539.5 612.5 541.1C610.4 542.8 607.9 544.1 605.0 545.5C602.1 546.9 598.3 548.0 595.0 549.2C591.7 550.5 588.3 551.5 585.0 553.0C581.7 554.5 578.1 556.1 575.0 558.0C571.9 559.9 568.8 562.2 566.2 564.2C563.8 566.3 561.7 568.8 560.0 570.5C558.3 572.2 557.3 573.8 556.2 574.2C555.2 574.7 554.1 574.5 553.5 573.0C552.9 571.5 553.0 568.6 552.5 565.5C552.0 562.4 551.1 557.8 550.6 554.2C550.1 550.7 549.5 547.4 549.4 544.2C549.3 541.1 549.5 538.0 550.0 535.5Z" fill="url(#gLiv)"/>
<g clip-path="url(#c_liv)"><circle cx="565" cy="543" r="26" fill="url(#gLivH1)"/><circle cx="595" cy="538" r="11" fill="url(#gLivH2)"/>
<path d="M619.4 529.9C619.1 530.8 618.6 533.6 617.5 535.5C616.4 537.4 614.6 539.5 612.5 541.1C610.4 542.8 607.9 544.1 605.0 545.5C602.1 546.9 598.3 548.0 595.0 549.2C591.7 550.5 588.3 551.5 585.0 553.0C581.7 554.5 578.1 556.1 575.0 558.0C571.9 559.9 568.8 562.2 566.2 564.2C563.8 566.3 561.7 568.8 560.0 570.5C558.3 572.2 556.9 573.6 556.2 574.2" fill="none" stroke="#3c3c3c" stroke-opacity="0.5" stroke-width="5" filter="url(#b1)"/></g>
<path d="M550.0 535.5C550.5 533.0 551.2 531.0 552.5 529.2C553.8 527.5 555.4 525.9 557.5 524.9C559.6 523.8 562.1 523.2 565.0 523.0C567.9 522.8 572.3 523.1 575.0 523.6C577.7 524.1 579.2 525.5 581.2 526.1C583.3 526.8 584.8 527.2 587.5 527.4C590.2 527.6 594.2 527.4 597.5 527.4C600.8 527.3 604.4 527.0 607.5 527.0C610.6 527.0 614.3 526.9 616.2 527.4C618.2 527.9 619.2 528.5 619.4 529.9C619.6 531.2 618.6 533.6 617.5 535.5C616.4 537.4 614.6 539.5 612.5 541.1C610.4 542.8 607.9 544.1 605.0 545.5C602.1 546.9 598.3 548.0 595.0 549.2C591.7 550.5 588.3 551.5 585.0 553.0C581.7 554.5 578.1 556.1 575.0 558.0C571.9 559.9 568.8 562.2 566.2 564.2C563.8 566.3 561.7 568.8 560.0 570.5C558.3 572.2 557.3 573.8 556.2 574.2C555.2 574.7 554.1 574.5 553.5 573.0C552.9 571.5 553.0 568.6 552.5 565.5C552.0 562.4 551.1 557.8 550.6 554.2C550.1 550.7 549.5 547.4 549.4 544.2C549.3 541.1 549.5 538.0 550.0 535.5Z" fill="none" stroke="#555" stroke-width="0.5"/>
<path d="M581.2 526.1C581.0 526.5 579.9 527.9 580.0 528.6C580.1 529.4 581.6 530.4 581.9 530.8" fill="none" stroke="#6a6a6a" stroke-width="0.5"/>
<circle cx="528.2" cy="636.0" r="37.5" fill="#fff" stroke="#0c0c0c" stroke-width="3.8"/>
<clipPath id="c_pan"><path d="M490.5 628.5C491.2 626.6 492.6 623.8 494.2 622.2C495.9 620.7 497.4 619.8 500.5 619.1C503.6 618.5 508.6 618.5 513.0 618.2C517.4 618.0 522.2 617.5 526.8 617.5C531.3 617.5 536.1 617.9 540.5 618.2C544.9 618.6 549.2 619.4 553.0 619.5C556.8 619.6 560.1 619.2 563.0 619.1C565.9 619.0 568.6 618.2 570.5 618.8C572.4 619.3 573.7 620.9 574.2 622.2C574.8 623.6 574.7 625.5 573.6 626.6C572.6 627.8 570.2 628.4 568.0 629.1C565.8 629.9 563.4 630.3 560.5 631.0C557.6 631.7 553.8 632.5 550.5 633.2C547.2 634.0 543.8 634.7 540.5 635.4C537.2 636.1 533.8 636.9 530.5 637.5C527.2 638.1 522.6 637.9 520.5 639.1C518.4 640.3 518.8 643.0 518.0 644.8C517.2 646.5 517.2 648.3 515.5 649.8C513.8 651.2 510.5 652.7 508.0 653.5C505.5 654.3 502.6 654.9 500.5 654.5C498.4 654.1 496.6 652.6 495.5 651.0C494.4 649.4 494.4 646.8 493.6 644.8C492.9 642.7 491.8 640.4 491.1 638.5C490.5 636.6 490.0 635.2 489.9 633.5C489.8 631.8 489.8 630.4 490.5 628.5Z"/></clipPath>
<path d="M490.5 628.5C491.2 626.6 492.6 623.8 494.2 622.2C495.9 620.7 497.4 619.8 500.5 619.1C503.6 618.5 508.6 618.5 513.0 618.2C517.4 618.0 522.2 617.5 526.8 617.5C531.3 617.5 536.1 617.9 540.5 618.2C544.9 618.6 549.2 619.4 553.0 619.5C556.8 619.6 560.1 619.2 563.0 619.1C565.9 619.0 568.6 618.2 570.5 618.8C572.4 619.3 573.7 620.9 574.2 622.2C574.8 623.6 574.7 625.5 573.6 626.6C572.6 627.8 570.2 628.4 568.0 629.1C565.8 629.9 563.4 630.3 560.5 631.0C557.6 631.7 553.8 632.5 550.5 633.2C547.2 634.0 543.8 634.7 540.5 635.4C537.2 636.1 533.8 636.9 530.5 637.5C527.2 638.1 522.6 637.9 520.5 639.1C518.4 640.3 518.8 643.0 518.0 644.8C517.2 646.5 517.2 648.3 515.5 649.8C513.8 651.2 510.5 652.7 508.0 653.5C505.5 654.3 502.6 654.9 500.5 654.5C498.4 654.1 496.6 652.6 495.5 651.0C494.4 649.4 494.4 646.8 493.6 644.8C492.9 642.7 491.8 640.4 491.1 638.5C490.5 636.6 490.0 635.2 489.9 633.5C489.8 631.8 489.8 630.4 490.5 628.5Z" fill="#d6d6d6"/>
<g clip-path="url(#c_pan)" fill="url(#gLump)" stroke="#9c9c9c" stroke-opacity="0.65" stroke-width="0.45"><ellipse cx="555.6" cy="623.1" rx="2.1" ry="1.6" transform="rotate(158 555.6 623.1)"/><ellipse cx="504.9" cy="650.3" rx="2.8" ry="2.2" transform="rotate(133 504.9 650.3)"/><ellipse cx="565.8" cy="644.0" rx="2.2" ry="2.0" transform="rotate(1 565.8 644.0)"/><ellipse cx="516.4" cy="627.1" rx="2.6" ry="2.4" transform="rotate(90 516.4 627.1)"/><ellipse cx="540.8" cy="642.7" rx="2.6" ry="2.0" transform="rotate(82 540.8 642.7)"/><ellipse cx="510.0" cy="655.9" rx="2.8" ry="2.3" transform="rotate(133 510.0 655.9)"/><ellipse cx="543.4" cy="648.4" rx="2.6" ry="2.5" transform="rotate(133 543.4 648.4)"/><ellipse cx="573.3" cy="651.6" rx="2.3" ry="2.2" transform="rotate(147 573.3 651.6)"/><ellipse cx="553.3" cy="627.2" rx="2.4" ry="2.2" transform="rotate(74 553.3 627.2)"/><ellipse cx="510.1" cy="620.4" rx="2.6" ry="2.1" transform="rotate(83 510.1 620.4)"/><ellipse cx="563.7" cy="614.9" rx="2.3" ry="2.2" transform="rotate(110 563.7 614.9)"/><ellipse cx="514.9" cy="642.9" rx="2.6" ry="2.3" transform="rotate(83 514.9 642.9)"/><ellipse cx="516.8" cy="640.2" rx="2.2" ry="2.0" transform="rotate(80 516.8 640.2)"/><ellipse cx="507.6" cy="642.3" rx="2.3" ry="2.0" transform="rotate(23 507.6 642.3)"/><ellipse cx="488.7" cy="656.3" rx="2.6" ry="2.5" transform="rotate(65 488.7 656.3)"/><ellipse cx="510.2" cy="648.6" rx="2.2" ry="2.1" transform="rotate(111 510.2 648.6)"/><ellipse cx="501.8" cy="621.6" rx="2.3" ry="1.7" transform="rotate(103 501.8 621.6)"/><ellipse cx="568.9" cy="624.9" rx="2.2" ry="2.2" transform="rotate(128 568.9 624.9)"/><ellipse cx="557.4" cy="645.1" rx="2.3" ry="1.9" transform="rotate(15 557.4 645.1)"/><ellipse cx="496.3" cy="650.3" rx="2.2" ry="1.9" transform="rotate(158 496.3 650.3)"/><ellipse cx="539.1" cy="649.2" rx="2.4" ry="2.4" transform="rotate(46 539.1 649.2)"/><ellipse cx="547.9" cy="639.0" rx="2.1" ry="2.0" transform="rotate(67 547.9 639.0)"/><ellipse cx="562.8" cy="630.6" rx="2.3" ry="1.9" transform="rotate(110 562.8 630.6)"/><ellipse cx="545.5" cy="621.6" rx="2.2" ry="1.7" transform="rotate(107 545.5 621.6)"/><ellipse cx="506.0" cy="640.6" rx="2.7" ry="2.3" transform="rotate(28 506.0 640.6)"/><ellipse cx="534.5" cy="614.0" rx="2.9" ry="2.4" transform="rotate(97 534.5 614.0)"/><ellipse cx="497.4" cy="647.0" rx="2.9" ry="2.2" transform="rotate(89 497.4 647.0)"/><ellipse cx="488.9" cy="642.3" rx="2.4" ry="2.2" transform="rotate(40 488.9 642.3)"/><ellipse cx="562.2" cy="655.9" rx="2.2" ry="1.8" transform="rotate(100 562.2 655.9)"/><ellipse cx="513.9" cy="617.9" rx="2.3" ry="2.3" transform="rotate(156 513.9 617.9)"/><ellipse cx="507.4" cy="624.7" rx="2.7" ry="2.3" transform="rotate(148 507.4 624.7)"/><ellipse cx="504.8" cy="645.9" rx="2.6" ry="2.4" transform="rotate(171 504.8 645.9)"/><ellipse cx="539.4" cy="634.4" rx="2.1" ry="2.0" transform="rotate(162 539.4 634.4)"/><ellipse cx="491.2" cy="639.9" rx="2.4" ry="2.0" transform="rotate(5 491.2 639.9)"/><ellipse cx="517.5" cy="624.1" rx="2.9" ry="2.3" transform="rotate(1 517.5 624.1)"/><ellipse cx="518.9" cy="615.5" rx="2.1" ry="1.8" transform="rotate(122 518.9 615.5)"/><ellipse cx="492.5" cy="637.1" rx="2.9" ry="2.6" transform="rotate(18 492.5 637.1)"/><ellipse cx="550.1" cy="656.6" rx="2.9" ry="2.8" transform="rotate(145 550.1 656.6)"/><ellipse cx="560.7" cy="634.4" rx="2.9" ry="2.8" transform="rotate(123 560.7 634.4)"/><ellipse cx="546.4" cy="649.1" rx="2.8" ry="2.0" transform="rotate(178 546.4 649.1)"/><ellipse cx="521.5" cy="642.8" rx="2.0" ry="1.7" transform="rotate(102 521.5 642.8)"/><ellipse cx="506.6" cy="631.6" rx="2.5" ry="2.0" transform="rotate(91 506.6 631.6)"/><ellipse cx="502.3" cy="627.9" rx="2.3" ry="2.1" transform="rotate(5 502.3 627.9)"/><ellipse cx="567.9" cy="626.6" rx="2.3" ry="2.1" transform="rotate(82 567.9 626.6)"/><ellipse cx="535.5" cy="639.1" rx="2.0" ry="1.7" transform="rotate(167 535.5 639.1)"/><ellipse cx="576.5" cy="631.2" rx="2.5" ry="2.3" transform="rotate(68 576.5 631.2)"/><ellipse cx="550.1" cy="623.9" rx="3.0" ry="2.6" transform="rotate(145 550.1 623.9)"/><ellipse cx="504.7" cy="642.1" rx="2.6" ry="2.5" transform="rotate(70 504.7 642.1)"/><ellipse cx="490.0" cy="649.7" rx="2.9" ry="2.9" transform="rotate(161 490.0 649.7)"/><ellipse cx="488.8" cy="617.8" rx="2.9" ry="2.4" transform="rotate(60 488.8 617.8)"/><ellipse cx="500.9" cy="634.2" rx="2.9" ry="2.8" transform="rotate(106 500.9 634.2)"/><ellipse cx="524.3" cy="646.0" rx="2.6" ry="1.9" transform="rotate(100 524.3 646.0)"/><ellipse cx="558.5" cy="649.3" rx="2.1" ry="1.8" transform="rotate(40 558.5 649.3)"/><ellipse cx="507.7" cy="649.2" rx="2.6" ry="2.0" transform="rotate(58 507.7 649.2)"/><ellipse cx="543.4" cy="623.5" rx="2.8" ry="2.4" transform="rotate(23 543.4 623.5)"/><ellipse cx="541.9" cy="646.3" rx="3.0" ry="2.2" transform="rotate(74 541.9 646.3)"/><ellipse cx="493.4" cy="614.7" rx="2.7" ry="2.4" transform="rotate(117 493.4 614.7)"/><ellipse cx="515.1" cy="624.1" rx="2.9" ry="2.2" transform="rotate(91 515.1 624.1)"/><ellipse cx="571.6" cy="652.5" rx="2.3" ry="2.0" transform="rotate(83 571.6 652.5)"/><ellipse cx="536.8" cy="649.5" rx="2.6" ry="2.5" transform="rotate(90 536.8 649.5)"/><ellipse cx="571.3" cy="616.2" rx="2.4" ry="2.1" transform="rotate(30 571.3 616.2)"/><ellipse cx="513.9" cy="632.5" rx="2.9" ry="2.4" transform="rotate(89 513.9 632.5)"/><ellipse cx="495.5" cy="621.6" rx="2.8" ry="2.7" transform="rotate(179 495.5 621.6)"/><ellipse cx="549.3" cy="614.1" rx="2.7" ry="2.4" transform="rotate(77 549.3 614.1)"/><ellipse cx="518.8" cy="656.5" rx="2.8" ry="2.5" transform="rotate(1 518.8 656.5)"/><ellipse cx="520.6" cy="645.6" rx="2.6" ry="2.3" transform="rotate(64 520.6 645.6)"/><ellipse cx="491.3" cy="645.2" rx="2.8" ry="2.6" transform="rotate(159 491.3 645.2)"/><ellipse cx="566.8" cy="613.8" rx="2.3" ry="2.1" transform="rotate(101 566.8 613.8)"/><ellipse cx="575.4" cy="622.0" rx="2.3" ry="1.9" transform="rotate(15 575.4 622.0)"/><ellipse cx="529.8" cy="616.1" rx="2.8" ry="2.3" transform="rotate(62 529.8 616.1)"/><ellipse cx="546.8" cy="637.2" rx="2.3" ry="2.0" transform="rotate(88 546.8 637.2)"/><ellipse cx="490.2" cy="625.4" rx="2.9" ry="2.1" transform="rotate(61 490.2 625.4)"/><ellipse cx="499.6" cy="648.2" rx="2.8" ry="2.7" transform="rotate(11 499.6 648.2)"/><ellipse cx="549.9" cy="627.7" rx="2.4" ry="2.4" transform="rotate(176 549.9 627.7)"/><ellipse cx="522.9" cy="649.3" rx="2.3" ry="2.2" transform="rotate(59 522.9 649.3)"/><ellipse cx="544.7" cy="636.3" rx="2.1" ry="2.0" transform="rotate(22 544.7 636.3)"/><ellipse cx="555.4" cy="615.8" rx="3.0" ry="2.5" transform="rotate(153 555.4 615.8)"/><ellipse cx="566.6" cy="637.3" rx="2.5" ry="2.4" transform="rotate(134 566.6 637.3)"/><ellipse cx="539.2" cy="617.6" rx="2.2" ry="1.6" transform="rotate(30 539.2 617.6)"/><ellipse cx="524.6" cy="618.6" rx="2.6" ry="2.0" transform="rotate(13 524.6 618.6)"/><ellipse cx="526.7" cy="636.4" rx="2.4" ry="1.8" transform="rotate(55 526.7 636.4)"/><ellipse cx="499.2" cy="654.5" rx="2.6" ry="2.1" transform="rotate(142 499.2 654.5)"/><ellipse cx="566.2" cy="631.1" rx="2.3" ry="1.9" transform="rotate(72 566.2 631.1)"/><ellipse cx="502.4" cy="615.3" rx="2.8" ry="2.1" transform="rotate(146 502.4 615.3)"/><ellipse cx="575.6" cy="627.5" rx="2.1" ry="2.1" transform="rotate(100 575.6 627.5)"/><ellipse cx="558.5" cy="635.8" rx="2.8" ry="2.4" transform="rotate(120 558.5 635.8)"/><ellipse cx="533.3" cy="624.8" rx="2.7" ry="2.0" transform="rotate(34 533.3 624.8)"/><ellipse cx="570.0" cy="649.7" rx="2.9" ry="2.3" transform="rotate(43 570.0 649.7)"/><ellipse cx="513.3" cy="629.8" rx="2.1" ry="1.9" transform="rotate(141 513.3 629.8)"/><ellipse cx="535.6" cy="627.7" rx="2.0" ry="2.0" transform="rotate(20 535.6 627.7)"/><ellipse cx="572.0" cy="637.7" rx="2.5" ry="2.2" transform="rotate(45 572.0 637.7)"/><ellipse cx="549.3" cy="634.1" rx="2.3" ry="2.0" transform="rotate(140 549.3 634.1)"/><ellipse cx="514.7" cy="637.1" rx="2.3" ry="1.8" transform="rotate(175 514.7 637.1)"/><ellipse cx="487.3" cy="615.4" rx="2.3" ry="1.7" transform="rotate(167 487.3 615.4)"/><ellipse cx="527.9" cy="617.6" rx="2.9" ry="2.3" transform="rotate(95 527.9 617.6)"/><ellipse cx="550.0" cy="619.2" rx="2.9" ry="2.3" transform="rotate(61 550.0 619.2)"/><ellipse cx="544.6" cy="641.9" rx="2.0" ry="1.5" transform="rotate(109 544.6 641.9)"/><ellipse cx="508.5" cy="640.0" rx="2.5" ry="2.4" transform="rotate(80 508.5 640.0)"/><ellipse cx="523.1" cy="638.7" rx="2.3" ry="1.9" transform="rotate(25 523.1 638.7)"/><ellipse cx="526.7" cy="620.6" rx="2.5" ry="2.3" transform="rotate(33 526.7 620.6)"/><ellipse cx="520.8" cy="618.2" rx="2.6" ry="2.6" transform="rotate(125 520.8 618.2)"/><ellipse cx="509.5" cy="645.6" rx="2.3" ry="2.1" transform="rotate(19 509.5 645.6)"/><ellipse cx="499.7" cy="618.1" rx="2.1" ry="2.0" transform="rotate(127 499.7 618.1)"/><ellipse cx="503.1" cy="636.6" rx="2.6" ry="2.3" transform="rotate(63 503.1 636.6)"/><ellipse cx="509.7" cy="630.1" rx="2.8" ry="2.5" transform="rotate(148 509.7 630.1)"/><ellipse cx="540.6" cy="653.3" rx="2.7" ry="2.2" transform="rotate(146 540.6 653.3)"/><ellipse cx="524.5" cy="623.3" rx="2.3" ry="2.1" transform="rotate(151 524.5 623.3)"/><ellipse cx="499.7" cy="623.9" rx="3.0" ry="2.6" transform="rotate(35 499.7 623.9)"/><ellipse cx="531.9" cy="636.6" rx="2.2" ry="2.1" transform="rotate(55 531.9 636.6)"/><ellipse cx="539.3" cy="656.2" rx="2.1" ry="1.9" transform="rotate(75 539.3 656.2)"/><ellipse cx="509.6" cy="627.1" rx="2.7" ry="2.1" transform="rotate(92 509.6 627.1)"/><ellipse cx="492.9" cy="625.1" rx="3.0" ry="2.3" transform="rotate(69 492.9 625.1)"/><ellipse cx="504.6" cy="631.4" rx="2.4" ry="1.8" transform="rotate(25 504.6 631.4)"/><ellipse cx="537.9" cy="620.6" rx="2.3" ry="2.0" transform="rotate(24 537.9 620.6)"/><ellipse cx="570.1" cy="631.1" rx="2.6" ry="2.2" transform="rotate(54 570.1 631.1)"/><ellipse cx="568.3" cy="616.9" rx="2.9" ry="2.6" transform="rotate(80 568.3 616.9)"/><ellipse cx="540.0" cy="631.0" rx="2.3" ry="1.9" transform="rotate(116 540.0 631.0)"/><ellipse cx="489.9" cy="632.7" rx="2.8" ry="2.5" transform="rotate(0 489.9 632.7)"/><ellipse cx="551.2" cy="630.3" rx="2.2" ry="2.2" transform="rotate(98 551.2 630.3)"/><ellipse cx="491.9" cy="628.3" rx="2.5" ry="1.9" transform="rotate(141 491.9 628.3)"/><ellipse cx="505.8" cy="652.9" rx="2.8" ry="2.3" transform="rotate(48 505.8 652.9)"/><ellipse cx="563.8" cy="641.0" rx="2.1" ry="1.7" transform="rotate(92 563.8 641.0)"/><ellipse cx="499.2" cy="651.5" rx="2.4" ry="1.8" transform="rotate(17 499.2 651.5)"/><ellipse cx="535.6" cy="653.4" rx="2.2" ry="2.1" transform="rotate(173 535.6 653.4)"/><ellipse cx="493.9" cy="654.3" rx="2.9" ry="2.5" transform="rotate(65 493.9 654.3)"/><ellipse cx="497.0" cy="633.1" rx="2.9" ry="2.7" transform="rotate(116 497.0 633.1)"/><ellipse cx="523.0" cy="653.3" rx="2.7" ry="2.7" transform="rotate(94 523.0 653.3)"/><ellipse cx="571.9" cy="645.1" rx="2.3" ry="2.1" transform="rotate(167 571.9 645.1)"/><ellipse cx="560.5" cy="651.5" rx="2.2" ry="1.8" transform="rotate(137 560.5 651.5)"/><ellipse cx="577.4" cy="619.4" rx="2.8" ry="2.1" transform="rotate(145 577.4 619.4)"/><ellipse cx="495.5" cy="636.9" rx="2.2" ry="1.7" transform="rotate(8 495.5 636.9)"/><ellipse cx="488.1" cy="631.4" rx="2.5" ry="2.1" transform="rotate(33 488.1 631.4)"/><ellipse cx="544.9" cy="634.8" rx="2.7" ry="2.1" transform="rotate(167 544.9 634.8)"/><ellipse cx="513.7" cy="655.8" rx="3.0" ry="2.4" transform="rotate(4 513.7 655.8)"/><ellipse cx="495.5" cy="617.4" rx="2.1" ry="1.8" transform="rotate(63 495.5 617.4)"/><ellipse cx="553.7" cy="642.8" rx="2.8" ry="2.3" transform="rotate(46 553.7 642.8)"/><ellipse cx="503.1" cy="656.5" rx="2.2" ry="2.2" transform="rotate(137 503.1 656.5)"/><ellipse cx="559.6" cy="639.9" rx="2.7" ry="2.1" transform="rotate(79 559.6 639.9)"/><ellipse cx="554.9" cy="656.4" rx="2.8" ry="2.5" transform="rotate(50 554.9 656.4)"/><ellipse cx="571.4" cy="618.4" rx="2.4" ry="2.2" transform="rotate(9 571.4 618.4)"/><ellipse cx="564.6" cy="625.4" rx="2.6" ry="2.4" transform="rotate(92 564.6 625.4)"/><ellipse cx="493.9" cy="643.7" rx="2.6" ry="2.5" transform="rotate(58 493.9 643.7)"/><ellipse cx="517.0" cy="643.0" rx="2.8" ry="2.5" transform="rotate(132 517.0 643.0)"/><ellipse cx="553.3" cy="621.0" rx="2.1" ry="1.9" transform="rotate(67 553.3 621.0)"/><ellipse cx="572.9" cy="648.4" rx="2.1" ry="2.1" transform="rotate(47 572.9 648.4)"/><ellipse cx="493.9" cy="627.6" rx="2.5" ry="2.0" transform="rotate(20 493.9 627.6)"/><ellipse cx="517.0" cy="647.0" rx="2.3" ry="2.0" transform="rotate(114 517.0 647.0)"/><ellipse cx="563.0" cy="651.7" rx="2.7" ry="2.1" transform="rotate(49 563.0 651.7)"/><ellipse cx="531.7" cy="655.0" rx="2.8" ry="2.5" transform="rotate(133 531.7 655.0)"/><ellipse cx="543.5" cy="654.3" rx="2.5" ry="2.1" transform="rotate(5 543.5 654.3)"/><ellipse cx="495.2" cy="652.4" rx="2.8" ry="2.8" transform="rotate(128 495.2 652.4)"/><ellipse cx="571.7" cy="641.0" rx="2.2" ry="2.0" transform="rotate(122 571.7 641.0)"/><ellipse cx="537.8" cy="628.4" rx="2.3" ry="1.9" transform="rotate(160 537.8 628.4)"/><ellipse cx="511.9" cy="616.0" rx="2.3" ry="2.0" transform="rotate(8 511.9 616.0)"/><ellipse cx="550.6" cy="636.9" rx="2.0" ry="1.5" transform="rotate(54 550.6 636.9)"/><ellipse cx="571.7" cy="624.3" rx="2.9" ry="2.6" transform="rotate(87 571.7 624.3)"/><ellipse cx="522.9" cy="627.6" rx="2.1" ry="1.9" transform="rotate(23 522.9 627.6)"/><ellipse cx="563.1" cy="633.4" rx="2.1" ry="1.7" transform="rotate(46 563.1 633.4)"/><ellipse cx="553.6" cy="645.7" rx="2.8" ry="2.4" transform="rotate(115 553.6 645.7)"/><ellipse cx="540.8" cy="614.8" rx="2.3" ry="1.9" transform="rotate(20 540.8 614.8)"/><ellipse cx="538.6" cy="652.2" rx="2.3" ry="2.3" transform="rotate(120 538.6 652.2)"/><ellipse cx="533.6" cy="644.1" rx="2.3" ry="2.1" transform="rotate(163 533.6 644.1)"/><ellipse cx="555.3" cy="640.8" rx="2.8" ry="2.4" transform="rotate(28 555.3 640.8)"/><ellipse cx="515.3" cy="615.8" rx="2.1" ry="1.5" transform="rotate(147 515.3 615.8)"/><ellipse cx="539.6" cy="636.4" rx="2.8" ry="2.5" transform="rotate(130 539.6 636.4)"/><ellipse cx="499.6" cy="629.7" rx="2.1" ry="1.9" transform="rotate(1 499.6 629.7)"/><ellipse cx="531.7" cy="631.1" rx="2.0" ry="1.8" transform="rotate(1 531.7 631.1)"/><ellipse cx="512.9" cy="646.7" rx="2.4" ry="2.0" transform="rotate(156 512.9 646.7)"/><ellipse cx="517.3" cy="631.1" rx="2.4" ry="1.8" transform="rotate(122 517.3 631.1)"/><ellipse cx="499.4" cy="639.7" rx="2.2" ry="2.1" transform="rotate(166 499.4 639.7)"/><ellipse cx="496.0" cy="656.7" rx="3.0" ry="2.7" transform="rotate(32 496.0 656.7)"/><ellipse cx="494.1" cy="650.0" rx="2.2" ry="2.0" transform="rotate(79 494.1 650.0)"/><ellipse cx="524.4" cy="644.1" rx="2.7" ry="2.1" transform="rotate(102 524.4 644.1)"/><ellipse cx="550.0" cy="645.7" rx="2.9" ry="2.3" transform="rotate(150 550.0 645.7)"/><ellipse cx="544.4" cy="614.5" rx="2.1" ry="1.9" transform="rotate(7 544.4 614.5)"/><ellipse cx="563.9" cy="646.7" rx="2.2" ry="1.7" transform="rotate(35 563.9 646.7)"/><ellipse cx="495.8" cy="639.8" rx="2.5" ry="2.4" transform="rotate(146 495.8 639.8)"/><ellipse cx="514.0" cy="652.4" rx="2.9" ry="2.3" transform="rotate(168 514.0 652.4)"/><ellipse cx="536.4" cy="643.2" rx="2.4" ry="2.2" transform="rotate(130 536.4 643.2)"/><ellipse cx="528.6" cy="624.8" rx="2.3" ry="1.8" transform="rotate(78 528.6 624.8)"/><ellipse cx="542.8" cy="627.0" rx="2.3" ry="2.2" transform="rotate(155 542.8 627.0)"/><ellipse cx="567.7" cy="621.4" rx="2.7" ry="2.0" transform="rotate(143 567.7 621.4)"/><ellipse cx="558.6" cy="630.0" rx="2.8" ry="2.8" transform="rotate(33 558.6 630.0)"/><ellipse cx="501.8" cy="639.6" rx="2.9" ry="2.4" transform="rotate(99 501.8 639.6)"/><ellipse cx="518.4" cy="636.5" rx="2.2" ry="1.7" transform="rotate(75 518.4 636.5)"/><ellipse cx="541.6" cy="622.5" rx="2.6" ry="2.0" transform="rotate(99 541.6 622.5)"/><ellipse cx="505.8" cy="634.9" rx="2.4" ry="1.9" transform="rotate(116 505.8 634.9)"/><ellipse cx="526.4" cy="645.0" rx="2.3" ry="1.7" transform="rotate(43 526.4 645.0)"/><ellipse cx="566.4" cy="645.2" rx="2.4" ry="2.2" transform="rotate(12 566.4 645.2)"/><ellipse cx="536.4" cy="630.5" rx="2.9" ry="2.1" transform="rotate(170 536.4 630.5)"/><ellipse cx="539.0" cy="639.7" rx="2.0" ry="1.6" transform="rotate(60 539.0 639.7)"/><ellipse cx="554.8" cy="635.7" rx="2.7" ry="2.0" transform="rotate(37 554.8 635.7)"/><ellipse cx="531.6" cy="626.9" rx="2.8" ry="2.8" transform="rotate(10 531.6 626.9)"/><ellipse cx="558.7" cy="619.2" rx="2.1" ry="1.7" transform="rotate(65 558.7 619.2)"/><ellipse cx="561.5" cy="649.0" rx="2.7" ry="2.6" transform="rotate(114 561.5 649.0)"/><ellipse cx="510.0" cy="624.4" rx="2.3" ry="1.8" transform="rotate(11 510.0 624.4)"/><ellipse cx="569.3" cy="642.7" rx="2.1" ry="2.0" transform="rotate(155 569.3 642.7)"/><ellipse cx="486.9" cy="652.6" rx="2.4" ry="1.9" transform="rotate(155 486.9 652.6)"/><ellipse cx="564.6" cy="650.5" rx="2.2" ry="1.9" transform="rotate(159 564.6 650.5)"/><ellipse cx="574.7" cy="633.8" rx="2.0" ry="1.7" transform="rotate(35 574.7 633.8)"/><ellipse cx="576.3" cy="648.4" rx="2.4" ry="2.4" transform="rotate(172 576.3 648.4)"/><ellipse cx="550.0" cy="649.6" rx="2.8" ry="2.6" transform="rotate(67 550.0 649.6)"/><ellipse cx="526.6" cy="626.3" rx="2.7" ry="2.5" transform="rotate(162 526.6 626.3)"/><ellipse cx="556.2" cy="634.3" rx="2.4" ry="2.3" transform="rotate(34 556.2 634.3)"/><ellipse cx="519.4" cy="652.5" rx="2.6" ry="2.5" transform="rotate(133 519.4 652.5)"/><ellipse cx="501.2" cy="637.4" rx="2.8" ry="2.1" transform="rotate(67 501.2 637.4)"/><ellipse cx="575.5" cy="640.0" rx="2.6" ry="2.4" transform="rotate(42 575.5 640.0)"/><ellipse cx="512.2" cy="622.2" rx="2.5" ry="2.4" transform="rotate(123 512.2 622.2)"/><ellipse cx="561.7" cy="643.8" rx="2.3" ry="1.7" transform="rotate(64 561.7 643.8)"/><ellipse cx="488.6" cy="645.3" rx="2.2" ry="1.9" transform="rotate(94 488.6 645.3)"/><ellipse cx="499.5" cy="643.1" rx="2.0" ry="2.0" transform="rotate(164 499.5 643.1)"/><ellipse cx="554.2" cy="630.6" rx="2.2" ry="1.7" transform="rotate(172 554.2 630.6)"/><ellipse cx="493.8" cy="631.4" rx="2.0" ry="1.6" transform="rotate(65 493.8 631.4)"/><ellipse cx="511.8" cy="643.9" rx="2.8" ry="2.1" transform="rotate(95 511.8 643.9)"/><ellipse cx="517.4" cy="651.5" rx="2.8" ry="2.5" transform="rotate(79 517.4 651.5)"/><ellipse cx="567.0" cy="653.5" rx="2.7" ry="2.4" transform="rotate(87 567.0 653.5)"/><ellipse cx="537.9" cy="645.7" rx="2.3" ry="2.0" transform="rotate(145 537.9 645.7)"/><ellipse cx="554.0" cy="650.5" rx="2.1" ry="1.9" transform="rotate(75 554.0 650.5)"/><ellipse cx="521.7" cy="656.8" rx="2.2" ry="1.8" transform="rotate(12 521.7 656.8)"/><ellipse cx="533.5" cy="646.1" rx="2.8" ry="2.5" transform="rotate(78 533.5 646.1)"/><ellipse cx="497.6" cy="621.3" rx="2.9" ry="2.7" transform="rotate(71 497.6 621.3)"/><ellipse cx="553.1" cy="613.9" rx="2.0" ry="1.8" transform="rotate(41 553.1 613.9)"/><ellipse cx="525.9" cy="649.2" rx="2.6" ry="1.9" transform="rotate(143 525.9 649.2)"/><ellipse cx="529.1" cy="636.7" rx="2.9" ry="2.2" transform="rotate(147 529.1 636.7)"/><ellipse cx="569.9" cy="654.7" rx="2.1" ry="1.6" transform="rotate(101 569.9 654.7)"/><ellipse cx="521.3" cy="629.8" rx="2.2" ry="1.9" transform="rotate(66 521.3 629.8)"/><ellipse cx="563.1" cy="620.9" rx="2.8" ry="2.6" transform="rotate(159 563.1 620.9)"/><ellipse cx="572.0" cy="642.0" rx="2.2" ry="1.8" transform="rotate(149 572.0 642.0)"/><ellipse cx="513.3" cy="639.9" rx="2.4" ry="1.8" transform="rotate(90 513.3 639.9)"/><ellipse cx="520.0" cy="621.7" rx="2.2" ry="2.0" transform="rotate(72 520.0 621.7)"/><ellipse cx="521.3" cy="636.5" rx="2.2" ry="2.0" transform="rotate(160 521.3 636.5)"/><ellipse cx="554.1" cy="617.3" rx="2.2" ry="1.7" transform="rotate(89 554.1 617.3)"/><ellipse cx="545.5" cy="647.4" rx="2.2" ry="2.1" transform="rotate(78 545.5 647.4)"/><ellipse cx="568.1" cy="636.7" rx="2.1" ry="1.6" transform="rotate(39 568.1 636.7)"/><ellipse cx="556.5" cy="626.9" rx="2.3" ry="2.0" transform="rotate(158 556.5 626.9)"/><ellipse cx="559.1" cy="655.3" rx="2.4" ry="2.1" transform="rotate(172 559.1 655.3)"/><ellipse cx="488.2" cy="632.8" rx="2.5" ry="2.1" transform="rotate(156 488.2 632.8)"/><ellipse cx="487.4" cy="620.0" rx="2.7" ry="2.2" transform="rotate(146 487.4 620.0)"/><ellipse cx="536.8" cy="656.5" rx="2.2" ry="1.7" transform="rotate(42 536.8 656.5)"/><ellipse cx="525.2" cy="656.7" rx="2.3" ry="2.2" transform="rotate(45 525.2 656.7)"/><ellipse cx="498.9" cy="627.2" rx="2.1" ry="1.6" transform="rotate(144 498.9 627.2)"/><ellipse cx="563.2" cy="627.2" rx="2.5" ry="2.5" transform="rotate(60 563.2 627.2)"/><ellipse cx="544.3" cy="630.6" rx="2.1" ry="1.7" transform="rotate(135 544.3 630.6)"/><ellipse cx="531.3" cy="621.7" rx="2.5" ry="2.4" transform="rotate(170 531.3 621.7)"/><ellipse cx="546.1" cy="654.3" rx="2.5" ry="1.9" transform="rotate(152 546.1 654.3)"/><ellipse cx="519.5" cy="626.5" rx="2.9" ry="2.5" transform="rotate(95 519.5 626.5)"/><ellipse cx="518.1" cy="650.3" rx="2.8" ry="2.3" transform="rotate(3 518.1 650.3)"/><ellipse cx="496.1" cy="631.2" rx="3.0" ry="2.5" transform="rotate(60 496.1 631.2)"/><ellipse cx="559.4" cy="647.3" rx="2.9" ry="2.8" transform="rotate(79 559.4 647.3)"/><ellipse cx="524.6" cy="630.1" rx="2.7" ry="2.7" transform="rotate(93 524.6 630.1)"/><ellipse cx="542.8" cy="633.4" rx="2.5" ry="2.5" transform="rotate(23 542.8 633.4)"/><ellipse cx="504.8" cy="624.8" rx="2.7" ry="2.1" transform="rotate(58 504.8 624.8)"/><ellipse cx="509.3" cy="651.5" rx="2.8" ry="2.1" transform="rotate(164 509.3 651.5)"/><ellipse cx="520.5" cy="639.6" rx="2.7" ry="2.7" transform="rotate(152 520.5 639.6)"/><ellipse cx="575.5" cy="636.1" rx="2.6" ry="2.2" transform="rotate(17 575.5 636.1)"/><ellipse cx="544.4" cy="651.6" rx="2.9" ry="2.7" transform="rotate(57 544.4 651.6)"/><ellipse cx="547.9" cy="643.1" rx="2.3" ry="2.3" transform="rotate(59 547.9 643.1)"/><ellipse cx="530.0" cy="651.8" rx="2.2" ry="1.7" transform="rotate(127 530.0 651.8)"/><ellipse cx="572.4" cy="656.0" rx="2.8" ry="2.2" transform="rotate(122 572.4 656.0)"/><ellipse cx="575.2" cy="641.9" rx="2.6" ry="2.4" transform="rotate(29 575.2 641.9)"/><ellipse cx="559.6" cy="614.8" rx="2.8" ry="2.1" transform="rotate(18 559.6 614.8)"/><ellipse cx="533.6" cy="622.2" rx="2.6" ry="2.5" transform="rotate(124 533.6 622.2)"/><ellipse cx="506.7" cy="656.1" rx="2.9" ry="2.7" transform="rotate(120 506.7 656.1)"/><ellipse cx="532.3" cy="618.5" rx="2.9" ry="2.9" transform="rotate(150 532.3 618.5)"/><ellipse cx="526.6" cy="651.3" rx="2.1" ry="1.7" transform="rotate(80 526.6 651.3)"/><ellipse cx="541.3" cy="639.3" rx="2.5" ry="2.2" transform="rotate(160 541.3 639.3)"/><ellipse cx="521.4" cy="624.8" rx="2.6" ry="2.6" transform="rotate(178 521.4 624.8)"/><ellipse cx="576.8" cy="656.4" rx="2.0" ry="1.6" transform="rotate(177 576.8 656.4)"/><ellipse cx="508.2" cy="614.8" rx="2.1" ry="1.7" transform="rotate(31 508.2 614.8)"/><ellipse cx="530.2" cy="632.7" rx="2.7" ry="2.3" transform="rotate(156 530.2 632.7)"/><ellipse cx="570.0" cy="626.8" rx="3.0" ry="2.9" transform="rotate(55 570.0 626.8)"/><ellipse cx="531.2" cy="645.8" rx="2.6" ry="2.6" transform="rotate(76 531.2 645.8)"/><ellipse cx="500.8" cy="653.5" rx="2.4" ry="2.4" transform="rotate(102 500.8 653.5)"/><ellipse cx="504.5" cy="618.1" rx="2.0" ry="1.8" transform="rotate(23 504.5 618.1)"/><ellipse cx="551.1" cy="644.3" rx="2.0" ry="2.0" transform="rotate(135 551.1 644.3)"/><ellipse cx="539.4" cy="616.1" rx="2.4" ry="2.4" transform="rotate(39 539.4 616.1)"/><ellipse cx="510.8" cy="618.2" rx="2.0" ry="1.5" transform="rotate(87 510.8 618.2)"/><ellipse cx="515.8" cy="622.4" rx="2.3" ry="2.0" transform="rotate(174 515.8 622.4)"/><ellipse cx="496.6" cy="643.8" rx="2.5" ry="2.4" transform="rotate(20 496.6 643.8)"/><ellipse cx="510.3" cy="634.3" rx="2.7" ry="2.1" transform="rotate(154 510.3 634.3)"/><ellipse cx="496.1" cy="623.3" rx="2.5" ry="2.1" transform="rotate(70 496.1 623.3)"/><ellipse cx="560.9" cy="624.2" rx="2.2" ry="2.1" transform="rotate(87 560.9 624.2)"/><ellipse cx="490.5" cy="622.0" rx="2.1" ry="1.7" transform="rotate(68 490.5 622.0)"/><ellipse cx="552.1" cy="639.1" rx="2.3" ry="1.7" transform="rotate(99 552.1 639.1)"/><ellipse cx="548.8" cy="653.3" rx="2.7" ry="2.0" transform="rotate(123 548.8 653.3)"/><ellipse cx="502.8" cy="647.4" rx="2.2" ry="1.9" transform="rotate(145 502.8 647.4)"/><ellipse cx="547.6" cy="623.9" rx="2.3" ry="2.2" transform="rotate(16 547.6 623.9)"/><ellipse cx="560.6" cy="621.4" rx="2.3" ry="1.7" transform="rotate(27 560.6 621.4)"/><ellipse cx="557.7" cy="623.8" rx="2.7" ry="2.6" transform="rotate(138 557.7 623.8)"/><ellipse cx="558.8" cy="643.7" rx="2.2" ry="2.0" transform="rotate(113 558.8 643.7)"/><ellipse cx="506.3" cy="637.4" rx="2.3" ry="1.7" transform="rotate(155 506.3 637.4)"/><ellipse cx="529.8" cy="649.8" rx="2.9" ry="2.4" transform="rotate(18 529.8 649.8)"/><ellipse cx="547.1" cy="619.3" rx="2.8" ry="2.2" transform="rotate(8 547.1 619.3)"/><ellipse cx="566.0" cy="617.7" rx="3.0" ry="2.3" transform="rotate(42 566.0 617.7)"/><ellipse cx="524.1" cy="620.5" rx="2.7" ry="2.4" transform="rotate(116 524.1 620.5)"/><ellipse cx="566.2" cy="639.2" rx="2.2" ry="2.1" transform="rotate(66 566.2 639.2)"/><ellipse cx="537.4" cy="624.0" rx="2.2" ry="2.1" transform="rotate(41 537.4 624.0)"/><ellipse cx="513.3" cy="627.0" rx="2.4" ry="1.9" transform="rotate(85 513.3 627.0)"/><ellipse cx="490.2" cy="651.7" rx="2.8" ry="2.1" transform="rotate(179 490.2 651.7)"/><ellipse cx="560.4" cy="617.5" rx="2.5" ry="2.4" transform="rotate(81 560.4 617.5)"/><ellipse cx="573.6" cy="646.0" rx="2.4" ry="2.1" transform="rotate(12 573.6 646.0)"/><ellipse cx="535.6" cy="636.4" rx="2.2" ry="1.7" transform="rotate(31 535.6 636.4)"/><ellipse cx="528.1" cy="613.8" rx="2.3" ry="1.7" transform="rotate(165 528.1 613.8)"/><ellipse cx="569.5" cy="621.8" rx="2.0" ry="1.6" transform="rotate(11 569.5 621.8)"/><ellipse cx="493.3" cy="618.6" rx="2.6" ry="2.5" transform="rotate(99 493.3 618.6)"/><ellipse cx="551.8" cy="651.3" rx="2.4" ry="2.2" transform="rotate(107 551.8 651.3)"/><ellipse cx="572.4" cy="630.3" rx="2.7" ry="2.5" transform="rotate(46 572.4 630.3)"/><ellipse cx="544.4" cy="627.8" rx="2.1" ry="1.7" transform="rotate(37 544.4 627.8)"/><ellipse cx="505.6" cy="615.4" rx="2.7" ry="2.6" transform="rotate(11 505.6 615.4)"/><ellipse cx="506.7" cy="627.6" rx="2.6" ry="2.2" transform="rotate(80 506.7 627.6)"/><ellipse cx="530.1" cy="656.8" rx="2.2" ry="2.2" transform="rotate(143 530.1 656.8)"/><ellipse cx="530.6" cy="641.1" rx="2.8" ry="2.6" transform="rotate(166 530.6 641.1)"/><ellipse cx="506.1" cy="618.9" rx="2.9" ry="2.7" transform="rotate(120 506.1 618.9)"/><ellipse cx="576.5" cy="625.2" rx="2.0" ry="1.6" transform="rotate(59 576.5 625.2)"/><ellipse cx="530.0" cy="630.9" rx="2.8" ry="2.0" transform="rotate(131 530.0 630.9)"/><ellipse cx="565.8" cy="654.5" rx="2.4" ry="1.8" transform="rotate(67 565.8 654.5)"/><ellipse cx="545.2" cy="638.8" rx="2.3" ry="2.1" transform="rotate(46 545.2 638.8)"/><ellipse cx="568.0" cy="634.9" rx="2.2" ry="2.1" transform="rotate(71 568.0 634.9)"/><ellipse cx="504.9" cy="622.4" rx="2.8" ry="2.1" transform="rotate(67 504.9 622.4)"/><ellipse cx="523.2" cy="614.8" rx="2.2" ry="1.7" transform="rotate(90 523.2 614.8)"/><ellipse cx="488.8" cy="636.1" rx="2.9" ry="2.5" transform="rotate(157 488.8 636.1)"/><ellipse cx="570.7" cy="632.9" rx="2.3" ry="1.7" transform="rotate(150 570.7 632.9)"/><ellipse cx="515.7" cy="634.8" rx="2.3" ry="1.8" transform="rotate(122 515.7 634.8)"/><ellipse cx="535.2" cy="618.0" rx="3.0" ry="2.6" transform="rotate(92 535.2 618.0)"/><ellipse cx="511.3" cy="636.0" rx="2.2" ry="1.6" transform="rotate(64 511.3 636.0)"/><ellipse cx="547.5" cy="630.5" rx="2.2" ry="1.9" transform="rotate(23 547.5 630.5)"/><ellipse cx="529.1" cy="643.2" rx="2.3" ry="1.8" transform="rotate(4 529.1 643.2)"/><ellipse cx="534.8" cy="634.9" rx="2.8" ry="2.3" transform="rotate(127 534.8 634.9)"/><ellipse cx="497.7" cy="615.8" rx="2.7" ry="2.5" transform="rotate(93 497.7 615.8)"/><ellipse cx="561.1" cy="637.6" rx="2.2" ry="2.0" transform="rotate(60 561.1 637.6)"/><ellipse cx="551.4" cy="633.0" rx="2.3" ry="2.2" transform="rotate(159 551.4 633.0)"/><ellipse cx="557.3" cy="651.2" rx="2.9" ry="2.8" transform="rotate(109 557.3 651.2)"/><ellipse cx="543.5" cy="619.3" rx="2.8" ry="2.5" transform="rotate(161 543.5 619.3)"/><ellipse cx="550.1" cy="622.4" rx="2.2" ry="1.7" transform="rotate(16 550.1 622.4)"/><ellipse cx="528.2" cy="640.7" rx="2.4" ry="2.4" transform="rotate(102 528.2 640.7)"/><ellipse cx="517.9" cy="618.8" rx="2.3" ry="2.1" transform="rotate(57 517.9 618.8)"/><ellipse cx="556.5" cy="622.3" rx="2.6" ry="2.4" transform="rotate(128 556.5 622.3)"/><ellipse cx="538.7" cy="624.3" rx="2.6" ry="2.2" transform="rotate(32 538.7 624.3)"/><ellipse cx="524.3" cy="633.5" rx="2.1" ry="1.6" transform="rotate(64 524.3 633.5)"/><ellipse cx="533.9" cy="650.2" rx="2.8" ry="2.7" transform="rotate(35 533.9 650.2)"/><ellipse cx="487.7" cy="640.3" rx="2.7" ry="2.2" transform="rotate(67 487.7 640.3)"/><ellipse cx="495.8" cy="646.3" rx="2.9" ry="2.6" transform="rotate(99 495.8 646.3)"/><ellipse cx="527.4" cy="633.2" rx="2.9" ry="2.3" transform="rotate(53 527.4 633.2)"/><ellipse cx="486.7" cy="627.4" rx="2.1" ry="1.7" transform="rotate(128 486.7 627.4)"/><ellipse cx="491.4" cy="614.1" rx="2.1" ry="1.8" transform="rotate(28 491.4 614.1)"/><ellipse cx="575.6" cy="615.4" rx="2.5" ry="1.8" transform="rotate(118 575.6 615.4)"/><ellipse cx="559.6" cy="627.2" rx="2.5" ry="2.4" transform="rotate(42 559.6 627.2)"/><ellipse cx="493.6" cy="632.6" rx="2.1" ry="1.9" transform="rotate(56 493.6 632.6)"/><ellipse cx="513.5" cy="648.3" rx="2.9" ry="2.7" transform="rotate(154 513.5 648.3)"/><ellipse cx="519.9" cy="633.0" rx="2.6" ry="2.4" transform="rotate(45 519.9 633.0)"/></g>
<path d="M490.5 628.5C491.2 626.6 492.6 623.8 494.2 622.2C495.9 620.7 497.4 619.8 500.5 619.1C503.6 618.5 508.6 618.5 513.0 618.2C517.4 618.0 522.2 617.5 526.8 617.5C531.3 617.5 536.1 617.9 540.5 618.2C544.9 618.6 549.2 619.4 553.0 619.5C556.8 619.6 560.1 619.2 563.0 619.1C565.9 619.0 568.6 618.2 570.5 618.8C572.4 619.3 573.7 620.9 574.2 622.2C574.8 623.6 574.7 625.5 573.6 626.6C572.6 627.8 570.2 628.4 568.0 629.1C565.8 629.9 563.4 630.3 560.5 631.0C557.6 631.7 553.8 632.5 550.5 633.2C547.2 634.0 543.8 634.7 540.5 635.4C537.2 636.1 533.8 636.9 530.5 637.5C527.2 638.1 522.6 637.9 520.5 639.1C518.4 640.3 518.8 643.0 518.0 644.8C517.2 646.5 517.2 648.3 515.5 649.8C513.8 651.2 510.5 652.7 508.0 653.5C505.5 654.3 502.6 654.9 500.5 654.5C498.4 654.1 496.6 652.6 495.5 651.0C494.4 649.4 494.4 646.8 493.6 644.8C492.9 642.7 491.8 640.4 491.1 638.5C490.5 636.6 490.0 635.2 489.9 633.5C489.8 631.8 489.8 630.4 490.5 628.5Z" fill="none" stroke="#7a7a7a" stroke-width="0.7"/>
<circle cx="390.2" cy="645.3" r="37.5" fill="#fff" stroke="#0c0c0c" stroke-width="3.8"/>
<clipPath id="c_hrt"><path d="M365.0 642.5C365.2 639.4 367.1 636.4 368.5 633.8C369.9 631.1 371.4 627.5 373.5 626.5C375.6 625.5 378.9 626.5 381.2 627.5C383.6 628.5 385.0 631.5 387.5 632.5C390.0 633.5 393.8 634.0 396.2 633.8C398.8 633.5 400.6 630.8 402.5 631.0C404.4 631.2 406.2 632.8 407.8 634.8C409.2 636.7 410.5 639.5 411.5 642.5C412.5 645.5 413.4 649.2 414.0 652.5C414.6 655.8 415.4 659.5 415.2 662.5C415.1 665.5 414.2 668.4 413.0 670.2C411.8 672.1 409.9 673.2 407.8 673.5C405.6 673.8 403.0 672.9 400.0 672.1C397.0 671.4 393.1 670.1 390.0 669.0C386.9 667.9 384.0 666.7 381.2 665.2C378.5 663.8 375.8 662.4 373.5 660.2C371.2 658.1 368.7 655.5 367.2 652.5C365.8 649.5 364.8 645.6 365.0 642.5Z"/></clipPath>
<path d="M385.2 605.6C385.2 604.2 384.8 598.6 384.8 597.2" fill="none" stroke="#3a3a3a" stroke-width="4.2" stroke-linecap="butt"/><path d="M385.2 605.6C385.2 604.2 384.8 598.6 384.8 597.2" fill="none" stroke="#707070" stroke-width="2.8" stroke-linecap="butt"/><path d="M385.2 605.6C385.2 604.2 384.8 598.6 384.8 597.2" fill="none" stroke="#a0a0a0" stroke-width="1.3" stroke-linecap="butt"/>
<path d="M391.0 604.4C391.0 603.3 391.2 598.9 391.2 597.8" fill="none" stroke="#3a3a3a" stroke-width="4.2" stroke-linecap="butt"/><path d="M391.0 604.4C391.0 603.3 391.2 598.9 391.2 597.8" fill="none" stroke="#707070" stroke-width="2.8" stroke-linecap="butt"/><path d="M391.0 604.4C391.0 603.3 391.2 598.9 391.2 597.8" fill="none" stroke="#a0a0a0" stroke-width="1.3" stroke-linecap="butt"/>
<path d="M394.8 605.6C394.9 604.4 395.4 599.5 395.5 598.2" fill="none" stroke="#3a3a3a" stroke-width="4.0" stroke-linecap="butt"/><path d="M394.8 605.6C394.9 604.4 395.4 599.5 395.5 598.2" fill="none" stroke="#707070" stroke-width="2.6" stroke-linecap="butt"/><path d="M394.8 605.6C394.9 604.4 395.4 599.5 395.5 598.2" fill="none" stroke="#a0a0a0" stroke-width="1.2" stroke-linecap="butt"/>
<path d="M377.5 628.1C377.5 625.9 377.2 618.8 377.2 615.0C377.3 611.2 377.8 607.2 377.9 605.6" fill="none" stroke="#5a5a5a" stroke-width="6.2" stroke-linecap="butt"/><path d="M377.5 628.1C377.5 625.9 377.2 618.8 377.2 615.0C377.3 611.2 377.8 607.2 377.9 605.6" fill="none" stroke="#b0b0b0" stroke-width="4.8" stroke-linecap="butt"/><path d="M377.5 628.1C377.5 625.9 377.2 618.8 377.2 615.0C377.3 611.2 377.8 607.2 377.9 605.6" fill="none" stroke="#d8d8d8" stroke-width="2.2" stroke-linecap="butt"/>
<path d="M369.4 616.5C370.5 616.4 375.1 615.8 376.2 615.6" fill="none" stroke="#5a5a5a" stroke-width="4.8" stroke-linecap="butt"/><path d="M369.4 616.5C370.5 616.4 375.1 615.8 376.2 615.6" fill="none" stroke="#b0b0b0" stroke-width="3.4" stroke-linecap="butt"/><path d="M369.4 616.5C370.5 616.4 375.1 615.8 376.2 615.6" fill="none" stroke="#d4d4d4" stroke-width="1.5" stroke-linecap="butt"/>
<path d="M377.9 605.6C378.9 605.4 382.8 604.3 383.8 604.0" fill="none" stroke="#5a5a5a" stroke-width="4.4" stroke-linecap="butt"/><path d="M377.9 605.6C378.9 605.4 382.8 604.3 383.8 604.0" fill="none" stroke="#b0b0b0" stroke-width="3.0" stroke-linecap="butt"/><path d="M377.9 605.6C378.9 605.4 382.8 604.3 383.8 604.0" fill="none" stroke="#d0d0d0" stroke-width="1.4" stroke-linecap="butt"/>
<path d="M365.0 642.5C365.2 639.4 367.1 636.4 368.5 633.8C369.9 631.1 371.4 627.5 373.5 626.5C375.6 625.5 378.9 626.5 381.2 627.5C383.6 628.5 385.0 631.5 387.5 632.5C390.0 633.5 393.8 634.0 396.2 633.8C398.8 633.5 400.6 630.8 402.5 631.0C404.4 631.2 406.2 632.8 407.8 634.8C409.2 636.7 410.5 639.5 411.5 642.5C412.5 645.5 413.4 649.2 414.0 652.5C414.6 655.8 415.4 659.5 415.2 662.5C415.1 665.5 414.2 668.4 413.0 670.2C411.8 672.1 409.9 673.2 407.8 673.5C405.6 673.8 403.0 672.9 400.0 672.1C397.0 671.4 393.1 670.1 390.0 669.0C386.9 667.9 384.0 666.7 381.2 665.2C378.5 663.8 375.8 662.4 373.5 660.2C371.2 658.1 368.7 655.5 367.2 652.5C365.8 649.5 364.8 645.6 365.0 642.5Z" fill="url(#gHeart)" stroke="#3e3e3e" stroke-width="0.7"/>
<path d="M369.0 633.1C370.2 630.6 372.7 628.2 374.8 627.5C376.8 626.8 379.7 627.7 381.2 629.0C382.8 630.3 384.0 633.0 384.0 635.2C384.0 637.5 382.8 640.6 381.5 642.5C380.2 644.4 378.2 645.6 376.5 646.5C374.8 647.4 372.7 648.4 371.2 647.8C369.8 647.1 368.1 644.9 367.8 642.5C367.4 640.1 367.8 635.6 369.0 633.1Z" fill="#d0d0d0" stroke="#5a5a5a" stroke-width="0.5" clip-path="url(#c_hrt)"/>
<g clip-path="url(#c_hrt)" fill="#d8d8d8" fill-opacity="0.35"><ellipse cx="388.9" cy="646.6" rx="1.4" ry="1.3" transform="rotate(-60 388.9 646.6)"/><ellipse cx="382.9" cy="650.4" rx="2.3" ry="0.9" transform="rotate(18 382.9 650.4)"/><ellipse cx="400.1" cy="661.3" rx="1.5" ry="1.4" transform="rotate(-6 400.1 661.3)"/><ellipse cx="374.3" cy="641.1" rx="1.4" ry="1.0" transform="rotate(15 374.3 641.1)"/><ellipse cx="369.9" cy="659.6" rx="2.6" ry="1.3" transform="rotate(-23 369.9 659.6)"/><ellipse cx="376.6" cy="640.5" rx="2.6" ry="1.3" transform="rotate(-26 376.6 640.5)"/><ellipse cx="410.2" cy="647.6" rx="1.8" ry="0.6" transform="rotate(-60 410.2 647.6)"/><ellipse cx="408.6" cy="633.5" rx="1.9" ry="1.0" transform="rotate(-57 408.6 633.5)"/><ellipse cx="378.1" cy="661.6" rx="2.7" ry="1.4" transform="rotate(-60 378.1 661.6)"/><ellipse cx="372.6" cy="655.1" rx="2.8" ry="0.8" transform="rotate(-59 372.6 655.1)"/><ellipse cx="409.3" cy="636.7" rx="2.9" ry="1.0" transform="rotate(13 409.3 636.7)"/><ellipse cx="390.5" cy="669.2" rx="2.0" ry="0.9" transform="rotate(-49 390.5 669.2)"/><ellipse cx="400.2" cy="637.2" rx="2.9" ry="1.2" transform="rotate(-55 400.2 637.2)"/><ellipse cx="369.4" cy="654.1" rx="2.3" ry="0.7" transform="rotate(-26 369.4 654.1)"/><ellipse cx="401.9" cy="655.0" rx="1.3" ry="1.3" transform="rotate(-9 401.9 655.0)"/><ellipse cx="412.0" cy="641.0" rx="2.3" ry="0.6" transform="rotate(-14 412.0 641.0)"/><ellipse cx="407.0" cy="652.8" rx="2.2" ry="1.2" transform="rotate(-16 407.0 652.8)"/><ellipse cx="372.1" cy="667.6" rx="1.9" ry="0.8" transform="rotate(-35 372.1 667.6)"/><ellipse cx="413.7" cy="654.9" rx="1.2" ry="1.2" transform="rotate(-18 413.7 654.9)"/><ellipse cx="366.9" cy="635.9" rx="1.6" ry="0.8" transform="rotate(-49 366.9 635.9)"/><ellipse cx="381.5" cy="643.0" rx="2.1" ry="0.6" transform="rotate(-12 381.5 643.0)"/><ellipse cx="404.0" cy="664.6" rx="2.1" ry="1.2" transform="rotate(-29 404.0 664.6)"/></g>
<g clip-path="url(#c_hrt)" fill="#4a4a4a" fill-opacity="0.3"><ellipse cx="393.8" cy="634.0" rx="2.4" ry="0.7" transform="rotate(-9 393.8 634.0)"/><ellipse cx="391.1" cy="670.7" rx="2.2" ry="0.7" transform="rotate(-23 391.1 670.7)"/><ellipse cx="375.0" cy="666.0" rx="1.7" ry="0.6" transform="rotate(-38 375.0 666.0)"/><ellipse cx="379.4" cy="638.0" rx="1.4" ry="0.7" transform="rotate(-54 379.4 638.0)"/><ellipse cx="369.8" cy="639.9" rx="1.9" ry="1.1" transform="rotate(-15 369.8 639.9)"/><ellipse cx="380.4" cy="651.1" rx="1.7" ry="1.4" transform="rotate(11 380.4 651.1)"/><ellipse cx="380.9" cy="636.1" rx="2.0" ry="0.7" transform="rotate(11 380.9 636.1)"/><ellipse cx="403.2" cy="647.0" rx="2.8" ry="0.7" transform="rotate(-25 403.2 647.0)"/><ellipse cx="403.5" cy="667.6" rx="2.1" ry="0.7" transform="rotate(-54 403.5 667.6)"/><ellipse cx="380.0" cy="636.5" rx="2.6" ry="1.3" transform="rotate(-40 380.0 636.5)"/><ellipse cx="403.9" cy="640.4" rx="1.2" ry="0.7" transform="rotate(-2 403.9 640.4)"/><ellipse cx="395.0" cy="653.8" rx="1.3" ry="1.0" transform="rotate(15 395.0 653.8)"/><ellipse cx="411.8" cy="653.3" rx="2.9" ry="0.6" transform="rotate(14 411.8 653.3)"/><ellipse cx="409.1" cy="653.7" rx="2.1" ry="1.0" transform="rotate(-52 409.1 653.7)"/><ellipse cx="408.6" cy="654.9" rx="2.9" ry="0.7" transform="rotate(-32 408.6 654.9)"/><ellipse cx="401.1" cy="635.5" rx="2.5" ry="1.0" transform="rotate(2 401.1 635.5)"/><ellipse cx="409.1" cy="661.3" rx="2.4" ry="0.6" transform="rotate(-29 409.1 661.3)"/><ellipse cx="408.6" cy="640.8" rx="2.7" ry="1.2" transform="rotate(19 408.6 640.8)"/><ellipse cx="390.4" cy="641.3" rx="2.3" ry="0.7" transform="rotate(-54 390.4 641.3)"/><ellipse cx="399.1" cy="648.0" rx="1.3" ry="0.8" transform="rotate(17 399.1 648.0)"/><ellipse cx="402.6" cy="634.7" rx="1.3" ry="1.1" transform="rotate(10 402.6 634.7)"/><ellipse cx="392.3" cy="632.3" rx="2.6" ry="0.9" transform="rotate(-19 392.3 632.3)"/><ellipse cx="367.3" cy="670.6" rx="2.3" ry="1.4" transform="rotate(1 367.3 670.6)"/><ellipse cx="406.4" cy="635.6" rx="1.8" ry="0.8" transform="rotate(-44 406.4 635.6)"/></g>
<g clip-path="url(#c_hrt)" fill="none" stroke="#444" stroke-width="0.9" stroke-linecap="round"><path d="M383.8 635.0C383.3 636.2 382.5 640.4 381.2 642.5C380.0 644.6 378.1 645.8 376.2 647.5C374.4 649.2 371.2 650.8 370.0 652.5C368.8 654.2 369.0 656.7 368.8 657.5"/><path d="M376.2 647.5C377.1 648.3 379.4 650.8 381.2 652.5C383.1 654.2 385.4 655.6 387.5 657.5C389.6 659.4 391.9 661.7 393.8 663.8C395.6 665.8 397.9 669.0 398.8 670.0"/><path d="M387.5 632.5C387.7 633.8 387.7 637.9 388.8 640.0C389.8 642.1 392.1 643.5 393.8 645.0C395.4 646.5 396.9 646.7 398.8 648.8C400.6 650.8 403.1 654.8 405.0 657.5C406.9 660.2 409.2 663.8 410.0 665.0"/><path d="M398.8 637.5C399.4 638.3 401.0 641.0 402.5 642.5C404.0 644.0 405.9 645.2 407.5 646.2C409.1 647.3 411.1 648.3 411.9 648.8"/><path d="M381.2 652.5C380.6 653.3 378.3 655.8 377.5 657.5C376.7 659.2 376.5 661.7 376.2 662.5"/><path d="M393.8 645.0C393.3 646.2 391.0 650.2 391.2 652.5C391.5 654.8 393.1 656.7 395.0 658.8C396.9 660.8 401.2 664.0 402.5 665.0"/><path d="M400.0 652.5C400.8 652.9 403.3 654.6 405.0 655.0C406.7 655.4 409.2 655.0 410.0 655.0"/><path d="M371.2 640.0C371.7 640.6 373.5 642.3 373.8 643.8C374.0 645.2 372.7 647.9 372.5 648.8"/><path d="M405.0 657.5C404.6 658.3 402.5 660.4 402.5 662.5C402.5 664.6 404.6 668.8 405.0 670.0"/><path d="M387.5 657.5C386.9 658.1 384.6 660.0 383.8 661.2C382.9 662.5 382.7 664.4 382.5 665.0"/></g>
<g clip-path="url(#c_hrt)" fill="#343434"><ellipse cx="389.4" cy="640.0" rx="2.1" ry="0.8" transform="rotate(-25 389.4 640.0)"/><ellipse cx="392.5" cy="638.1" rx="1.9" ry="0.8" transform="rotate(-25 392.5 638.1)"/><ellipse cx="386.9" cy="645.0" rx="2.1" ry="0.8" transform="rotate(-25 386.9 645.0)"/><ellipse cx="396.2" cy="648.8" rx="1.7" ry="0.8" transform="rotate(-25 396.2 648.8)"/><ellipse cx="393.1" cy="656.2" rx="2.1" ry="1.1" transform="rotate(-25 393.1 656.2)"/><ellipse cx="400.0" cy="660.0" rx="1.7" ry="0.8" transform="rotate(-25 400.0 660.0)"/><ellipse cx="383.8" cy="655.0" rx="1.5" ry="0.6" transform="rotate(-25 383.8 655.0)"/><ellipse cx="405.0" cy="666.2" rx="1.7" ry="0.8" transform="rotate(-25 405.0 666.2)"/><ellipse cx="377.5" cy="655.0" rx="1.3" ry="0.6" transform="rotate(-25 377.5 655.0)"/><ellipse cx="407.5" cy="650.0" rx="1.5" ry="0.6" transform="rotate(-25 407.5 650.0)"/><ellipse cx="390.0" cy="642.5" rx="1.7" ry="0.6" transform="rotate(-25 390.0 642.5)"/><ellipse cx="397.5" cy="643.8" rx="1.5" ry="0.6" transform="rotate(-25 397.5 643.8)"/></g>
<path d="M383.1 628.1C382.8 626.7 381.0 622.3 381.0 619.4C381.0 616.5 381.6 612.9 383.1 610.6C384.6 608.4 387.8 606.5 390.0 606.0C392.2 605.5 395.0 606.6 396.5 607.8C398.0 608.9 398.6 612.2 399.0 613.1" fill="none" stroke="#2e2e2e" stroke-width="9.2" stroke-linecap="butt"/><path d="M383.1 628.1C382.8 626.7 381.0 622.3 381.0 619.4C381.0 616.5 381.6 612.9 383.1 610.6C384.6 608.4 387.8 606.5 390.0 606.0C392.2 605.5 395.0 606.6 396.5 607.8C398.0 608.9 398.6 612.2 399.0 613.1" fill="none" stroke="#585858" stroke-width="8.2" stroke-linecap="butt"/><path d="M383.1 628.1C382.8 626.7 381.0 622.3 381.0 619.4C381.0 616.5 381.6 612.9 383.1 610.6C384.6 608.4 387.8 606.5 390.0 606.0C392.2 605.5 395.0 606.6 396.5 607.8C398.0 608.9 398.6 612.2 399.0 613.1" fill="none" stroke="#868686" stroke-width="3.7" stroke-linecap="butt"/>
<path d="M393.5 633.8C393.3 632.4 392.8 628.2 392.5 625.6C392.2 623.0 391.9 619.4 391.8 618.1" fill="none" stroke="#3e3e3e" stroke-width="10.0" stroke-linecap="butt"/><path d="M393.5 633.8C393.3 632.4 392.8 628.2 392.5 625.6C392.2 623.0 391.9 619.4 391.8 618.1" fill="none" stroke="#8a8a8a" stroke-width="9.0" stroke-linecap="butt"/><path d="M393.5 633.8C393.3 632.4 392.8 628.2 392.5 625.6C392.2 623.0 391.9 619.4 391.8 618.1" fill="none" stroke="#bcbcbc" stroke-width="4.0" stroke-linecap="butt"/>
<path d="M390.2 618.2C391.3 617.7 394.0 615.9 396.5 615.0C399.0 614.1 403.8 613.1 405.2 612.8" fill="none" stroke="#4a4a4a" stroke-width="6.8" stroke-linecap="butt"/><path d="M390.2 618.2C391.3 617.7 394.0 615.9 396.5 615.0C399.0 614.1 403.8 613.1 405.2 612.8" fill="none" stroke="#9c9c9c" stroke-width="5.8" stroke-linecap="butt"/><path d="M390.2 618.2C391.3 617.7 394.0 615.9 396.5 615.0C399.0 614.1 403.8 613.1 405.2 612.8" fill="none" stroke="#cfcfcf" stroke-width="2.6" stroke-linecap="butt"/>
<circle cx="259.4" cy="579.4" r="37.5" fill="#fff" stroke="#0c0c0c" stroke-width="3.8"/>
<clipPath id="c_adr"><path d="M271.5 540.6C274.4 539.7 276.7 538.9 279.0 539.4C281.3 539.9 283.6 541.8 285.2 543.8C286.9 545.7 287.5 548.8 289.0 551.2C290.5 553.8 292.8 556.5 294.0 558.8C295.2 561.0 297.3 563.5 296.5 565.0C295.7 566.5 291.3 566.7 289.0 567.5C286.7 568.3 284.6 568.8 282.8 570.0C280.9 571.2 279.6 573.3 277.8 575.0C275.9 576.7 273.8 578.5 271.5 580.0C269.2 581.5 266.1 582.3 264.0 583.8C261.9 585.2 260.2 586.5 259.0 588.8C257.8 591.0 257.0 594.6 256.5 597.5C256.0 600.4 256.7 604.7 255.9 606.2C255.0 607.8 253.3 607.3 251.5 606.9C249.7 606.5 247.1 605.5 245.2 603.8C243.4 602.0 241.5 599.2 240.2 596.2C239.0 593.3 238.2 589.6 237.8 586.2C237.3 582.9 237.3 579.6 237.8 576.2C238.2 572.9 238.8 569.2 240.2 566.2C241.7 563.3 244.4 561.2 246.5 558.8C248.6 556.2 250.2 553.5 252.8 551.2C255.2 549.0 258.4 546.8 261.5 545.0C264.6 543.2 268.6 541.6 271.5 540.6Z"/></clipPath>
<path d="M271.5 540.6C274.4 539.7 276.7 538.9 279.0 539.4C281.3 539.9 283.6 541.8 285.2 543.8C286.9 545.7 287.5 548.8 289.0 551.2C290.5 553.8 292.8 556.5 294.0 558.8C295.2 561.0 297.3 563.5 296.5 565.0C295.7 566.5 291.3 566.7 289.0 567.5C286.7 568.3 284.6 568.8 282.8 570.0C280.9 571.2 279.6 573.3 277.8 575.0C275.9 576.7 273.8 578.5 271.5 580.0C269.2 581.5 266.1 582.3 264.0 583.8C261.9 585.2 260.2 586.5 259.0 588.8C257.8 591.0 257.0 594.6 256.5 597.5C256.0 600.4 256.7 604.7 255.9 606.2C255.0 607.8 253.3 607.3 251.5 606.9C249.7 606.5 247.1 605.5 245.2 603.8C243.4 602.0 241.5 599.2 240.2 596.2C239.0 593.3 238.2 589.6 237.8 586.2C237.3 582.9 237.3 579.6 237.8 576.2C238.2 572.9 238.8 569.2 240.2 566.2C241.7 563.3 244.4 561.2 246.5 558.8C248.6 556.2 250.2 553.5 252.8 551.2C255.2 549.0 258.4 546.8 261.5 545.0C264.6 543.2 268.6 541.6 271.5 540.6Z" fill="#d8d8d8"/>
<g clip-path="url(#c_adr)" fill="url(#gLumpD)" stroke="#a0a0a0" stroke-opacity="0.50" stroke-width="0.45"><ellipse cx="271.5" cy="569.2" rx="4.9" ry="4.2" transform="rotate(1 271.5 569.2)"/><ellipse cx="235.0" cy="593.4" rx="4.7" ry="3.8" transform="rotate(47 235.0 593.4)"/><ellipse cx="247.8" cy="592.1" rx="4.7" ry="3.5" transform="rotate(136 247.8 592.1)"/><ellipse cx="237.5" cy="572.6" rx="4.3" ry="3.7" transform="rotate(179 237.5 572.6)"/><ellipse cx="249.8" cy="564.3" rx="3.6" ry="3.3" transform="rotate(87 249.8 564.3)"/><ellipse cx="261.4" cy="596.6" rx="4.2" ry="3.6" transform="rotate(77 261.4 596.6)"/><ellipse cx="297.7" cy="582.5" rx="3.2" ry="3.2" transform="rotate(25 297.7 582.5)"/><ellipse cx="291.7" cy="605.2" rx="3.9" ry="3.3" transform="rotate(116 291.7 605.2)"/><ellipse cx="297.9" cy="569.4" rx="4.5" ry="4.0" transform="rotate(79 297.9 569.4)"/><ellipse cx="267.4" cy="597.1" rx="3.6" ry="3.5" transform="rotate(161 267.4 597.1)"/><ellipse cx="292.3" cy="588.2" rx="4.7" ry="4.4" transform="rotate(162 292.3 588.2)"/><ellipse cx="299.3" cy="564.1" rx="4.5" ry="3.7" transform="rotate(27 299.3 564.1)"/><ellipse cx="255.2" cy="590.5" rx="3.2" ry="2.6" transform="rotate(124 255.2 590.5)"/><ellipse cx="249.5" cy="597.9" rx="3.7" ry="3.7" transform="rotate(82 249.5 597.9)"/><ellipse cx="265.3" cy="571.9" rx="3.6" ry="2.6" transform="rotate(28 265.3 571.9)"/><ellipse cx="297.9" cy="546.0" rx="3.5" ry="3.0" transform="rotate(30 297.9 546.0)"/><ellipse cx="272.4" cy="559.9" rx="4.4" ry="3.9" transform="rotate(22 272.4 559.9)"/><ellipse cx="266.2" cy="580.2" rx="3.4" ry="3.1" transform="rotate(37 266.2 580.2)"/><ellipse cx="276.5" cy="534.2" rx="3.2" ry="3.0" transform="rotate(39 276.5 534.2)"/><ellipse cx="249.9" cy="562.1" rx="4.2" ry="3.3" transform="rotate(77 249.9 562.1)"/><ellipse cx="239.2" cy="567.9" rx="4.6" ry="4.5" transform="rotate(125 239.2 567.9)"/><ellipse cx="270.0" cy="564.4" rx="4.7" ry="3.9" transform="rotate(172 270.0 564.4)"/><ellipse cx="279.8" cy="539.3" rx="4.7" ry="4.2" transform="rotate(159 279.8 539.3)"/><ellipse cx="259.6" cy="549.0" rx="4.0" ry="3.5" transform="rotate(8 259.6 549.0)"/><ellipse cx="232.7" cy="595.3" rx="3.9" ry="3.7" transform="rotate(86 232.7 595.3)"/><ellipse cx="281.2" cy="564.8" rx="3.3" ry="2.9" transform="rotate(140 281.2 564.8)"/><ellipse cx="277.8" cy="570.3" rx="3.7" ry="3.1" transform="rotate(47 277.8 570.3)"/><ellipse cx="279.3" cy="606.8" rx="4.7" ry="3.8" transform="rotate(66 279.3 606.8)"/><ellipse cx="264.5" cy="551.9" rx="4.1" ry="3.2" transform="rotate(164 264.5 551.9)"/><ellipse cx="239.1" cy="595.7" rx="3.7" ry="2.8" transform="rotate(105 239.1 595.7)"/><ellipse cx="297.1" cy="534.6" rx="4.1" ry="3.9" transform="rotate(24 297.1 534.6)"/><ellipse cx="285.5" cy="595.8" rx="4.5" ry="3.6" transform="rotate(70 285.5 595.8)"/><ellipse cx="274.3" cy="605.0" rx="3.7" ry="3.4" transform="rotate(163 274.3 605.0)"/><ellipse cx="237.8" cy="603.1" rx="3.3" ry="3.1" transform="rotate(148 237.8 603.1)"/><ellipse cx="261.6" cy="606.9" rx="4.1" ry="3.1" transform="rotate(175 261.6 606.9)"/><ellipse cx="262.3" cy="590.8" rx="3.6" ry="3.5" transform="rotate(130 262.3 590.8)"/><ellipse cx="271.4" cy="584.3" rx="3.3" ry="2.9" transform="rotate(109 271.4 584.3)"/><ellipse cx="259.2" cy="597.5" rx="4.0" ry="3.7" transform="rotate(3 259.2 597.5)"/><ellipse cx="292.1" cy="542.0" rx="4.1" ry="3.1" transform="rotate(39 292.1 542.0)"/><ellipse cx="251.6" cy="576.4" rx="3.5" ry="3.5" transform="rotate(2 251.6 576.4)"/><ellipse cx="280.1" cy="533.4" rx="4.6" ry="4.4" transform="rotate(173 280.1 533.4)"/><ellipse cx="276.1" cy="595.5" rx="3.6" ry="3.0" transform="rotate(152 276.1 595.5)"/><ellipse cx="240.2" cy="535.2" rx="3.5" ry="3.2" transform="rotate(161 240.2 535.2)"/><ellipse cx="299.6" cy="575.9" rx="3.5" ry="2.9" transform="rotate(25 299.6 575.9)"/><ellipse cx="295.8" cy="592.0" rx="3.9" ry="3.8" transform="rotate(117 295.8 592.0)"/><ellipse cx="285.9" cy="570.2" rx="3.7" ry="3.5" transform="rotate(125 285.9 570.2)"/><ellipse cx="236.9" cy="551.1" rx="4.5" ry="3.4" transform="rotate(10 236.9 551.1)"/><ellipse cx="278.8" cy="583.2" rx="4.5" ry="3.6" transform="rotate(100 278.8 583.2)"/><ellipse cx="298.5" cy="595.1" rx="4.7" ry="4.4" transform="rotate(129 298.5 595.1)"/><ellipse cx="282.1" cy="547.6" rx="3.3" ry="2.9" transform="rotate(164 282.1 547.6)"/><ellipse cx="236.6" cy="538.8" rx="3.6" ry="3.6" transform="rotate(138 236.6 538.8)"/><ellipse cx="271.4" cy="545.0" rx="3.6" ry="2.7" transform="rotate(4 271.4 545.0)"/><ellipse cx="241.2" cy="549.2" rx="3.6" ry="3.0" transform="rotate(34 241.2 549.2)"/><ellipse cx="271.0" cy="538.5" rx="4.4" ry="4.0" transform="rotate(38 271.0 538.5)"/><ellipse cx="234.1" cy="576.2" rx="3.5" ry="3.4" transform="rotate(68 234.1 576.2)"/><ellipse cx="279.0" cy="551.3" rx="4.9" ry="4.6" transform="rotate(93 279.0 551.3)"/><ellipse cx="287.9" cy="607.5" rx="3.3" ry="3.0" transform="rotate(135 287.9 607.5)"/><ellipse cx="232.3" cy="536.1" rx="3.5" ry="2.6" transform="rotate(85 232.3 536.1)"/><ellipse cx="244.2" cy="598.5" rx="3.3" ry="2.7" transform="rotate(31 244.2 598.5)"/><ellipse cx="246.9" cy="544.3" rx="4.2" ry="3.8" transform="rotate(157 246.9 544.3)"/><ellipse cx="289.2" cy="536.3" rx="3.7" ry="3.5" transform="rotate(171 289.2 536.3)"/><ellipse cx="293.6" cy="574.2" rx="4.2" ry="3.4" transform="rotate(0 293.6 574.2)"/><ellipse cx="264.7" cy="588.3" rx="3.9" ry="3.7" transform="rotate(157 264.7 588.3)"/><ellipse cx="246.4" cy="587.2" rx="4.0" ry="3.9" transform="rotate(158 246.4 587.2)"/><ellipse cx="265.7" cy="540.3" rx="3.7" ry="3.0" transform="rotate(95 265.7 540.3)"/><ellipse cx="253.8" cy="551.0" rx="4.4" ry="3.9" transform="rotate(36 253.8 551.0)"/><ellipse cx="259.1" cy="605.1" rx="3.5" ry="2.6" transform="rotate(142 259.1 605.1)"/><ellipse cx="285.8" cy="552.5" rx="3.5" ry="3.5" transform="rotate(7 285.8 552.5)"/><ellipse cx="242.7" cy="599.9" rx="4.6" ry="4.2" transform="rotate(90 242.7 599.9)"/><ellipse cx="279.4" cy="577.5" rx="3.3" ry="2.4" transform="rotate(58 279.4 577.5)"/><ellipse cx="236.7" cy="561.8" rx="4.4" ry="3.5" transform="rotate(23 236.7 561.8)"/><ellipse cx="287.4" cy="584.7" rx="3.8" ry="3.5" transform="rotate(109 287.4 584.7)"/><ellipse cx="276.5" cy="603.4" rx="3.6" ry="2.7" transform="rotate(131 276.5 603.4)"/><ellipse cx="293.3" cy="546.5" rx="3.9" ry="3.2" transform="rotate(130 293.3 546.5)"/><ellipse cx="256.0" cy="561.3" rx="3.9" ry="3.7" transform="rotate(53 256.0 561.3)"/><ellipse cx="260.1" cy="561.2" rx="4.9" ry="3.6" transform="rotate(53 260.1 561.2)"/><ellipse cx="279.2" cy="596.8" rx="3.6" ry="3.4" transform="rotate(138 279.2 596.8)"/><ellipse cx="247.1" cy="554.3" rx="3.5" ry="3.5" transform="rotate(111 247.1 554.3)"/><ellipse cx="292.9" cy="598.3" rx="4.8" ry="4.1" transform="rotate(128 292.9 598.3)"/><ellipse cx="234.0" cy="546.5" rx="4.9" ry="3.8" transform="rotate(129 234.0 546.5)"/><ellipse cx="287.1" cy="545.5" rx="4.0" ry="2.9" transform="rotate(68 287.1 545.5)"/><ellipse cx="265.4" cy="575.6" rx="4.1" ry="4.0" transform="rotate(99 265.4 575.6)"/><ellipse cx="238.0" cy="545.4" rx="4.8" ry="4.7" transform="rotate(147 238.0 545.4)"/><ellipse cx="267.8" cy="560.0" rx="4.8" ry="4.3" transform="rotate(1 267.8 560.0)"/><ellipse cx="240.6" cy="559.6" rx="4.6" ry="4.6" transform="rotate(93 240.6 559.6)"/><ellipse cx="243.7" cy="572.3" rx="4.5" ry="3.2" transform="rotate(159 243.7 572.3)"/><ellipse cx="285.8" cy="564.6" rx="4.8" ry="4.8" transform="rotate(172 285.8 564.6)"/><ellipse cx="246.6" cy="581.0" rx="3.4" ry="2.8" transform="rotate(177 246.6 581.0)"/><ellipse cx="252.6" cy="572.2" rx="4.8" ry="4.5" transform="rotate(87 252.6 572.2)"/><ellipse cx="257.0" cy="586.9" rx="3.7" ry="3.2" transform="rotate(115 257.0 586.9)"/><ellipse cx="270.1" cy="605.6" rx="4.9" ry="4.0" transform="rotate(166 270.1 605.6)"/><ellipse cx="252.9" cy="542.2" rx="3.5" ry="3.4" transform="rotate(117 252.9 542.2)"/><ellipse cx="247.9" cy="552.4" rx="4.2" ry="3.9" transform="rotate(70 247.9 552.4)"/><ellipse cx="279.4" cy="558.8" rx="4.5" ry="3.7" transform="rotate(91 279.4 558.8)"/><ellipse cx="239.1" cy="554.7" rx="4.8" ry="4.4" transform="rotate(159 239.1 554.7)"/><ellipse cx="285.0" cy="562.7" rx="4.0" ry="3.4" transform="rotate(92 285.0 562.7)"/><ellipse cx="296.7" cy="562.3" rx="3.6" ry="3.2" transform="rotate(50 296.7 562.3)"/><ellipse cx="257.1" cy="544.9" rx="3.6" ry="3.1" transform="rotate(57 257.1 544.9)"/><ellipse cx="244.4" cy="539.8" rx="4.3" ry="3.6" transform="rotate(75 244.4 539.8)"/><ellipse cx="288.2" cy="576.0" rx="3.6" ry="3.5" transform="rotate(156 288.2 576.0)"/><ellipse cx="253.2" cy="547.1" rx="3.6" ry="2.7" transform="rotate(97 253.2 547.1)"/><ellipse cx="297.4" cy="602.2" rx="4.9" ry="3.8" transform="rotate(169 297.4 602.2)"/><ellipse cx="247.2" cy="601.3" rx="3.5" ry="3.4" transform="rotate(86 247.2 601.3)"/><ellipse cx="253.4" cy="582.1" rx="4.3" ry="3.4" transform="rotate(90 253.4 582.1)"/><ellipse cx="283.3" cy="591.0" rx="3.4" ry="3.0" transform="rotate(145 283.3 591.0)"/><ellipse cx="261.9" cy="567.5" rx="4.8" ry="4.6" transform="rotate(101 261.9 567.5)"/><ellipse cx="250.6" cy="607.4" rx="3.3" ry="3.3" transform="rotate(30 250.6 607.4)"/><ellipse cx="252.8" cy="535.3" rx="3.2" ry="3.0" transform="rotate(91 252.8 535.3)"/><ellipse cx="260.2" cy="540.6" rx="4.6" ry="4.2" transform="rotate(115 260.2 540.6)"/><ellipse cx="265.3" cy="593.0" rx="4.5" ry="4.5" transform="rotate(152 265.3 593.0)"/><ellipse cx="280.8" cy="584.9" rx="3.9" ry="3.5" transform="rotate(32 280.8 584.9)"/><ellipse cx="271.8" cy="581.2" rx="3.5" ry="3.3" transform="rotate(174 271.8 581.2)"/><ellipse cx="300.8" cy="607.0" rx="4.0" ry="3.8" transform="rotate(118 300.8 607.0)"/><ellipse cx="259.1" cy="571.9" rx="3.7" ry="3.4" transform="rotate(119 259.1 571.9)"/><ellipse cx="234.0" cy="564.9" rx="3.9" ry="3.1" transform="rotate(131 234.0 564.9)"/><ellipse cx="298.0" cy="551.0" rx="3.6" ry="3.3" transform="rotate(45 298.0 551.0)"/><ellipse cx="297.1" cy="541.5" rx="4.9" ry="4.3" transform="rotate(92 297.1 541.5)"/><ellipse cx="275.4" cy="565.2" rx="3.7" ry="2.8" transform="rotate(161 275.4 565.2)"/><ellipse cx="264.8" cy="553.9" rx="4.8" ry="3.6" transform="rotate(117 264.8 553.9)"/><ellipse cx="273.3" cy="543.8" rx="4.8" ry="3.7" transform="rotate(104 273.3 543.8)"/><ellipse cx="240.8" cy="606.2" rx="3.8" ry="3.3" transform="rotate(165 240.8 606.2)"/><ellipse cx="240.3" cy="587.9" rx="4.3" ry="3.1" transform="rotate(9 240.3 587.9)"/><ellipse cx="270.9" cy="592.3" rx="4.4" ry="4.2" transform="rotate(102 270.9 592.3)"/><ellipse cx="261.7" cy="603.2" rx="3.5" ry="3.5" transform="rotate(67 261.7 603.2)"/><ellipse cx="282.5" cy="581.2" rx="3.7" ry="3.5" transform="rotate(176 282.5 581.2)"/><ellipse cx="268.6" cy="578.2" rx="3.5" ry="3.4" transform="rotate(68 268.6 578.2)"/><ellipse cx="270.3" cy="602.1" rx="4.3" ry="3.3" transform="rotate(144 270.3 602.1)"/><ellipse cx="234.2" cy="587.5" rx="3.9" ry="2.9" transform="rotate(120 234.2 587.5)"/><ellipse cx="255.5" cy="565.7" rx="4.4" ry="4.2" transform="rotate(17 255.5 565.7)"/><ellipse cx="298.0" cy="557.6" rx="5.0" ry="3.6" transform="rotate(173 298.0 557.6)"/><ellipse cx="268.3" cy="554.9" rx="4.6" ry="3.8" transform="rotate(72 268.3 554.9)"/><ellipse cx="242.2" cy="580.1" rx="4.5" ry="3.6" transform="rotate(146 242.2 580.1)"/><ellipse cx="244.6" cy="606.2" rx="4.8" ry="3.6" transform="rotate(137 244.6 606.2)"/><ellipse cx="235.2" cy="555.7" rx="4.8" ry="4.3" transform="rotate(26 235.2 555.7)"/><ellipse cx="254.7" cy="600.6" rx="4.1" ry="3.1" transform="rotate(151 254.7 600.6)"/><ellipse cx="255.6" cy="577.5" rx="4.0" ry="3.4" transform="rotate(81 255.6 577.5)"/><ellipse cx="269.7" cy="533.5" rx="4.1" ry="3.2" transform="rotate(111 269.7 533.5)"/><ellipse cx="288.1" cy="561.2" rx="3.3" ry="2.6" transform="rotate(163 288.1 561.2)"/><ellipse cx="285.2" cy="602.8" rx="4.6" ry="4.3" transform="rotate(103 285.2 602.8)"/><ellipse cx="234.2" cy="606.7" rx="3.6" ry="2.9" transform="rotate(103 234.2 606.7)"/><ellipse cx="244.4" cy="536.5" rx="4.2" ry="3.3" transform="rotate(169 244.4 536.5)"/><ellipse cx="240.6" cy="578.1" rx="4.5" ry="3.8" transform="rotate(160 240.6 578.1)"/><ellipse cx="250.4" cy="588.1" rx="4.8" ry="4.6" transform="rotate(145 250.4 588.1)"/><ellipse cx="274.9" cy="554.4" rx="3.8" ry="3.6" transform="rotate(51 274.9 554.4)"/><ellipse cx="273.6" cy="574.4" rx="4.7" ry="4.3" transform="rotate(4 273.6 574.4)"/><ellipse cx="292.6" cy="566.8" rx="4.3" ry="4.3" transform="rotate(12 292.6 566.8)"/><ellipse cx="263.2" cy="545.0" rx="3.4" ry="2.9" transform="rotate(117 263.2 545.0)"/><ellipse cx="288.8" cy="599.9" rx="3.8" ry="3.6" transform="rotate(76 288.8 599.9)"/><ellipse cx="288.8" cy="557.7" rx="3.9" ry="3.4" transform="rotate(13 288.8 557.7)"/><ellipse cx="247.1" cy="541.7" rx="4.7" ry="3.6" transform="rotate(134 247.1 541.7)"/><ellipse cx="247.2" cy="564.4" rx="3.3" ry="2.8" transform="rotate(72 247.2 564.4)"/><ellipse cx="257.5" cy="534.2" rx="4.2" ry="4.1" transform="rotate(71 257.5 534.2)"/><ellipse cx="290.1" cy="582.2" rx="3.4" ry="2.9" transform="rotate(162 290.1 582.2)"/><ellipse cx="273.4" cy="550.1" rx="3.4" ry="3.0" transform="rotate(170 273.4 550.1)"/><ellipse cx="274.5" cy="585.6" rx="4.5" ry="4.4" transform="rotate(34 274.5 585.6)"/><ellipse cx="300.1" cy="586.2" rx="4.6" ry="3.6" transform="rotate(147 300.1 586.2)"/><ellipse cx="244.7" cy="577.0" rx="3.2" ry="2.9" transform="rotate(36 244.7 577.0)"/><ellipse cx="261.3" cy="534.7" rx="3.8" ry="3.2" transform="rotate(125 261.3 534.7)"/><ellipse cx="289.7" cy="552.6" rx="3.6" ry="2.7" transform="rotate(72 289.7 552.6)"/><ellipse cx="292.0" cy="591.4" rx="4.7" ry="4.5" transform="rotate(164 292.0 591.4)"/><ellipse cx="268.1" cy="603.3" rx="4.8" ry="4.5" transform="rotate(6 268.1 603.3)"/><ellipse cx="290.1" cy="571.3" rx="4.6" ry="4.4" transform="rotate(165 290.1 571.3)"/><ellipse cx="294.7" cy="535.8" rx="4.6" ry="3.9" transform="rotate(11 294.7 535.8)"/><ellipse cx="243.4" cy="590.3" rx="5.0" ry="4.6" transform="rotate(49 243.4 590.3)"/><ellipse cx="279.4" cy="555.1" rx="3.2" ry="3.1" transform="rotate(5 279.4 555.1)"/><ellipse cx="294.1" cy="555.6" rx="4.1" ry="4.0" transform="rotate(69 294.1 555.6)"/><ellipse cx="246.5" cy="570.9" rx="4.9" ry="4.2" transform="rotate(136 246.5 570.9)"/><ellipse cx="285.3" cy="539.2" rx="3.3" ry="3.2" transform="rotate(146 285.3 539.2)"/><ellipse cx="261.7" cy="582.2" rx="4.4" ry="3.5" transform="rotate(57 261.7 582.2)"/><ellipse cx="277.0" cy="591.9" rx="3.5" ry="2.6" transform="rotate(172 277.0 591.9)"/><ellipse cx="249.7" cy="557.0" rx="4.8" ry="4.2" transform="rotate(149 249.7 557.0)"/><ellipse cx="258.6" cy="555.7" rx="4.1" ry="3.2" transform="rotate(110 258.6 555.7)"/><ellipse cx="236.7" cy="580.8" rx="3.6" ry="2.6" transform="rotate(14 236.7 580.8)"/></g>
<path d="M271.5 540.6C274.4 539.7 276.7 538.9 279.0 539.4C281.3 539.9 283.6 541.8 285.2 543.8C286.9 545.7 287.5 548.8 289.0 551.2C290.5 553.8 292.8 556.5 294.0 558.8C295.2 561.0 297.3 563.5 296.5 565.0C295.7 566.5 291.3 566.7 289.0 567.5C286.7 568.3 284.6 568.8 282.8 570.0C280.9 571.2 279.6 573.3 277.8 575.0C275.9 576.7 273.8 578.5 271.5 580.0C269.2 581.5 266.1 582.3 264.0 583.8C261.9 585.2 260.2 586.5 259.0 588.8C257.8 591.0 257.0 594.6 256.5 597.5C256.0 600.4 256.7 604.7 255.9 606.2C255.0 607.8 253.3 607.3 251.5 606.9C249.7 606.5 247.1 605.5 245.2 603.8C243.4 602.0 241.5 599.2 240.2 596.2C239.0 593.3 238.2 589.6 237.8 586.2C237.3 582.9 237.3 579.6 237.8 576.2C238.2 572.9 238.8 569.2 240.2 566.2C241.7 563.3 244.4 561.2 246.5 558.8C248.6 556.2 250.2 553.5 252.8 551.2C255.2 549.0 258.4 546.8 261.5 545.0C264.6 543.2 268.6 541.6 271.5 540.6Z" fill="none" stroke="#777" stroke-width="0.7"/>
<path d="M284.0 548.8C281.1 547.9 277.1 551.0 274.0 552.5C270.9 554.0 267.8 555.6 265.2 557.5C262.8 559.4 261.3 561.5 259.0 563.8C256.7 566.0 253.3 569.0 251.5 571.2C249.7 573.5 249.0 575.0 248.4 577.5C247.8 580.0 247.4 583.3 247.8 586.2C248.1 589.2 249.4 592.3 250.2 595.0C251.1 597.7 251.9 600.8 252.8 602.5C253.6 604.2 254.9 605.8 255.5 605.0C256.1 604.2 255.9 600.2 256.5 597.5C257.1 594.8 257.8 591.0 259.0 588.8C260.2 586.5 261.9 585.2 264.0 583.8C266.1 582.3 269.2 581.5 271.5 580.0C273.8 578.5 275.9 576.7 277.8 575.0C279.6 573.3 280.9 571.2 282.8 570.0C284.6 568.8 286.9 568.3 289.0 567.5C291.1 566.7 294.8 566.7 295.2 565.0C295.7 563.3 293.4 560.2 291.5 557.5C289.6 554.8 286.9 549.6 284.0 548.8Z" fill="url(#gAdr)" fill-opacity="0.75" clip-path="url(#c_adr)"/>
<path d="M284.0 548.8C282.3 549.4 277.1 551.0 274.0 552.5C270.9 554.0 267.8 555.6 265.2 557.5C262.8 559.4 261.3 561.5 259.0 563.8C256.7 566.0 253.3 569.0 251.5 571.2C249.7 573.5 249.0 575.0 248.4 577.5C247.8 580.0 247.4 583.3 247.8 586.2C248.1 589.2 249.4 592.3 250.2 595.0C251.1 597.7 252.3 601.2 252.8 602.5" fill="none" stroke="#777" stroke-width="0.6"/>
<g fill="none" stroke="#9a9a9a" stroke-width="0.45"><path d="M262.8 567.5C263.6 567.3 266.3 565.8 267.8 566.2C269.2 566.7 271.3 568.5 271.5 570.0C271.7 571.5 269.4 574.2 269.0 575.0"/><path d="M274.0 561.2C274.8 561.5 277.8 561.5 279.0 562.5C280.2 563.5 281.1 566.7 281.5 567.5"/><path d="M255.2 580.0C256.1 579.8 259.0 578.3 260.2 578.8C261.5 579.2 262.3 581.9 262.8 582.5"/><path d="M241.5 571.2C242.1 571.7 244.4 572.3 245.2 573.8C246.1 575.2 246.7 578.1 246.5 580.0C246.3 581.9 244.4 584.2 244.0 585.0"/></g>
<g font-family="'Liberation Sans', sans-serif" style="opacity:0.999">
<text x="251.6" y="496.7" font-size="9" fill="#383838" stroke="#383838" stroke-width="0.15" text-anchor="start" textLength="28.6" lengthAdjust="spacingAndGlyphs">Muscle</text>
<text x="321.6" y="558.2" font-size="9" fill="#383838" stroke="#383838" stroke-width="0.15" text-anchor="start" textLength="64.8" lengthAdjust="spacingAndGlyphs">Glande thyroïde</text>
<text x="437.0" y="581.2" font-size="9" fill="#383838" stroke="#383838" stroke-width="0.15" text-anchor="start" textLength="30.5" lengthAdjust="spacingAndGlyphs">Graisse</text>
<text x="583.0" y="493.2" font-size="9" fill="#383838" stroke="#383838" stroke-width="0.15" text-anchor="start" textLength="29.0" lengthAdjust="spacingAndGlyphs">Intestin</text>
<text x="566.6" y="598.2" font-size="9" fill="#383838" stroke="#383838" stroke-width="0.15" text-anchor="start" textLength="17.2" lengthAdjust="spacingAndGlyphs">Foie</text>
<text x="224.4" y="630.2" font-size="9" fill="#383838" stroke="#383838" stroke-width="0.15" text-anchor="start" textLength="68.8" lengthAdjust="spacingAndGlyphs">Glande surrénale</text>
<text x="380.4" y="695.6" font-size="9" fill="#383838" stroke="#383838" stroke-width="0.15" text-anchor="start" textLength="22.8" lengthAdjust="spacingAndGlyphs">Cœur</text>
<text x="509.0" y="686.6" font-size="9" fill="#383838" stroke="#383838" stroke-width="0.15" text-anchor="start" textLength="37.2" lengthAdjust="spacingAndGlyphs">Pancréas</text>
<text x="508.0" y="196.5" font-size="9" fill="#383838" stroke="#383838" stroke-width="0.15" text-anchor="start" textLength="27.5" lengthAdjust="spacingAndGlyphs">Cortex</text>
<text x="295.5" y="260.0" font-size="9" fill="#383838" stroke="#383838" stroke-width="0.15" text-anchor="start" textLength="34.0" lengthAdjust="spacingAndGlyphs">Cervelet</text>
<text x="552.4" y="276.2" font-size="9" fill="#383838" stroke="#383838" stroke-width="0.15" text-anchor="start" textLength="33.0" lengthAdjust="spacingAndGlyphs">Lumière</text>
<text x="482.0" y="313.2" font-size="9" fill="#383838" stroke="#383838" stroke-width="0.15" text-anchor="start" textLength="105.0" lengthAdjust="spacingAndGlyphs">Noyau suprachiasmatique</text>
<text x="228.5" y="322.5" font-size="9" fill="#f2f2f2" stroke="#f2f2f2" stroke-width="0.15" text-anchor="start" textLength="51.5" lengthAdjust="spacingAndGlyphs">Hippocampe</text>
<text x="248.5" y="347.0" font-size="9" fill="#f2f2f2" stroke="#f2f2f2" stroke-width="0.15" text-anchor="start" textLength="58.5" lengthAdjust="spacingAndGlyphs">Tronc cérébral</text>
<text x="394.1" y="333.6" font-size="9" fill="#383838" stroke="#383838" stroke-width="0.15" text-anchor="start" textLength="92.0" lengthAdjust="spacingAndGlyphs">Organes périphériques</text>
</g>
<g font-family="'Liberation Sans', sans-serif" font-size="7.6" fill="#2a2a2a" style="opacity:0.999">
<text x="190" y="717.2" font-weight="bold" font-size="7.4" textLength="39" lengthAdjust="spacingAndGlyphs" fill="#1a1a1a">FIGURE 1.2</text>
<text x="231.5" y="717.2" font-style="italic" textLength="407.5" lengthAdjust="spacingAndGlyphs">L’horloge maîtresse située dans le noyau supra chiasmatique du cerveau influence les nombreuses horloges biologiques périphé-</text>
<text x="190" y="728.2" font-style="italic" textLength="449" lengthAdjust="spacingAndGlyphs">riques dans tout le corps, transmettant principalement des informations sur l’heure du jour et les cycles lumière-ombre. Les horloges internes</text>
<text x="190" y="739.2" font-style="italic" textLength="156" lengthAdjust="spacingAndGlyphs">n’influencent pas directement l’horloge maîtresse.</text>
</g>
<g font-family="'Liberation Sans', sans-serif" font-weight="bold" style="opacity:0.999">
<text x="441.4" y="779" font-size="6.0" fill="#d9b54e" textLength="171" lengthAdjust="spacing">1. QU’EST-CE QU’UNE HORLOGE MUSCULAIRE ?</text>
<text x="649.8" y="779.2" font-size="9.2" fill="#111" textLength="8.2" lengthAdjust="spacingAndGlyphs">17</text>
</g>
</svg>
</body>
</html>
